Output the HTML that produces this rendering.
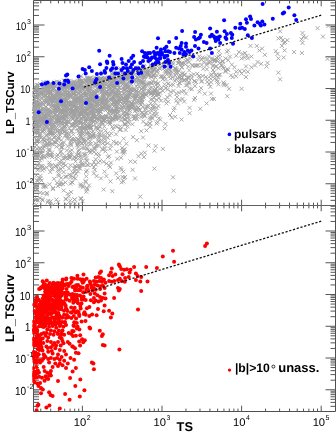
<!DOCTYPE html><html><head><meta charset="utf-8"><style>html,body{margin:0;padding:0;background:#fff;}svg{display:block;will-change:transform;}text{font-family:"Liberation Sans",sans-serif;text-rendering:geometricPrecision;}</style></head><body>
<svg width="336" height="434" viewBox="0 0 336 434">
<rect x="0" y="0" width="336" height="434" fill="#fff"/>
<g>
<path d="M33.5 200.35h5.5M335.5 200.35h-5M33.5 196.38h5.5M335.5 196.38h-5M33.5 193.31h5.5M335.5 193.31h-5M33.5 190.79h5.5M335.5 190.79h-5M33.5 188.67h5.5M335.5 188.67h-5M33.5 186.83h5.5M335.5 186.83h-5M33.5 185.20h5.5M335.5 185.20h-5M33.5 183.75h11M335.5 183.75h-10M33.5 174.19h5.5M335.5 174.19h-5M33.5 168.60h5.5M335.5 168.60h-5M33.5 164.63h5.5M335.5 164.63h-5M33.5 161.56h5.5M335.5 161.56h-5M33.5 159.04h5.5M335.5 159.04h-5M33.5 156.92h5.5M335.5 156.92h-5M33.5 155.08h5.5M335.5 155.08h-5M33.5 153.45h5.5M335.5 153.45h-5M33.5 152.00h11M335.5 152.00h-10M33.5 142.44h5.5M335.5 142.44h-5M33.5 136.85h5.5M335.5 136.85h-5M33.5 132.88h5.5M335.5 132.88h-5M33.5 129.81h5.5M335.5 129.81h-5M33.5 127.29h5.5M335.5 127.29h-5M33.5 125.17h5.5M335.5 125.17h-5M33.5 123.33h5.5M335.5 123.33h-5M33.5 121.70h5.5M335.5 121.70h-5M33.5 120.25h11M335.5 120.25h-10M33.5 110.69h5.5M335.5 110.69h-5M33.5 105.10h5.5M335.5 105.10h-5M33.5 101.13h5.5M335.5 101.13h-5M33.5 98.06h5.5M335.5 98.06h-5M33.5 95.54h5.5M335.5 95.54h-5M33.5 93.42h5.5M335.5 93.42h-5M33.5 91.58h5.5M335.5 91.58h-5M33.5 89.95h5.5M335.5 89.95h-5M33.5 88.50h11M335.5 88.50h-10M33.5 78.94h5.5M335.5 78.94h-5M33.5 73.35h5.5M335.5 73.35h-5M33.5 69.38h5.5M335.5 69.38h-5M33.5 66.31h5.5M335.5 66.31h-5M33.5 63.79h5.5M335.5 63.79h-5M33.5 61.67h5.5M335.5 61.67h-5M33.5 59.83h5.5M335.5 59.83h-5M33.5 58.20h5.5M335.5 58.20h-5M33.5 56.75h11M335.5 56.75h-10M33.5 47.19h5.5M335.5 47.19h-5M33.5 41.60h5.5M335.5 41.60h-5M33.5 37.63h5.5M335.5 37.63h-5M33.5 34.56h5.5M335.5 34.56h-5M33.5 32.04h5.5M335.5 32.04h-5M33.5 29.92h5.5M335.5 29.92h-5M33.5 28.08h5.5M335.5 28.08h-5M33.5 26.45h5.5M335.5 26.45h-5M33.5 25.00h11M335.5 25.00h-10M33.5 15.44h5.5M335.5 15.44h-5M33.5 9.85h5.5M335.5 9.85h-5M33.5 5.88h5.5M335.5 5.88h-5M33.5 2.81h5.5M335.5 2.81h-5M40.78 205.5v-2.9M40.78 0.5v2.9M50.72 205.5v-2.9M50.72 0.5v2.9M58.44 205.5v-2.9M58.44 0.5v2.9M64.74 205.5v-2.9M64.74 0.5v2.9M70.07 205.5v-2.9M70.07 0.5v2.9M74.69 205.5v-2.9M74.69 0.5v2.9M78.76 205.5v-2.9M78.76 0.5v2.9M82.40 205.5v-5.8M82.40 0.5v5.8M106.36 205.5v-2.9M106.36 0.5v2.9M120.38 205.5v-2.9M120.38 0.5v2.9M130.32 205.5v-2.9M130.32 0.5v2.9M138.04 205.5v-2.9M138.04 0.5v2.9M144.34 205.5v-2.9M144.34 0.5v2.9M149.67 205.5v-2.9M149.67 0.5v2.9M154.29 205.5v-2.9M154.29 0.5v2.9M158.36 205.5v-2.9M158.36 0.5v2.9M162.00 205.5v-5.8M162.00 0.5v5.8M185.96 205.5v-2.9M185.96 0.5v2.9M199.98 205.5v-2.9M199.98 0.5v2.9M209.92 205.5v-2.9M209.92 0.5v2.9M217.64 205.5v-2.9M217.64 0.5v2.9M223.94 205.5v-2.9M223.94 0.5v2.9M229.27 205.5v-2.9M229.27 0.5v2.9M233.89 205.5v-2.9M233.89 0.5v2.9M237.96 205.5v-2.9M237.96 0.5v2.9M241.60 205.5v-5.8M241.60 0.5v5.8M265.56 205.5v-2.9M265.56 0.5v2.9M279.58 205.5v-2.9M279.58 0.5v2.9M289.52 205.5v-2.9M289.52 0.5v2.9M297.24 205.5v-2.9M297.24 0.5v2.9M303.54 205.5v-2.9M303.54 0.5v2.9M308.87 205.5v-2.9M308.87 0.5v2.9M313.49 205.5v-2.9M313.49 0.5v2.9M317.56 205.5v-2.9M317.56 0.5v2.9M321.20 205.5v-5.8M321.20 0.5v5.8M33.5 406.35h5.5M335.5 406.35h-5M33.5 402.38h5.5M335.5 402.38h-5M33.5 399.31h5.5M335.5 399.31h-5M33.5 396.79h5.5M335.5 396.79h-5M33.5 394.67h5.5M335.5 394.67h-5M33.5 392.83h5.5M335.5 392.83h-5M33.5 391.20h5.5M335.5 391.20h-5M33.5 389.75h11M335.5 389.75h-10M33.5 380.19h5.5M335.5 380.19h-5M33.5 374.60h5.5M335.5 374.60h-5M33.5 370.63h5.5M335.5 370.63h-5M33.5 367.56h5.5M335.5 367.56h-5M33.5 365.04h5.5M335.5 365.04h-5M33.5 362.92h5.5M335.5 362.92h-5M33.5 361.08h5.5M335.5 361.08h-5M33.5 359.45h5.5M335.5 359.45h-5M33.5 358.00h11M335.5 358.00h-10M33.5 348.44h5.5M335.5 348.44h-5M33.5 342.85h5.5M335.5 342.85h-5M33.5 338.88h5.5M335.5 338.88h-5M33.5 335.81h5.5M335.5 335.81h-5M33.5 333.29h5.5M335.5 333.29h-5M33.5 331.17h5.5M335.5 331.17h-5M33.5 329.33h5.5M335.5 329.33h-5M33.5 327.70h5.5M335.5 327.70h-5M33.5 326.25h11M335.5 326.25h-10M33.5 316.69h5.5M335.5 316.69h-5M33.5 311.10h5.5M335.5 311.10h-5M33.5 307.13h5.5M335.5 307.13h-5M33.5 304.06h5.5M335.5 304.06h-5M33.5 301.54h5.5M335.5 301.54h-5M33.5 299.42h5.5M335.5 299.42h-5M33.5 297.58h5.5M335.5 297.58h-5M33.5 295.95h5.5M335.5 295.95h-5M33.5 294.50h11M335.5 294.50h-10M33.5 284.94h5.5M335.5 284.94h-5M33.5 279.35h5.5M335.5 279.35h-5M33.5 275.38h5.5M335.5 275.38h-5M33.5 272.31h5.5M335.5 272.31h-5M33.5 269.79h5.5M335.5 269.79h-5M33.5 267.67h5.5M335.5 267.67h-5M33.5 265.83h5.5M335.5 265.83h-5M33.5 264.20h5.5M335.5 264.20h-5M33.5 262.75h11M335.5 262.75h-10M33.5 253.19h5.5M335.5 253.19h-5M33.5 247.60h5.5M335.5 247.60h-5M33.5 243.63h5.5M335.5 243.63h-5M33.5 240.56h5.5M335.5 240.56h-5M33.5 238.04h5.5M335.5 238.04h-5M33.5 235.92h5.5M335.5 235.92h-5M33.5 234.08h5.5M335.5 234.08h-5M33.5 232.45h5.5M335.5 232.45h-5M33.5 231.00h11M335.5 231.00h-10M33.5 221.44h5.5M335.5 221.44h-5M33.5 215.85h5.5M335.5 215.85h-5M33.5 211.88h5.5M335.5 211.88h-5M33.5 208.81h5.5M335.5 208.81h-5M33.5 206.29h5.5M335.5 206.29h-5M40.78 411.5v-2.9M40.78 205.5v2.9M50.72 411.5v-2.9M50.72 205.5v2.9M58.44 411.5v-2.9M58.44 205.5v2.9M64.74 411.5v-2.9M64.74 205.5v2.9M70.07 411.5v-2.9M70.07 205.5v2.9M74.69 411.5v-2.9M74.69 205.5v2.9M78.76 411.5v-2.9M78.76 205.5v2.9M82.40 411.5v-5.8M82.40 205.5v5.8M106.36 411.5v-2.9M106.36 205.5v2.9M120.38 411.5v-2.9M120.38 205.5v2.9M130.32 411.5v-2.9M130.32 205.5v2.9M138.04 411.5v-2.9M138.04 205.5v2.9M144.34 411.5v-2.9M144.34 205.5v2.9M149.67 411.5v-2.9M149.67 205.5v2.9M154.29 411.5v-2.9M154.29 205.5v2.9M158.36 411.5v-2.9M158.36 205.5v2.9M162.00 411.5v-5.8M162.00 205.5v5.8M185.96 411.5v-2.9M185.96 205.5v2.9M199.98 411.5v-2.9M199.98 205.5v2.9M209.92 411.5v-2.9M209.92 205.5v2.9M217.64 411.5v-2.9M217.64 205.5v2.9M223.94 411.5v-2.9M223.94 205.5v2.9M229.27 411.5v-2.9M229.27 205.5v2.9M233.89 411.5v-2.9M233.89 205.5v2.9M237.96 411.5v-2.9M237.96 205.5v2.9M241.60 411.5v-5.8M241.60 205.5v5.8M265.56 411.5v-2.9M265.56 205.5v2.9M279.58 411.5v-2.9M279.58 205.5v2.9M289.52 411.5v-2.9M289.52 205.5v2.9M297.24 411.5v-2.9M297.24 205.5v2.9M303.54 411.5v-2.9M303.54 205.5v2.9M308.87 411.5v-2.9M308.87 205.5v2.9M313.49 411.5v-2.9M313.49 205.5v2.9M317.56 411.5v-2.9M317.56 205.5v2.9M321.20 411.5v-5.8M321.20 205.5v5.8" stroke="#555" stroke-width="1" fill="none"/>
<path d="M33.5 0.5H335.5V411.5H33.5Z" stroke="#505050" stroke-width="1" fill="none"/><path d="M33.5 205.5H335.5" stroke="#606060" stroke-width="1" fill="none"/>
<defs><clipPath id="ct"><rect x="32.3" y="0" width="304" height="205.5"/></clipPath><clipPath id="cb"><rect x="32.3" y="205.5" width="304" height="205.5"/></clipPath></defs>
<g clip-path="url(#ct)">
<path d="M226.2 48.4l4.0 4.0M226.2 52.4l4.0 -4.0M236.9 50.1l4.0 4.0M236.9 54.1l4.0 -4.0M234.2 53.7l4.0 4.0M234.2 57.7l4.0 -4.0M240.5 51.9l4.0 4.0M240.5 55.9l4.0 -4.0M243.1 51.0l4.0 4.0M243.1 55.0l4.0 -4.0M244.9 53.7l4.0 4.0M244.9 57.7l4.0 -4.0M242.2 55.5l4.0 4.0M242.2 59.5l4.0 -4.0M245.8 56.4l4.0 4.0M245.8 60.4l4.0 -4.0M239.6 56.4l4.0 4.0M239.6 60.4l4.0 -4.0M249.4 54.6l4.0 4.0M249.4 58.6l4.0 -4.0M248.5 43.9l4.0 4.0M248.5 47.9l4.0 -4.0M254.8 43.9l4.0 4.0M254.8 47.9l4.0 -4.0M257.4 48.4l4.0 4.0M257.4 52.4l4.0 -4.0M260.1 46.6l4.0 4.0M260.1 50.6l4.0 -4.0M262.8 52.8l4.0 4.0M262.8 56.8l4.0 -4.0M265.5 60.9l4.0 4.0M265.5 64.9l4.0 -4.0M264.6 64.4l4.0 4.0M264.6 68.4l4.0 -4.0M259.2 61.8l4.0 4.0M259.2 65.8l4.0 -4.0M255.6 60.0l4.0 4.0M255.6 64.0l4.0 -4.0M253.0 63.5l4.0 4.0M253.0 67.5l4.0 -4.0M249.4 65.3l4.0 4.0M249.4 69.3l4.0 -4.0M244.0 64.4l4.0 4.0M244.0 68.4l4.0 -4.0M242.2 68.9l4.0 4.0M242.2 72.9l4.0 -4.0M245.8 69.8l4.0 4.0M245.8 73.8l4.0 -4.0M239.6 71.6l4.0 4.0M239.6 75.6l4.0 -4.0M237.8 68.9l4.0 4.0M237.8 72.9l4.0 -4.0M234.2 69.8l4.0 4.0M234.2 73.8l4.0 -4.0M232.4 65.3l4.0 4.0M232.4 69.3l4.0 -4.0M229.8 62.6l4.0 4.0M229.8 66.6l4.0 -4.0M228.9 73.4l4.0 4.0M228.9 77.4l4.0 -4.0M230.6 75.1l4.0 4.0M230.6 79.1l4.0 -4.0M234.2 74.2l4.0 4.0M234.2 78.2l4.0 -4.0M244.0 75.1l4.0 4.0M244.0 79.1l4.0 -4.0M226.2 68.0l4.0 4.0M226.2 72.0l4.0 -4.0M223.5 69.8l4.0 4.0M223.5 73.8l4.0 -4.0M221.7 66.2l4.0 4.0M221.7 70.2l4.0 -4.0M219.9 63.5l4.0 4.0M219.9 67.5l4.0 -4.0M218.1 60.9l4.0 4.0M218.1 64.9l4.0 -4.0M216.4 57.3l4.0 4.0M216.4 61.3l4.0 -4.0M214.6 55.5l4.0 4.0M214.6 59.5l4.0 -4.0M212.8 59.1l4.0 4.0M212.8 63.1l4.0 -4.0M213.7 64.4l4.0 4.0M213.7 68.4l4.0 -4.0M216.4 66.2l4.0 4.0M216.4 70.2l4.0 -4.0M220.8 59.1l4.0 4.0M220.8 63.1l4.0 -4.0M223.5 56.4l4.0 4.0M223.5 60.4l4.0 -4.0M226.2 58.2l4.0 4.0M226.2 62.2l4.0 -4.0M228.0 54.6l4.0 4.0M228.0 58.6l4.0 -4.0M218.1 72.5l4.0 4.0M218.1 76.5l4.0 -4.0M216.4 75.1l4.0 4.0M216.4 79.1l4.0 -4.0M215.5 79.6l4.0 4.0M215.5 83.6l4.0 -4.0M216.4 82.3l4.0 4.0M216.4 86.3l4.0 -4.0M227.1 86.8l4.0 4.0M227.1 90.8l4.0 -4.0M239.6 86.8l4.0 4.0M239.6 90.8l4.0 -4.0M211.0 68.0l4.0 4.0M211.0 72.0l4.0 -4.0M278.1 29.3l4.0 4.0M278.1 33.3l4.0 -4.0M279.0 35.9l4.0 4.0M279.0 39.9l4.0 -4.0M280.8 38.2l4.0 4.0M280.8 42.2l4.0 -4.0M283.1 40.0l4.0 4.0M283.1 44.0l4.0 -4.0M285.3 38.2l4.0 4.0M285.3 42.2l4.0 -4.0M281.7 40.9l4.0 4.0M281.7 44.9l4.0 -4.0M300.5 31.0l4.0 4.0M300.5 35.0l4.0 -4.0M301.4 34.6l4.0 4.0M301.4 38.6l4.0 -4.0M304.0 35.5l4.0 4.0M304.0 39.5l4.0 -4.0M299.6 37.3l4.0 4.0M299.6 41.3l4.0 -4.0M300.5 40.9l4.0 4.0M300.5 44.9l4.0 -4.0M315.6 26.2l4.0 4.0M315.6 30.2l4.0 -4.0M321.0 34.6l4.0 4.0M321.0 38.6l4.0 -4.0M326.4 23.9l4.0 4.0M326.4 27.9l4.0 -4.0M276.4 36.4l4.0 4.0M276.4 40.4l4.0 -4.0M279.9 43.9l4.0 4.0M279.9 47.9l4.0 -4.0M282.6 48.4l4.0 4.0M282.6 52.4l4.0 -4.0M273.7 49.2l4.0 4.0M273.7 53.2l4.0 -4.0M275.5 51.9l4.0 4.0M275.5 55.9l4.0 -4.0M276.4 56.4l4.0 4.0M276.4 60.4l4.0 -4.0M281.7 55.5l4.0 4.0M281.7 59.5l4.0 -4.0M292.1 50.1l4.0 4.0M292.1 54.1l4.0 -4.0M299.9 51.0l4.0 4.0M299.9 55.0l4.0 -4.0M325.5 56.9l4.0 4.0M325.5 60.9l4.0 -4.0M276.4 70.7l4.0 4.0M276.4 74.7l4.0 -4.0M278.1 77.3l4.0 4.0M278.1 81.3l4.0 -4.0M211.9 96.9l4.0 4.0M211.9 100.9l4.0 -4.0M225.3 94.2l4.0 4.0M225.3 98.2l4.0 -4.0M152.8 89.8l4.0 4.0M152.8 93.8l4.0 -4.0M155.5 88.9l4.0 4.0M155.5 92.9l4.0 -4.0M158.1 90.7l4.0 4.0M158.1 94.7l4.0 -4.0M160.8 88.9l4.0 4.0M160.8 92.9l4.0 -4.0M156.4 92.5l4.0 4.0M156.4 96.5l4.0 -4.0M153.7 93.4l4.0 4.0M153.7 97.4l4.0 -4.0M151.9 96.0l4.0 4.0M151.9 100.0l4.0 -4.0M154.6 97.8l4.0 4.0M154.6 101.8l4.0 -4.0M152.8 100.5l4.0 4.0M152.8 104.5l4.0 -4.0M157.2 96.0l4.0 4.0M157.2 100.0l4.0 -4.0M159.0 98.7l4.0 4.0M159.0 102.7l4.0 -4.0M168.9 89.8l4.0 4.0M168.9 93.8l4.0 -4.0M171.5 88.9l4.0 4.0M171.5 92.9l4.0 -4.0M174.2 91.6l4.0 4.0M174.2 95.6l4.0 -4.0M176.9 90.7l4.0 4.0M176.9 94.7l4.0 -4.0M179.6 89.8l4.0 4.0M179.6 93.8l4.0 -4.0M182.2 88.9l4.0 4.0M182.2 92.9l4.0 -4.0M184.0 91.6l4.0 4.0M184.0 95.6l4.0 -4.0M168.0 93.4l4.0 4.0M168.0 97.4l4.0 -4.0M165.3 95.1l4.0 4.0M165.3 99.1l4.0 -4.0M163.5 97.8l4.0 4.0M163.5 101.8l4.0 -4.0M166.2 99.6l4.0 4.0M166.2 103.6l4.0 -4.0M164.4 101.4l4.0 4.0M164.4 105.4l4.0 -4.0M175.1 95.1l4.0 4.0M175.1 99.1l4.0 -4.0M177.8 97.8l4.0 4.0M177.8 101.8l4.0 -4.0M180.5 96.9l4.0 4.0M180.5 100.9l4.0 -4.0M182.2 99.6l4.0 4.0M182.2 103.6l4.0 -4.0M174.2 98.7l4.0 4.0M174.2 102.7l4.0 -4.0M176.0 101.4l4.0 4.0M176.0 105.4l4.0 -4.0M156.4 104.1l4.0 4.0M156.4 108.1l4.0 -4.0M154.6 105.9l4.0 4.0M154.6 109.9l4.0 -4.0M153.7 109.4l4.0 4.0M153.7 113.4l4.0 -4.0M151.9 111.2l4.0 4.0M151.9 115.2l4.0 -4.0M154.6 112.1l4.0 4.0M154.6 116.1l4.0 -4.0M152.8 113.9l4.0 4.0M152.8 117.9l4.0 -4.0M172.4 105.9l4.0 4.0M172.4 109.9l4.0 -4.0M171.5 108.5l4.0 4.0M171.5 112.5l4.0 -4.0M168.0 113.0l4.0 4.0M168.0 117.0l4.0 -4.0M169.8 115.7l4.0 4.0M169.8 119.7l4.0 -4.0M173.3 114.8l4.0 4.0M173.3 118.8l4.0 -4.0M158.1 117.5l4.0 4.0M158.1 121.5l4.0 -4.0M155.5 120.1l4.0 4.0M155.5 124.1l4.0 -4.0M154.6 121.6l4.0 4.0M154.6 125.6l4.0 -4.0M163.5 121.9l4.0 4.0M163.5 125.9l4.0 -4.0M162.6 126.4l4.0 4.0M162.6 130.4l4.0 -4.0M179.6 117.5l4.0 4.0M179.6 121.5l4.0 -4.0M187.6 105.9l4.0 4.0M187.6 109.9l4.0 -4.0M187.6 111.2l4.0 4.0M187.6 115.2l4.0 -4.0M193.0 96.0l4.0 4.0M193.0 100.0l4.0 -4.0M192.1 97.8l4.0 4.0M192.1 101.8l4.0 -4.0M197.4 89.8l4.0 4.0M197.4 93.8l4.0 -4.0M202.8 91.6l4.0 4.0M202.8 95.6l4.0 -4.0M198.3 106.8l4.0 4.0M198.3 110.8l4.0 -4.0M204.6 101.4l4.0 4.0M204.6 105.4l4.0 -4.0M209.0 91.6l4.0 4.0M209.0 95.6l4.0 -4.0M209.9 96.9l4.0 4.0M209.9 100.9l4.0 -4.0M153.7 144.1l4.0 4.0M153.7 148.1l4.0 -4.0M152.4 148.7l4.0 4.0M152.4 152.7l4.0 -4.0M160.8 146.9l4.0 4.0M160.8 150.9l4.0 -4.0M152.4 166.6l4.0 4.0M152.4 170.6l4.0 -4.0M171.0 175.3l4.0 4.0M171.0 179.3l4.0 -4.0M171.5 188.7l4.0 4.0M171.5 192.7l4.0 -4.0M91.9 159.8l4.0 4.0M91.9 163.8l4.0 -4.0M93.7 162.5l4.0 4.0M93.7 166.5l4.0 -4.0M91.9 165.1l4.0 4.0M91.9 169.1l4.0 -4.0M92.8 167.8l4.0 4.0M92.8 171.8l4.0 -4.0M96.4 160.7l4.0 4.0M96.4 164.7l4.0 -4.0M98.1 158.9l4.0 4.0M98.1 162.9l4.0 -4.0M101.7 159.8l4.0 4.0M101.7 163.8l4.0 -4.0M104.4 161.6l4.0 4.0M104.4 165.6l4.0 -4.0M107.1 163.4l4.0 4.0M107.1 167.4l4.0 -4.0M108.9 160.7l4.0 4.0M108.9 164.7l4.0 -4.0M108.0 165.1l4.0 4.0M108.0 169.1l4.0 -4.0M91.9 171.4l4.0 4.0M91.9 175.4l4.0 -4.0M94.6 174.1l4.0 4.0M94.6 178.1l4.0 -4.0M102.6 169.6l4.0 4.0M102.6 173.6l4.0 -4.0M104.4 174.1l4.0 4.0M104.4 178.1l4.0 -4.0M99.0 176.4l4.0 4.0M99.0 180.4l4.0 -4.0M108.5 179.4l4.0 4.0M108.5 183.4l4.0 -4.0M114.2 171.4l4.0 4.0M114.2 175.4l4.0 -4.0M116.0 175.9l4.0 4.0M116.0 179.9l4.0 -4.0M118.7 166.0l4.0 4.0M118.7 170.0l4.0 -4.0M119.6 167.8l4.0 4.0M119.6 171.8l4.0 -4.0M121.4 169.6l4.0 4.0M121.4 173.6l4.0 -4.0M120.5 175.0l4.0 4.0M120.5 179.0l4.0 -4.0M122.2 175.9l4.0 4.0M122.2 179.9l4.0 -4.0M123.1 175.0l4.0 4.0M123.1 179.0l4.0 -4.0M119.6 180.3l4.0 4.0M119.6 184.3l4.0 -4.0M121.4 179.4l4.0 4.0M121.4 183.4l4.0 -4.0M128.5 159.4l4.0 4.0M128.5 163.4l4.0 -4.0M133.0 159.8l4.0 4.0M133.0 163.8l4.0 -4.0M130.6 167.8l4.0 4.0M130.6 171.8l4.0 -4.0M133.0 176.4l4.0 4.0M133.0 180.4l4.0 -4.0M101.7 187.5l4.0 4.0M101.7 191.5l4.0 -4.0M110.3 189.2l4.0 4.0M110.3 193.2l4.0 -4.0M138.3 194.6l4.0 4.0M138.3 198.6l4.0 -4.0M134.8 138.2l4.0 4.0M134.8 142.2l4.0 -4.0M141.0 135.5l4.0 4.0M141.0 139.5l4.0 -4.0M139.2 129.2l4.0 4.0M139.2 133.2l4.0 -4.0M144.6 128.4l4.0 4.0M144.6 132.4l4.0 -4.0M148.1 124.8l4.0 4.0M148.1 128.8l4.0 -4.0M136.5 154.2l4.0 4.0M136.5 158.2l4.0 -4.0M139.2 151.6l4.0 4.0M139.2 155.6l4.0 -4.0M142.8 150.7l4.0 4.0M142.8 154.7l4.0 -4.0M141.9 155.1l4.0 4.0M141.9 159.1l4.0 -4.0M146.4 143.5l4.0 4.0M146.4 147.5l4.0 -4.0M216.8 49.2l4.0 4.0M216.8 53.2l4.0 -4.0M224.9 49.8l4.0 4.0M224.9 53.8l4.0 -4.0M189.3 53.9l4.0 4.0M189.3 57.9l4.0 -4.0M218.1 53.2l4.0 4.0M218.1 57.2l4.0 -4.0M182.0 54.9l4.0 4.0M182.0 58.9l4.0 -4.0M197.2 54.4l4.0 4.0M197.2 58.4l4.0 -4.0M206.9 54.4l4.0 4.0M206.9 58.4l4.0 -4.0M216.4 54.6l4.0 4.0M216.4 58.6l4.0 -4.0M200.5 55.5l4.0 4.0M200.5 59.5l4.0 -4.0M202.7 55.9l4.0 4.0M202.7 59.9l4.0 -4.0M188.2 56.5l4.0 4.0M188.2 60.5l4.0 -4.0M210.0 56.3l4.0 4.0M210.0 60.3l4.0 -4.0M185.3 57.2l4.0 4.0M185.3 61.2l4.0 -4.0M196.1 57.7l4.0 4.0M196.1 61.7l4.0 -4.0M199.3 57.7l4.0 4.0M199.3 61.7l4.0 -4.0M205.6 57.2l4.0 4.0M205.6 61.2l4.0 -4.0M212.7 57.4l4.0 4.0M212.7 61.4l4.0 -4.0M176.9 58.1l4.0 4.0M176.9 62.1l4.0 -4.0M176.9 58.8l4.0 4.0M176.9 62.8l4.0 -4.0M185.9 58.3l4.0 4.0M185.9 62.3l4.0 -4.0M210.4 58.0l4.0 4.0M210.4 62.0l4.0 -4.0M212.5 58.8l4.0 4.0M212.5 62.8l4.0 -4.0M183.6 59.0l4.0 4.0M183.6 63.0l4.0 -4.0M201.8 59.7l4.0 4.0M201.8 63.7l4.0 -4.0M208.7 59.6l4.0 4.0M208.7 63.6l4.0 -4.0M215.1 59.0l4.0 4.0M215.1 63.0l4.0 -4.0M220.7 59.7l4.0 4.0M220.7 63.7l4.0 -4.0M166.7 61.0l4.0 4.0M166.7 65.0l4.0 -4.0M170.6 60.3l4.0 4.0M170.6 64.3l4.0 -4.0M177.3 60.7l4.0 4.0M177.3 64.7l4.0 -4.0M187.0 60.3l4.0 4.0M187.0 64.3l4.0 -4.0M207.7 60.4l4.0 4.0M207.7 64.4l4.0 -4.0M207.0 60.7l4.0 4.0M207.0 64.7l4.0 -4.0M154.7 61.8l4.0 4.0M154.7 65.8l4.0 -4.0M159.5 61.6l4.0 4.0M159.5 65.6l4.0 -4.0M171.0 61.7l4.0 4.0M171.0 65.7l4.0 -4.0M175.9 61.1l4.0 4.0M175.9 65.1l4.0 -4.0M179.9 61.1l4.0 4.0M179.9 65.1l4.0 -4.0M179.6 61.4l4.0 4.0M179.6 65.4l4.0 -4.0M179.7 61.9l4.0 4.0M179.7 65.9l4.0 -4.0M181.9 61.2l4.0 4.0M181.9 65.2l4.0 -4.0M205.0 61.4l4.0 4.0M205.0 65.4l4.0 -4.0M148.7 62.6l4.0 4.0M148.7 66.6l4.0 -4.0M178.5 62.3l4.0 4.0M178.5 66.3l4.0 -4.0M183.4 62.4l4.0 4.0M183.4 66.4l4.0 -4.0M190.4 63.0l4.0 4.0M190.4 67.0l4.0 -4.0M141.8 63.9l4.0 4.0M141.8 67.9l4.0 -4.0M148.7 63.5l4.0 4.0M148.7 67.5l4.0 -4.0M166.4 63.4l4.0 4.0M166.4 67.4l4.0 -4.0M170.0 63.4l4.0 4.0M170.0 67.4l4.0 -4.0M190.9 63.8l4.0 4.0M190.9 67.8l4.0 -4.0M193.2 63.7l4.0 4.0M193.2 67.7l4.0 -4.0M194.1 63.6l4.0 4.0M194.1 67.6l4.0 -4.0M195.1 63.6l4.0 4.0M195.1 67.6l4.0 -4.0M196.3 63.2l4.0 4.0M196.3 67.2l4.0 -4.0M199.7 63.1l4.0 4.0M199.7 67.1l4.0 -4.0M204.6 63.1l4.0 4.0M204.6 67.1l4.0 -4.0M211.0 63.5l4.0 4.0M211.0 67.5l4.0 -4.0M219.2 63.2l4.0 4.0M219.2 67.2l4.0 -4.0M150.8 64.8l4.0 4.0M150.8 68.8l4.0 -4.0M151.9 64.6l4.0 4.0M151.9 68.6l4.0 -4.0M159.8 64.2l4.0 4.0M159.8 68.2l4.0 -4.0M164.0 64.7l4.0 4.0M164.0 68.7l4.0 -4.0M179.9 65.0l4.0 4.0M179.9 69.0l4.0 -4.0M186.2 64.6l4.0 4.0M186.2 68.6l4.0 -4.0M211.0 64.3l4.0 4.0M211.0 68.3l4.0 -4.0M214.2 64.4l4.0 4.0M214.2 68.4l4.0 -4.0M220.8 65.0l4.0 4.0M220.8 69.0l4.0 -4.0M122.1 65.8l4.0 4.0M122.1 69.8l4.0 -4.0M133.3 65.3l4.0 4.0M133.3 69.3l4.0 -4.0M142.4 65.0l4.0 4.0M142.4 69.0l4.0 -4.0M149.4 65.5l4.0 4.0M149.4 69.5l4.0 -4.0M153.9 65.7l4.0 4.0M153.9 69.7l4.0 -4.0M158.8 65.3l4.0 4.0M158.8 69.3l4.0 -4.0M162.2 65.8l4.0 4.0M162.2 69.8l4.0 -4.0M179.6 65.5l4.0 4.0M179.6 69.5l4.0 -4.0M118.4 66.3l4.0 4.0M118.4 70.3l4.0 -4.0M138.7 66.8l4.0 4.0M138.7 70.8l4.0 -4.0M149.2 66.1l4.0 4.0M149.2 70.1l4.0 -4.0M151.4 67.0l4.0 4.0M151.4 71.0l4.0 -4.0M157.7 66.8l4.0 4.0M157.7 70.8l4.0 -4.0M157.4 66.1l4.0 4.0M157.4 70.1l4.0 -4.0M166.1 66.7l4.0 4.0M166.1 70.7l4.0 -4.0M173.3 66.8l4.0 4.0M173.3 70.8l4.0 -4.0M173.2 66.0l4.0 4.0M173.2 70.0l4.0 -4.0M201.3 66.8l4.0 4.0M201.3 70.8l4.0 -4.0M126.7 67.2l4.0 4.0M126.7 71.2l4.0 -4.0M132.2 67.5l4.0 4.0M132.2 71.5l4.0 -4.0M138.8 67.0l4.0 4.0M138.8 71.0l4.0 -4.0M145.6 67.4l4.0 4.0M145.6 71.4l4.0 -4.0M152.1 67.8l4.0 4.0M152.1 71.8l4.0 -4.0M167.6 68.0l4.0 4.0M167.6 72.0l4.0 -4.0M173.1 67.3l4.0 4.0M173.1 71.3l4.0 -4.0M173.9 67.7l4.0 4.0M173.9 71.7l4.0 -4.0M204.9 67.3l4.0 4.0M204.9 71.3l4.0 -4.0M225.3 67.1l4.0 4.0M225.3 71.1l4.0 -4.0M113.4 68.4l4.0 4.0M113.4 72.4l4.0 -4.0M118.6 68.3l4.0 4.0M118.6 72.3l4.0 -4.0M119.1 68.5l4.0 4.0M119.1 72.5l4.0 -4.0M137.8 68.3l4.0 4.0M137.8 72.3l4.0 -4.0M139.1 68.2l4.0 4.0M139.1 72.2l4.0 -4.0M140.6 68.4l4.0 4.0M140.6 72.4l4.0 -4.0M142.6 68.9l4.0 4.0M142.6 72.9l4.0 -4.0M146.5 68.6l4.0 4.0M146.5 72.6l4.0 -4.0M150.5 68.2l4.0 4.0M150.5 72.2l4.0 -4.0M150.8 68.5l4.0 4.0M150.8 72.5l4.0 -4.0M152.5 68.2l4.0 4.0M152.5 72.2l4.0 -4.0M155.8 68.0l4.0 4.0M155.8 72.0l4.0 -4.0M162.8 68.8l4.0 4.0M162.8 72.8l4.0 -4.0M164.8 68.7l4.0 4.0M164.8 72.7l4.0 -4.0M167.6 68.7l4.0 4.0M167.6 72.7l4.0 -4.0M174.5 68.1l4.0 4.0M174.5 72.1l4.0 -4.0M177.0 68.8l4.0 4.0M177.0 72.8l4.0 -4.0M187.2 68.4l4.0 4.0M187.2 72.4l4.0 -4.0M223.5 68.5l4.0 4.0M223.5 72.5l4.0 -4.0M136.3 69.6l4.0 4.0M136.3 73.6l4.0 -4.0M143.5 69.9l4.0 4.0M143.5 73.9l4.0 -4.0M145.2 69.3l4.0 4.0M145.2 73.3l4.0 -4.0M145.8 69.4l4.0 4.0M145.8 73.4l4.0 -4.0M147.2 69.1l4.0 4.0M147.2 73.1l4.0 -4.0M150.2 69.5l4.0 4.0M150.2 73.5l4.0 -4.0M154.6 69.5l4.0 4.0M154.6 73.5l4.0 -4.0M155.4 69.3l4.0 4.0M155.4 73.3l4.0 -4.0M163.9 70.0l4.0 4.0M163.9 74.0l4.0 -4.0M165.9 69.9l4.0 4.0M165.9 73.9l4.0 -4.0M169.3 69.1l4.0 4.0M169.3 73.1l4.0 -4.0M100.4 70.6l4.0 4.0M100.4 74.6l4.0 -4.0M110.3 70.2l4.0 4.0M110.3 74.2l4.0 -4.0M122.9 70.7l4.0 4.0M122.9 74.7l4.0 -4.0M129.0 70.3l4.0 4.0M129.0 74.3l4.0 -4.0M144.1 70.4l4.0 4.0M144.1 74.4l4.0 -4.0M145.1 71.0l4.0 4.0M145.1 75.0l4.0 -4.0M145.1 70.5l4.0 4.0M145.1 74.5l4.0 -4.0M150.2 70.9l4.0 4.0M150.2 74.9l4.0 -4.0M173.6 70.3l4.0 4.0M173.6 74.3l4.0 -4.0M175.4 70.1l4.0 4.0M175.4 74.1l4.0 -4.0M181.1 70.7l4.0 4.0M181.1 74.7l4.0 -4.0M212.1 70.2l4.0 4.0M212.1 74.2l4.0 -4.0M109.6 71.8l4.0 4.0M109.6 75.8l4.0 -4.0M117.0 71.8l4.0 4.0M117.0 75.8l4.0 -4.0M120.2 71.1l4.0 4.0M120.2 75.1l4.0 -4.0M120.2 71.1l4.0 4.0M120.2 75.1l4.0 -4.0M123.9 71.9l4.0 4.0M123.9 75.9l4.0 -4.0M136.0 71.7l4.0 4.0M136.0 75.7l4.0 -4.0M138.3 71.6l4.0 4.0M138.3 75.6l4.0 -4.0M141.3 72.0l4.0 4.0M141.3 76.0l4.0 -4.0M145.9 71.0l4.0 4.0M145.9 75.0l4.0 -4.0M167.3 71.1l4.0 4.0M167.3 75.1l4.0 -4.0M169.0 71.7l4.0 4.0M169.0 75.7l4.0 -4.0M174.6 71.8l4.0 4.0M174.6 75.8l4.0 -4.0M180.4 71.9l4.0 4.0M180.4 75.9l4.0 -4.0M195.3 71.8l4.0 4.0M195.3 75.8l4.0 -4.0M110.2 72.0l4.0 4.0M110.2 76.0l4.0 -4.0M123.0 72.6l4.0 4.0M123.0 76.6l4.0 -4.0M122.4 72.9l4.0 4.0M122.4 76.9l4.0 -4.0M124.0 72.3l4.0 4.0M124.0 76.3l4.0 -4.0M124.6 72.6l4.0 4.0M124.6 76.6l4.0 -4.0M124.2 72.9l4.0 4.0M124.2 76.9l4.0 -4.0M124.1 72.7l4.0 4.0M124.1 76.7l4.0 -4.0M125.8 72.2l4.0 4.0M125.8 76.2l4.0 -4.0M126.8 73.0l4.0 4.0M126.8 77.0l4.0 -4.0M126.8 72.9l4.0 4.0M126.8 76.9l4.0 -4.0M132.8 72.3l4.0 4.0M132.8 76.3l4.0 -4.0M145.5 72.4l4.0 4.0M145.5 76.4l4.0 -4.0M146.5 72.4l4.0 4.0M146.5 76.4l4.0 -4.0M151.9 72.8l4.0 4.0M151.9 76.8l4.0 -4.0M164.8 72.5l4.0 4.0M164.8 76.5l4.0 -4.0M177.9 73.0l4.0 4.0M177.9 77.0l4.0 -4.0M182.3 72.8l4.0 4.0M182.3 76.8l4.0 -4.0M191.9 72.3l4.0 4.0M191.9 76.3l4.0 -4.0M209.5 72.3l4.0 4.0M209.5 76.3l4.0 -4.0M217.1 72.9l4.0 4.0M217.1 76.9l4.0 -4.0M123.4 73.1l4.0 4.0M123.4 77.1l4.0 -4.0M123.8 73.5l4.0 4.0M123.8 77.5l4.0 -4.0M129.6 73.7l4.0 4.0M129.6 77.7l4.0 -4.0M139.6 73.3l4.0 4.0M139.6 77.3l4.0 -4.0M140.0 73.6l4.0 4.0M140.0 77.6l4.0 -4.0M141.7 73.9l4.0 4.0M141.7 77.9l4.0 -4.0M143.0 73.8l4.0 4.0M143.0 77.8l4.0 -4.0M146.5 73.8l4.0 4.0M146.5 77.8l4.0 -4.0M146.7 73.8l4.0 4.0M146.7 77.8l4.0 -4.0M151.2 73.5l4.0 4.0M151.2 77.5l4.0 -4.0M154.5 73.1l4.0 4.0M154.5 77.1l4.0 -4.0M168.4 73.8l4.0 4.0M168.4 77.8l4.0 -4.0M173.2 73.3l4.0 4.0M173.2 77.3l4.0 -4.0M182.5 73.1l4.0 4.0M182.5 77.1l4.0 -4.0M189.2 73.3l4.0 4.0M189.2 77.3l4.0 -4.0M197.1 73.9l4.0 4.0M197.1 77.9l4.0 -4.0M200.7 74.0l4.0 4.0M200.7 78.0l4.0 -4.0M208.9 73.6l4.0 4.0M208.9 77.6l4.0 -4.0M213.7 73.0l4.0 4.0M213.7 77.0l4.0 -4.0M213.9 73.6l4.0 4.0M213.9 77.6l4.0 -4.0M79.2 74.0l4.0 4.0M79.2 78.0l4.0 -4.0M112.7 74.0l4.0 4.0M112.7 78.0l4.0 -4.0M115.7 74.7l4.0 4.0M115.7 78.7l4.0 -4.0M117.1 74.2l4.0 4.0M117.1 78.2l4.0 -4.0M121.7 75.0l4.0 4.0M121.7 79.0l4.0 -4.0M127.1 74.1l4.0 4.0M127.1 78.1l4.0 -4.0M129.9 74.3l4.0 4.0M129.9 78.3l4.0 -4.0M137.9 74.7l4.0 4.0M137.9 78.7l4.0 -4.0M138.8 74.4l4.0 4.0M138.8 78.4l4.0 -4.0M141.7 74.8l4.0 4.0M141.7 78.8l4.0 -4.0M149.0 74.4l4.0 4.0M149.0 78.4l4.0 -4.0M149.6 74.4l4.0 4.0M149.6 78.4l4.0 -4.0M151.5 74.2l4.0 4.0M151.5 78.2l4.0 -4.0M158.7 74.5l4.0 4.0M158.7 78.5l4.0 -4.0M159.6 74.9l4.0 4.0M159.6 78.9l4.0 -4.0M160.5 74.2l4.0 4.0M160.5 78.2l4.0 -4.0M162.4 74.4l4.0 4.0M162.4 78.4l4.0 -4.0M179.6 74.5l4.0 4.0M179.6 78.5l4.0 -4.0M186.1 74.6l4.0 4.0M186.1 78.6l4.0 -4.0M203.9 74.9l4.0 4.0M203.9 78.9l4.0 -4.0M84.9 75.6l4.0 4.0M84.9 79.6l4.0 -4.0M92.7 75.2l4.0 4.0M92.7 79.2l4.0 -4.0M96.6 75.4l4.0 4.0M96.6 79.4l4.0 -4.0M102.8 75.7l4.0 4.0M102.8 79.7l4.0 -4.0M106.8 75.7l4.0 4.0M106.8 79.7l4.0 -4.0M107.8 75.3l4.0 4.0M107.8 79.3l4.0 -4.0M109.0 75.6l4.0 4.0M109.0 79.6l4.0 -4.0M110.8 75.9l4.0 4.0M110.8 79.9l4.0 -4.0M112.4 75.4l4.0 4.0M112.4 79.4l4.0 -4.0M117.0 75.9l4.0 4.0M117.0 79.9l4.0 -4.0M118.5 75.9l4.0 4.0M118.5 79.9l4.0 -4.0M119.4 75.8l4.0 4.0M119.4 79.8l4.0 -4.0M124.6 75.3l4.0 4.0M124.6 79.3l4.0 -4.0M124.1 75.9l4.0 4.0M124.1 79.9l4.0 -4.0M126.0 75.0l4.0 4.0M126.0 79.0l4.0 -4.0M126.3 75.2l4.0 4.0M126.3 79.2l4.0 -4.0M129.2 75.4l4.0 4.0M129.2 79.4l4.0 -4.0M134.6 75.5l4.0 4.0M134.6 79.5l4.0 -4.0M135.6 75.9l4.0 4.0M135.6 79.9l4.0 -4.0M141.8 76.0l4.0 4.0M141.8 80.0l4.0 -4.0M143.2 75.0l4.0 4.0M143.2 79.0l4.0 -4.0M149.4 75.1l4.0 4.0M149.4 79.1l4.0 -4.0M153.5 75.6l4.0 4.0M153.5 79.6l4.0 -4.0M170.8 75.4l4.0 4.0M170.8 79.4l4.0 -4.0M177.4 75.4l4.0 4.0M177.4 79.4l4.0 -4.0M197.5 75.7l4.0 4.0M197.5 79.7l4.0 -4.0M78.3 76.4l4.0 4.0M78.3 80.4l4.0 -4.0M85.2 77.0l4.0 4.0M85.2 81.0l4.0 -4.0M86.3 76.0l4.0 4.0M86.3 80.0l4.0 -4.0M87.9 76.6l4.0 4.0M87.9 80.6l4.0 -4.0M88.0 76.2l4.0 4.0M88.0 80.2l4.0 -4.0M87.3 76.4l4.0 4.0M87.3 80.4l4.0 -4.0M87.2 76.2l4.0 4.0M87.2 80.2l4.0 -4.0M88.5 76.4l4.0 4.0M88.5 80.4l4.0 -4.0M98.6 76.1l4.0 4.0M98.6 80.1l4.0 -4.0M98.1 76.9l4.0 4.0M98.1 80.9l4.0 -4.0M99.4 76.5l4.0 4.0M99.4 80.5l4.0 -4.0M99.3 76.7l4.0 4.0M99.3 80.7l4.0 -4.0M100.6 76.7l4.0 4.0M100.6 80.7l4.0 -4.0M102.6 76.0l4.0 4.0M102.6 80.0l4.0 -4.0M104.2 76.8l4.0 4.0M104.2 80.8l4.0 -4.0M107.9 76.3l4.0 4.0M107.9 80.3l4.0 -4.0M110.3 76.4l4.0 4.0M110.3 80.4l4.0 -4.0M111.2 76.1l4.0 4.0M111.2 80.1l4.0 -4.0M112.0 76.2l4.0 4.0M112.0 80.2l4.0 -4.0M123.3 76.6l4.0 4.0M123.3 80.6l4.0 -4.0M125.2 76.7l4.0 4.0M125.2 80.7l4.0 -4.0M126.2 76.7l4.0 4.0M126.2 80.7l4.0 -4.0M126.1 76.9l4.0 4.0M126.1 80.9l4.0 -4.0M136.6 76.2l4.0 4.0M136.6 80.2l4.0 -4.0M161.1 77.0l4.0 4.0M161.1 81.0l4.0 -4.0M168.6 76.5l4.0 4.0M168.6 80.5l4.0 -4.0M175.5 76.3l4.0 4.0M175.5 80.3l4.0 -4.0M179.3 76.5l4.0 4.0M179.3 80.5l4.0 -4.0M185.9 76.1l4.0 4.0M185.9 80.1l4.0 -4.0M186.6 76.1l4.0 4.0M186.6 80.1l4.0 -4.0M189.8 76.3l4.0 4.0M189.8 80.3l4.0 -4.0M205.2 76.5l4.0 4.0M205.2 80.5l4.0 -4.0M208.8 76.8l4.0 4.0M208.8 80.8l4.0 -4.0M212.5 76.7l4.0 4.0M212.5 80.7l4.0 -4.0M83.7 77.8l4.0 4.0M83.7 81.8l4.0 -4.0M86.1 77.9l4.0 4.0M86.1 81.9l4.0 -4.0M87.5 77.6l4.0 4.0M87.5 81.6l4.0 -4.0M88.0 77.2l4.0 4.0M88.0 81.2l4.0 -4.0M89.3 77.4l4.0 4.0M89.3 81.4l4.0 -4.0M90.7 77.1l4.0 4.0M90.7 81.1l4.0 -4.0M96.5 77.6l4.0 4.0M96.5 81.6l4.0 -4.0M102.4 77.2l4.0 4.0M102.4 81.2l4.0 -4.0M105.7 77.2l4.0 4.0M105.7 81.2l4.0 -4.0M106.9 77.6l4.0 4.0M106.9 81.6l4.0 -4.0M106.5 77.9l4.0 4.0M106.5 81.9l4.0 -4.0M111.4 77.9l4.0 4.0M111.4 81.9l4.0 -4.0M114.4 77.2l4.0 4.0M114.4 81.2l4.0 -4.0M123.9 77.1l4.0 4.0M123.9 81.1l4.0 -4.0M129.6 77.6l4.0 4.0M129.6 81.6l4.0 -4.0M133.6 77.9l4.0 4.0M133.6 81.9l4.0 -4.0M141.0 77.3l4.0 4.0M141.0 81.3l4.0 -4.0M160.7 77.3l4.0 4.0M160.7 81.3l4.0 -4.0M163.9 77.4l4.0 4.0M163.9 81.4l4.0 -4.0M174.1 77.4l4.0 4.0M174.1 81.4l4.0 -4.0M179.0 77.6l4.0 4.0M179.0 81.6l4.0 -4.0M182.3 77.9l4.0 4.0M182.3 81.9l4.0 -4.0M62.0 78.5l4.0 4.0M62.0 82.5l4.0 -4.0M67.5 78.9l4.0 4.0M67.5 82.9l4.0 -4.0M77.6 78.6l4.0 4.0M77.6 82.6l4.0 -4.0M78.9 78.6l4.0 4.0M78.9 82.6l4.0 -4.0M79.6 78.9l4.0 4.0M79.6 82.9l4.0 -4.0M79.5 78.8l4.0 4.0M79.5 82.8l4.0 -4.0M83.9 78.9l4.0 4.0M83.9 82.9l4.0 -4.0M86.0 78.2l4.0 4.0M86.0 82.2l4.0 -4.0M89.9 78.6l4.0 4.0M89.9 82.6l4.0 -4.0M93.1 78.9l4.0 4.0M93.1 82.9l4.0 -4.0M94.8 78.6l4.0 4.0M94.8 82.6l4.0 -4.0M95.7 78.4l4.0 4.0M95.7 82.4l4.0 -4.0M96.0 78.5l4.0 4.0M96.0 82.5l4.0 -4.0M96.6 78.8l4.0 4.0M96.6 82.8l4.0 -4.0M96.7 78.0l4.0 4.0M96.7 82.0l4.0 -4.0M98.1 78.4l4.0 4.0M98.1 82.4l4.0 -4.0M100.2 78.3l4.0 4.0M100.2 82.3l4.0 -4.0M101.4 78.7l4.0 4.0M101.4 82.7l4.0 -4.0M105.4 78.4l4.0 4.0M105.4 82.4l4.0 -4.0M112.2 78.2l4.0 4.0M112.2 82.2l4.0 -4.0M113.7 78.4l4.0 4.0M113.7 82.4l4.0 -4.0M121.3 78.2l4.0 4.0M121.3 82.2l4.0 -4.0M121.2 78.2l4.0 4.0M121.2 82.2l4.0 -4.0M129.8 78.5l4.0 4.0M129.8 82.5l4.0 -4.0M131.9 78.5l4.0 4.0M131.9 82.5l4.0 -4.0M131.8 78.1l4.0 4.0M131.8 82.1l4.0 -4.0M136.3 78.4l4.0 4.0M136.3 82.4l4.0 -4.0M137.5 78.5l4.0 4.0M137.5 82.5l4.0 -4.0M138.0 78.4l4.0 4.0M138.0 82.4l4.0 -4.0M172.8 78.9l4.0 4.0M172.8 82.9l4.0 -4.0M182.1 78.5l4.0 4.0M182.1 82.5l4.0 -4.0M182.3 78.3l4.0 4.0M182.3 82.3l4.0 -4.0M184.9 78.2l4.0 4.0M184.9 82.2l4.0 -4.0M214.7 78.0l4.0 4.0M214.7 82.0l4.0 -4.0M55.0 79.7l4.0 4.0M55.0 83.7l4.0 -4.0M62.5 79.4l4.0 4.0M62.5 83.4l4.0 -4.0M64.1 79.7l4.0 4.0M64.1 83.7l4.0 -4.0M72.1 79.4l4.0 4.0M72.1 83.4l4.0 -4.0M74.9 79.8l4.0 4.0M74.9 83.8l4.0 -4.0M76.8 79.5l4.0 4.0M76.8 83.5l4.0 -4.0M77.1 79.3l4.0 4.0M77.1 83.3l4.0 -4.0M78.7 80.0l4.0 4.0M78.7 84.0l4.0 -4.0M79.6 79.4l4.0 4.0M79.6 83.4l4.0 -4.0M81.3 79.3l4.0 4.0M81.3 83.3l4.0 -4.0M84.3 79.4l4.0 4.0M84.3 83.4l4.0 -4.0M85.2 79.9l4.0 4.0M85.2 83.9l4.0 -4.0M87.9 79.5l4.0 4.0M87.9 83.5l4.0 -4.0M88.3 79.3l4.0 4.0M88.3 83.3l4.0 -4.0M89.7 79.9l4.0 4.0M89.7 83.9l4.0 -4.0M91.0 80.0l4.0 4.0M91.0 84.0l4.0 -4.0M94.9 79.6l4.0 4.0M94.9 83.6l4.0 -4.0M95.4 79.7l4.0 4.0M95.4 83.7l4.0 -4.0M98.5 79.8l4.0 4.0M98.5 83.8l4.0 -4.0M101.5 79.1l4.0 4.0M101.5 83.1l4.0 -4.0M107.4 79.2l4.0 4.0M107.4 83.2l4.0 -4.0M107.6 79.7l4.0 4.0M107.6 83.7l4.0 -4.0M110.3 79.8l4.0 4.0M110.3 83.8l4.0 -4.0M112.0 79.5l4.0 4.0M112.0 83.5l4.0 -4.0M115.3 79.9l4.0 4.0M115.3 83.9l4.0 -4.0M117.4 79.3l4.0 4.0M117.4 83.3l4.0 -4.0M119.9 79.4l4.0 4.0M119.9 83.4l4.0 -4.0M119.5 79.1l4.0 4.0M119.5 83.1l4.0 -4.0M127.3 79.7l4.0 4.0M127.3 83.7l4.0 -4.0M134.4 79.6l4.0 4.0M134.4 83.6l4.0 -4.0M140.0 79.6l4.0 4.0M140.0 83.6l4.0 -4.0M150.6 79.2l4.0 4.0M150.6 83.2l4.0 -4.0M192.4 79.3l4.0 4.0M192.4 83.3l4.0 -4.0M192.3 79.2l4.0 4.0M192.3 83.2l4.0 -4.0M199.2 79.5l4.0 4.0M199.2 83.5l4.0 -4.0M200.0 79.2l4.0 4.0M200.0 83.2l4.0 -4.0M205.4 79.9l4.0 4.0M205.4 83.9l4.0 -4.0M41.5 80.1l4.0 4.0M41.5 84.1l4.0 -4.0M45.2 80.7l4.0 4.0M45.2 84.7l4.0 -4.0M52.5 80.5l4.0 4.0M52.5 84.5l4.0 -4.0M56.9 80.0l4.0 4.0M56.9 84.0l4.0 -4.0M67.1 80.5l4.0 4.0M67.1 84.5l4.0 -4.0M71.7 80.5l4.0 4.0M71.7 84.5l4.0 -4.0M72.4 80.3l4.0 4.0M72.4 84.3l4.0 -4.0M74.8 80.5l4.0 4.0M74.8 84.5l4.0 -4.0M80.2 80.3l4.0 4.0M80.2 84.3l4.0 -4.0M81.1 80.5l4.0 4.0M81.1 84.5l4.0 -4.0M87.9 80.7l4.0 4.0M87.9 84.7l4.0 -4.0M92.3 80.8l4.0 4.0M92.3 84.8l4.0 -4.0M101.0 80.8l4.0 4.0M101.0 84.8l4.0 -4.0M109.0 80.5l4.0 4.0M109.0 84.5l4.0 -4.0M115.7 80.2l4.0 4.0M115.7 84.2l4.0 -4.0M117.7 80.4l4.0 4.0M117.7 84.4l4.0 -4.0M119.6 80.5l4.0 4.0M119.6 84.5l4.0 -4.0M120.9 80.2l4.0 4.0M120.9 84.2l4.0 -4.0M125.3 80.6l4.0 4.0M125.3 84.6l4.0 -4.0M127.8 80.7l4.0 4.0M127.8 84.7l4.0 -4.0M131.6 80.3l4.0 4.0M131.6 84.3l4.0 -4.0M139.2 80.1l4.0 4.0M139.2 84.1l4.0 -4.0M140.8 80.2l4.0 4.0M140.8 84.2l4.0 -4.0M141.9 80.2l4.0 4.0M141.9 84.2l4.0 -4.0M147.4 80.6l4.0 4.0M147.4 84.6l4.0 -4.0M149.8 80.9l4.0 4.0M149.8 84.9l4.0 -4.0M153.6 80.1l4.0 4.0M153.6 84.1l4.0 -4.0M153.5 80.7l4.0 4.0M153.5 84.7l4.0 -4.0M177.4 80.6l4.0 4.0M177.4 84.6l4.0 -4.0M186.8 80.1l4.0 4.0M186.8 84.1l4.0 -4.0M194.1 80.1l4.0 4.0M194.1 84.1l4.0 -4.0M209.1 80.3l4.0 4.0M209.1 84.3l4.0 -4.0M221.6 80.5l4.0 4.0M221.6 84.5l4.0 -4.0M48.8 81.7l4.0 4.0M48.8 85.7l4.0 -4.0M58.6 81.9l4.0 4.0M58.6 85.9l4.0 -4.0M60.5 81.6l4.0 4.0M60.5 85.6l4.0 -4.0M68.3 81.2l4.0 4.0M68.3 85.2l4.0 -4.0M69.6 81.3l4.0 4.0M69.6 85.3l4.0 -4.0M71.2 81.0l4.0 4.0M71.2 85.0l4.0 -4.0M78.7 81.4l4.0 4.0M78.7 85.4l4.0 -4.0M79.5 81.1l4.0 4.0M79.5 85.1l4.0 -4.0M85.8 81.5l4.0 4.0M85.8 85.5l4.0 -4.0M85.1 81.4l4.0 4.0M85.1 85.4l4.0 -4.0M89.1 81.6l4.0 4.0M89.1 85.6l4.0 -4.0M93.3 81.6l4.0 4.0M93.3 85.6l4.0 -4.0M94.6 81.4l4.0 4.0M94.6 85.4l4.0 -4.0M96.7 81.7l4.0 4.0M96.7 85.7l4.0 -4.0M100.1 81.1l4.0 4.0M100.1 85.1l4.0 -4.0M100.5 81.9l4.0 4.0M100.5 85.9l4.0 -4.0M102.4 81.5l4.0 4.0M102.4 85.5l4.0 -4.0M103.9 81.5l4.0 4.0M103.9 85.5l4.0 -4.0M105.4 81.6l4.0 4.0M105.4 85.6l4.0 -4.0M111.9 81.7l4.0 4.0M111.9 85.7l4.0 -4.0M113.2 81.0l4.0 4.0M113.2 85.0l4.0 -4.0M121.6 81.3l4.0 4.0M121.6 85.3l4.0 -4.0M124.0 81.7l4.0 4.0M124.0 85.7l4.0 -4.0M138.0 81.6l4.0 4.0M138.0 85.6l4.0 -4.0M140.2 81.2l4.0 4.0M140.2 85.2l4.0 -4.0M141.9 81.8l4.0 4.0M141.9 85.8l4.0 -4.0M146.1 81.3l4.0 4.0M146.1 85.3l4.0 -4.0M149.3 81.4l4.0 4.0M149.3 85.4l4.0 -4.0M156.1 81.2l4.0 4.0M156.1 85.2l4.0 -4.0M166.3 81.5l4.0 4.0M166.3 85.5l4.0 -4.0M166.2 82.0l4.0 4.0M166.2 86.0l4.0 -4.0M177.8 81.2l4.0 4.0M177.8 85.2l4.0 -4.0M187.0 81.5l4.0 4.0M187.0 85.5l4.0 -4.0M206.9 81.9l4.0 4.0M206.9 85.9l4.0 -4.0M222.0 81.7l4.0 4.0M222.0 85.7l4.0 -4.0M34.6 82.9l4.0 4.0M34.6 86.9l4.0 -4.0M38.0 82.1l4.0 4.0M38.0 86.1l4.0 -4.0M41.0 82.2l4.0 4.0M41.0 86.2l4.0 -4.0M46.1 82.6l4.0 4.0M46.1 86.6l4.0 -4.0M47.2 82.4l4.0 4.0M47.2 86.4l4.0 -4.0M53.6 83.0l4.0 4.0M53.6 87.0l4.0 -4.0M61.7 82.6l4.0 4.0M61.7 86.6l4.0 -4.0M67.5 83.0l4.0 4.0M67.5 87.0l4.0 -4.0M73.9 82.4l4.0 4.0M73.9 86.4l4.0 -4.0M73.2 82.1l4.0 4.0M73.2 86.1l4.0 -4.0M76.3 82.9l4.0 4.0M76.3 86.9l4.0 -4.0M78.0 82.3l4.0 4.0M78.0 86.3l4.0 -4.0M78.7 82.2l4.0 4.0M78.7 86.2l4.0 -4.0M79.6 82.1l4.0 4.0M79.6 86.1l4.0 -4.0M90.4 83.0l4.0 4.0M90.4 87.0l4.0 -4.0M93.4 82.1l4.0 4.0M93.4 86.1l4.0 -4.0M94.1 82.9l4.0 4.0M94.1 86.9l4.0 -4.0M96.4 82.5l4.0 4.0M96.4 86.5l4.0 -4.0M98.4 82.1l4.0 4.0M98.4 86.1l4.0 -4.0M99.8 82.3l4.0 4.0M99.8 86.3l4.0 -4.0M103.8 82.8l4.0 4.0M103.8 86.8l4.0 -4.0M108.3 82.0l4.0 4.0M108.3 86.0l4.0 -4.0M110.4 82.3l4.0 4.0M110.4 86.3l4.0 -4.0M116.4 82.9l4.0 4.0M116.4 86.9l4.0 -4.0M120.5 82.4l4.0 4.0M120.5 86.4l4.0 -4.0M125.0 82.4l4.0 4.0M125.0 86.4l4.0 -4.0M129.0 82.3l4.0 4.0M129.0 86.3l4.0 -4.0M135.7 82.2l4.0 4.0M135.7 86.2l4.0 -4.0M144.1 82.5l4.0 4.0M144.1 86.5l4.0 -4.0M146.2 82.7l4.0 4.0M146.2 86.7l4.0 -4.0M154.1 82.9l4.0 4.0M154.1 86.9l4.0 -4.0M155.5 82.0l4.0 4.0M155.5 86.0l4.0 -4.0M162.5 82.3l4.0 4.0M162.5 86.3l4.0 -4.0M171.2 82.8l4.0 4.0M171.2 86.8l4.0 -4.0M185.3 82.9l4.0 4.0M185.3 86.9l4.0 -4.0M35.9 83.2l4.0 4.0M35.9 87.2l4.0 -4.0M36.0 83.3l4.0 4.0M36.0 87.3l4.0 -4.0M43.2 83.6l4.0 4.0M43.2 87.6l4.0 -4.0M45.2 83.1l4.0 4.0M45.2 87.1l4.0 -4.0M46.4 83.8l4.0 4.0M46.4 87.8l4.0 -4.0M49.8 84.0l4.0 4.0M49.8 88.0l4.0 -4.0M50.2 83.1l4.0 4.0M50.2 87.1l4.0 -4.0M50.2 83.3l4.0 4.0M50.2 87.3l4.0 -4.0M51.7 83.2l4.0 4.0M51.7 87.2l4.0 -4.0M54.8 83.1l4.0 4.0M54.8 87.1l4.0 -4.0M58.0 83.7l4.0 4.0M58.0 87.7l4.0 -4.0M58.2 83.4l4.0 4.0M58.2 87.4l4.0 -4.0M59.4 83.8l4.0 4.0M59.4 87.8l4.0 -4.0M59.5 83.9l4.0 4.0M59.5 87.9l4.0 -4.0M60.0 83.8l4.0 4.0M60.0 87.8l4.0 -4.0M60.4 83.1l4.0 4.0M60.4 87.1l4.0 -4.0M61.9 83.4l4.0 4.0M61.9 87.4l4.0 -4.0M64.1 83.8l4.0 4.0M64.1 87.8l4.0 -4.0M64.8 83.7l4.0 4.0M64.8 87.7l4.0 -4.0M65.6 83.8l4.0 4.0M65.6 87.8l4.0 -4.0M67.9 83.1l4.0 4.0M67.9 87.1l4.0 -4.0M69.4 83.0l4.0 4.0M69.4 87.0l4.0 -4.0M69.4 83.6l4.0 4.0M69.4 87.6l4.0 -4.0M71.0 83.3l4.0 4.0M71.0 87.3l4.0 -4.0M72.2 83.2l4.0 4.0M72.2 87.2l4.0 -4.0M75.9 83.2l4.0 4.0M75.9 87.2l4.0 -4.0M76.9 83.4l4.0 4.0M76.9 87.4l4.0 -4.0M78.3 83.7l4.0 4.0M78.3 87.7l4.0 -4.0M79.6 83.3l4.0 4.0M79.6 87.3l4.0 -4.0M85.0 83.7l4.0 4.0M85.0 87.7l4.0 -4.0M98.0 83.5l4.0 4.0M98.0 87.5l4.0 -4.0M100.2 83.2l4.0 4.0M100.2 87.2l4.0 -4.0M107.8 83.3l4.0 4.0M107.8 87.3l4.0 -4.0M108.4 83.6l4.0 4.0M108.4 87.6l4.0 -4.0M109.1 83.2l4.0 4.0M109.1 87.2l4.0 -4.0M110.3 83.7l4.0 4.0M110.3 87.7l4.0 -4.0M113.6 83.1l4.0 4.0M113.6 87.1l4.0 -4.0M116.6 83.2l4.0 4.0M116.6 87.2l4.0 -4.0M123.8 83.9l4.0 4.0M123.8 87.9l4.0 -4.0M125.8 83.4l4.0 4.0M125.8 87.4l4.0 -4.0M142.2 83.9l4.0 4.0M142.2 87.9l4.0 -4.0M168.6 83.4l4.0 4.0M168.6 87.4l4.0 -4.0M176.6 84.0l4.0 4.0M176.6 88.0l4.0 -4.0M184.0 83.4l4.0 4.0M184.0 87.4l4.0 -4.0M192.9 84.0l4.0 4.0M192.9 88.0l4.0 -4.0M222.1 83.2l4.0 4.0M222.1 87.2l4.0 -4.0M224.6 83.1l4.0 4.0M224.6 87.1l4.0 -4.0M33.8 84.2l4.0 4.0M33.8 88.2l4.0 -4.0M41.8 84.5l4.0 4.0M41.8 88.5l4.0 -4.0M44.4 84.4l4.0 4.0M44.4 88.4l4.0 -4.0M44.2 84.9l4.0 4.0M44.2 88.9l4.0 -4.0M45.7 84.8l4.0 4.0M45.7 88.8l4.0 -4.0M47.2 84.0l4.0 4.0M47.2 88.0l4.0 -4.0M49.6 84.5l4.0 4.0M49.6 88.5l4.0 -4.0M53.0 84.3l4.0 4.0M53.0 88.3l4.0 -4.0M60.6 84.7l4.0 4.0M60.6 88.7l4.0 -4.0M62.4 84.6l4.0 4.0M62.4 88.6l4.0 -4.0M64.7 84.6l4.0 4.0M64.7 88.6l4.0 -4.0M65.9 84.4l4.0 4.0M65.9 88.4l4.0 -4.0M71.4 84.9l4.0 4.0M71.4 88.9l4.0 -4.0M74.9 85.0l4.0 4.0M74.9 89.0l4.0 -4.0M75.0 84.9l4.0 4.0M75.0 88.9l4.0 -4.0M76.1 84.5l4.0 4.0M76.1 88.5l4.0 -4.0M76.6 84.8l4.0 4.0M76.6 88.8l4.0 -4.0M79.5 84.6l4.0 4.0M79.5 88.6l4.0 -4.0M81.0 85.0l4.0 4.0M81.0 89.0l4.0 -4.0M81.6 84.5l4.0 4.0M81.6 88.5l4.0 -4.0M84.8 84.0l4.0 4.0M84.8 88.0l4.0 -4.0M87.3 84.3l4.0 4.0M87.3 88.3l4.0 -4.0M88.6 84.3l4.0 4.0M88.6 88.3l4.0 -4.0M94.0 84.4l4.0 4.0M94.0 88.4l4.0 -4.0M96.9 84.9l4.0 4.0M96.9 88.9l4.0 -4.0M96.7 84.5l4.0 4.0M96.7 88.5l4.0 -4.0M102.5 84.5l4.0 4.0M102.5 88.5l4.0 -4.0M105.6 84.7l4.0 4.0M105.6 88.7l4.0 -4.0M106.8 84.7l4.0 4.0M106.8 88.7l4.0 -4.0M107.4 84.6l4.0 4.0M107.4 88.6l4.0 -4.0M109.8 84.5l4.0 4.0M109.8 88.5l4.0 -4.0M111.3 84.6l4.0 4.0M111.3 88.6l4.0 -4.0M112.5 84.1l4.0 4.0M112.5 88.1l4.0 -4.0M122.0 84.4l4.0 4.0M122.0 88.4l4.0 -4.0M123.8 84.3l4.0 4.0M123.8 88.3l4.0 -4.0M125.7 84.9l4.0 4.0M125.7 88.9l4.0 -4.0M134.2 84.2l4.0 4.0M134.2 88.2l4.0 -4.0M137.2 85.0l4.0 4.0M137.2 89.0l4.0 -4.0M143.0 84.3l4.0 4.0M143.0 88.3l4.0 -4.0M208.4 84.8l4.0 4.0M208.4 88.8l4.0 -4.0M36.1 85.8l4.0 4.0M36.1 89.8l4.0 -4.0M44.0 85.9l4.0 4.0M44.0 89.9l4.0 -4.0M45.3 85.2l4.0 4.0M45.3 89.2l4.0 -4.0M46.4 85.2l4.0 4.0M46.4 89.2l4.0 -4.0M48.9 85.5l4.0 4.0M48.9 89.5l4.0 -4.0M50.3 85.0l4.0 4.0M50.3 89.0l4.0 -4.0M60.0 85.7l4.0 4.0M60.0 89.7l4.0 -4.0M62.5 85.7l4.0 4.0M62.5 89.7l4.0 -4.0M64.3 85.6l4.0 4.0M64.3 89.6l4.0 -4.0M68.9 85.9l4.0 4.0M68.9 89.9l4.0 -4.0M68.7 85.6l4.0 4.0M68.7 89.6l4.0 -4.0M71.8 85.3l4.0 4.0M71.8 89.3l4.0 -4.0M72.6 85.1l4.0 4.0M72.6 89.1l4.0 -4.0M75.8 85.6l4.0 4.0M75.8 89.6l4.0 -4.0M77.4 85.1l4.0 4.0M77.4 89.1l4.0 -4.0M79.9 85.8l4.0 4.0M79.9 89.8l4.0 -4.0M84.7 85.8l4.0 4.0M84.7 89.8l4.0 -4.0M90.9 85.6l4.0 4.0M90.9 89.6l4.0 -4.0M96.9 85.0l4.0 4.0M96.9 89.0l4.0 -4.0M97.6 85.6l4.0 4.0M97.6 89.6l4.0 -4.0M99.8 85.1l4.0 4.0M99.8 89.1l4.0 -4.0M108.1 85.9l4.0 4.0M108.1 89.9l4.0 -4.0M112.8 85.6l4.0 4.0M112.8 89.6l4.0 -4.0M112.5 85.6l4.0 4.0M112.5 89.6l4.0 -4.0M112.4 85.0l4.0 4.0M112.4 89.0l4.0 -4.0M116.6 85.8l4.0 4.0M116.6 89.8l4.0 -4.0M117.6 85.7l4.0 4.0M117.6 89.7l4.0 -4.0M121.2 85.8l4.0 4.0M121.2 89.8l4.0 -4.0M124.9 85.8l4.0 4.0M124.9 89.8l4.0 -4.0M125.7 85.8l4.0 4.0M125.7 89.8l4.0 -4.0M126.3 85.6l4.0 4.0M126.3 89.6l4.0 -4.0M129.2 85.4l4.0 4.0M129.2 89.4l4.0 -4.0M140.9 85.9l4.0 4.0M140.9 89.9l4.0 -4.0M149.8 85.6l4.0 4.0M149.8 89.6l4.0 -4.0M155.6 85.3l4.0 4.0M155.6 89.3l4.0 -4.0M159.8 85.9l4.0 4.0M159.8 89.9l4.0 -4.0M164.2 86.0l4.0 4.0M164.2 90.0l4.0 -4.0M34.9 86.1l4.0 4.0M34.9 90.1l4.0 -4.0M34.3 86.2l4.0 4.0M34.3 90.2l4.0 -4.0M34.1 86.6l4.0 4.0M34.1 90.6l4.0 -4.0M34.4 86.3l4.0 4.0M34.4 90.3l4.0 -4.0M40.8 86.4l4.0 4.0M40.8 90.4l4.0 -4.0M42.0 86.3l4.0 4.0M42.0 90.3l4.0 -4.0M48.0 86.0l4.0 4.0M48.0 90.0l4.0 -4.0M50.9 86.9l4.0 4.0M50.9 90.9l4.0 -4.0M52.4 86.5l4.0 4.0M52.4 90.5l4.0 -4.0M56.3 86.9l4.0 4.0M56.3 90.9l4.0 -4.0M66.0 86.3l4.0 4.0M66.0 90.3l4.0 -4.0M70.4 86.9l4.0 4.0M70.4 90.9l4.0 -4.0M72.0 86.2l4.0 4.0M72.0 90.2l4.0 -4.0M73.0 86.5l4.0 4.0M73.0 90.5l4.0 -4.0M75.6 86.7l4.0 4.0M75.6 90.7l4.0 -4.0M80.9 86.8l4.0 4.0M80.9 90.8l4.0 -4.0M81.3 86.6l4.0 4.0M81.3 90.6l4.0 -4.0M87.0 86.8l4.0 4.0M87.0 90.8l4.0 -4.0M88.1 86.8l4.0 4.0M88.1 90.8l4.0 -4.0M94.6 86.2l4.0 4.0M94.6 90.2l4.0 -4.0M96.3 86.5l4.0 4.0M96.3 90.5l4.0 -4.0M101.3 86.6l4.0 4.0M101.3 90.6l4.0 -4.0M101.4 86.0l4.0 4.0M101.4 90.0l4.0 -4.0M102.4 87.0l4.0 4.0M102.4 91.0l4.0 -4.0M107.3 86.8l4.0 4.0M107.3 90.8l4.0 -4.0M109.3 86.3l4.0 4.0M109.3 90.3l4.0 -4.0M112.4 86.8l4.0 4.0M112.4 90.8l4.0 -4.0M128.9 86.9l4.0 4.0M128.9 90.9l4.0 -4.0M132.7 86.9l4.0 4.0M132.7 90.9l4.0 -4.0M139.4 86.7l4.0 4.0M139.4 90.7l4.0 -4.0M139.7 86.7l4.0 4.0M139.7 90.7l4.0 -4.0M142.2 86.0l4.0 4.0M142.2 90.0l4.0 -4.0M147.7 86.3l4.0 4.0M147.7 90.3l4.0 -4.0M153.7 86.5l4.0 4.0M153.7 90.5l4.0 -4.0M153.6 86.6l4.0 4.0M153.6 90.6l4.0 -4.0M158.3 86.7l4.0 4.0M158.3 90.7l4.0 -4.0M163.6 86.1l4.0 4.0M163.6 90.1l4.0 -4.0M187.9 86.6l4.0 4.0M187.9 90.6l4.0 -4.0M199.1 86.1l4.0 4.0M199.1 90.1l4.0 -4.0M34.3 87.8l4.0 4.0M34.3 91.8l4.0 -4.0M34.6 87.7l4.0 4.0M34.6 91.7l4.0 -4.0M47.1 87.7l4.0 4.0M47.1 91.7l4.0 -4.0M52.0 87.4l4.0 4.0M52.0 91.4l4.0 -4.0M58.9 87.4l4.0 4.0M58.9 91.4l4.0 -4.0M61.4 87.4l4.0 4.0M61.4 91.4l4.0 -4.0M63.7 87.4l4.0 4.0M63.7 91.4l4.0 -4.0M67.6 87.7l4.0 4.0M67.6 91.7l4.0 -4.0M78.2 87.6l4.0 4.0M78.2 91.6l4.0 -4.0M80.8 87.7l4.0 4.0M80.8 91.7l4.0 -4.0M84.3 87.6l4.0 4.0M84.3 91.6l4.0 -4.0M84.9 87.7l4.0 4.0M84.9 91.7l4.0 -4.0M85.5 87.8l4.0 4.0M85.5 91.8l4.0 -4.0M98.0 87.9l4.0 4.0M98.0 91.9l4.0 -4.0M98.5 87.3l4.0 4.0M98.5 91.3l4.0 -4.0M100.2 87.7l4.0 4.0M100.2 91.7l4.0 -4.0M106.2 87.9l4.0 4.0M106.2 91.9l4.0 -4.0M106.3 87.5l4.0 4.0M106.3 91.5l4.0 -4.0M122.0 87.3l4.0 4.0M122.0 91.3l4.0 -4.0M121.6 87.9l4.0 4.0M121.6 91.9l4.0 -4.0M122.8 87.9l4.0 4.0M122.8 91.9l4.0 -4.0M129.1 87.9l4.0 4.0M129.1 91.9l4.0 -4.0M130.5 88.0l4.0 4.0M130.5 92.0l4.0 -4.0M142.2 87.7l4.0 4.0M142.2 91.7l4.0 -4.0M153.1 87.8l4.0 4.0M153.1 91.8l4.0 -4.0M165.6 87.7l4.0 4.0M165.6 91.7l4.0 -4.0M189.8 87.2l4.0 4.0M189.8 91.2l4.0 -4.0M31.9 88.1l4.0 4.0M31.9 92.1l4.0 -4.0M32.6 88.8l4.0 4.0M32.6 92.8l4.0 -4.0M34.9 88.2l4.0 4.0M34.9 92.2l4.0 -4.0M35.4 88.8l4.0 4.0M35.4 92.8l4.0 -4.0M37.2 88.6l4.0 4.0M37.2 92.6l4.0 -4.0M42.7 88.9l4.0 4.0M42.7 92.9l4.0 -4.0M43.4 88.9l4.0 4.0M43.4 92.9l4.0 -4.0M50.3 88.4l4.0 4.0M50.3 92.4l4.0 -4.0M52.4 88.9l4.0 4.0M52.4 92.9l4.0 -4.0M54.7 89.0l4.0 4.0M54.7 93.0l4.0 -4.0M60.6 88.2l4.0 4.0M60.6 92.2l4.0 -4.0M61.9 88.8l4.0 4.0M61.9 92.8l4.0 -4.0M73.2 88.7l4.0 4.0M73.2 92.7l4.0 -4.0M73.5 88.1l4.0 4.0M73.5 92.1l4.0 -4.0M86.3 88.9l4.0 4.0M86.3 92.9l4.0 -4.0M87.2 88.2l4.0 4.0M87.2 92.2l4.0 -4.0M87.2 88.5l4.0 4.0M87.2 92.5l4.0 -4.0M99.1 88.2l4.0 4.0M99.1 92.2l4.0 -4.0M100.2 88.8l4.0 4.0M100.2 92.8l4.0 -4.0M101.7 88.5l4.0 4.0M101.7 92.5l4.0 -4.0M115.7 88.0l4.0 4.0M115.7 92.0l4.0 -4.0M116.1 88.4l4.0 4.0M116.1 92.4l4.0 -4.0M117.3 88.5l4.0 4.0M117.3 92.5l4.0 -4.0M121.0 88.6l4.0 4.0M121.0 92.6l4.0 -4.0M129.7 88.1l4.0 4.0M129.7 92.1l4.0 -4.0M132.8 88.0l4.0 4.0M132.8 92.0l4.0 -4.0M134.4 88.8l4.0 4.0M134.4 92.8l4.0 -4.0M134.9 88.7l4.0 4.0M134.9 92.7l4.0 -4.0M147.4 88.7l4.0 4.0M147.4 92.7l4.0 -4.0M152.7 89.0l4.0 4.0M152.7 93.0l4.0 -4.0M153.2 88.9l4.0 4.0M153.2 92.9l4.0 -4.0M38.9 89.1l4.0 4.0M38.9 93.1l4.0 -4.0M40.3 89.3l4.0 4.0M40.3 93.3l4.0 -4.0M41.4 89.8l4.0 4.0M41.4 93.8l4.0 -4.0M42.1 89.6l4.0 4.0M42.1 93.6l4.0 -4.0M44.5 89.4l4.0 4.0M44.5 93.4l4.0 -4.0M45.9 89.8l4.0 4.0M45.9 93.8l4.0 -4.0M46.2 89.3l4.0 4.0M46.2 93.3l4.0 -4.0M47.5 89.1l4.0 4.0M47.5 93.1l4.0 -4.0M48.4 89.4l4.0 4.0M48.4 93.4l4.0 -4.0M48.7 90.0l4.0 4.0M48.7 94.0l4.0 -4.0M61.8 89.9l4.0 4.0M61.8 93.9l4.0 -4.0M65.1 89.1l4.0 4.0M65.1 93.1l4.0 -4.0M70.6 89.6l4.0 4.0M70.6 93.6l4.0 -4.0M74.0 89.5l4.0 4.0M74.0 93.5l4.0 -4.0M77.4 89.3l4.0 4.0M77.4 93.3l4.0 -4.0M78.1 89.3l4.0 4.0M78.1 93.3l4.0 -4.0M87.3 90.0l4.0 4.0M87.3 94.0l4.0 -4.0M90.9 89.0l4.0 4.0M90.9 93.0l4.0 -4.0M92.3 89.4l4.0 4.0M92.3 93.4l4.0 -4.0M92.7 89.6l4.0 4.0M92.7 93.6l4.0 -4.0M94.6 89.3l4.0 4.0M94.6 93.3l4.0 -4.0M95.5 89.3l4.0 4.0M95.5 93.3l4.0 -4.0M99.8 89.1l4.0 4.0M99.8 93.1l4.0 -4.0M100.1 89.7l4.0 4.0M100.1 93.7l4.0 -4.0M100.9 89.5l4.0 4.0M100.9 93.5l4.0 -4.0M105.0 89.4l4.0 4.0M105.0 93.4l4.0 -4.0M105.2 89.8l4.0 4.0M105.2 93.8l4.0 -4.0M105.1 89.9l4.0 4.0M105.1 93.9l4.0 -4.0M109.6 89.4l4.0 4.0M109.6 93.4l4.0 -4.0M110.5 89.3l4.0 4.0M110.5 93.3l4.0 -4.0M110.3 89.4l4.0 4.0M110.3 93.4l4.0 -4.0M111.3 89.6l4.0 4.0M111.3 93.6l4.0 -4.0M114.4 89.9l4.0 4.0M114.4 93.9l4.0 -4.0M124.9 89.0l4.0 4.0M124.9 93.0l4.0 -4.0M126.7 89.5l4.0 4.0M126.7 93.5l4.0 -4.0M126.5 89.1l4.0 4.0M126.5 93.1l4.0 -4.0M133.4 89.7l4.0 4.0M133.4 93.7l4.0 -4.0M134.4 89.1l4.0 4.0M134.4 93.1l4.0 -4.0M137.2 90.0l4.0 4.0M137.2 94.0l4.0 -4.0M139.6 90.0l4.0 4.0M139.6 94.0l4.0 -4.0M141.9 89.8l4.0 4.0M141.9 93.8l4.0 -4.0M146.3 89.1l4.0 4.0M146.3 93.1l4.0 -4.0M150.3 89.1l4.0 4.0M150.3 93.1l4.0 -4.0M40.4 91.0l4.0 4.0M40.4 95.0l4.0 -4.0M47.0 90.7l4.0 4.0M47.0 94.7l4.0 -4.0M47.3 90.7l4.0 4.0M47.3 94.7l4.0 -4.0M47.6 90.2l4.0 4.0M47.6 94.2l4.0 -4.0M47.2 90.9l4.0 4.0M47.2 94.9l4.0 -4.0M48.1 90.6l4.0 4.0M48.1 94.6l4.0 -4.0M48.4 90.3l4.0 4.0M48.4 94.3l4.0 -4.0M49.1 90.7l4.0 4.0M49.1 94.7l4.0 -4.0M54.8 90.9l4.0 4.0M54.8 94.9l4.0 -4.0M54.9 90.1l4.0 4.0M54.9 94.1l4.0 -4.0M55.3 90.2l4.0 4.0M55.3 94.2l4.0 -4.0M56.1 90.4l4.0 4.0M56.1 94.4l4.0 -4.0M57.6 90.8l4.0 4.0M57.6 94.8l4.0 -4.0M58.7 90.0l4.0 4.0M58.7 94.0l4.0 -4.0M64.2 90.2l4.0 4.0M64.2 94.2l4.0 -4.0M66.2 90.7l4.0 4.0M66.2 94.7l4.0 -4.0M66.8 90.3l4.0 4.0M66.8 94.3l4.0 -4.0M67.6 90.5l4.0 4.0M67.6 94.5l4.0 -4.0M71.6 90.7l4.0 4.0M71.6 94.7l4.0 -4.0M71.8 90.9l4.0 4.0M71.8 94.9l4.0 -4.0M74.3 90.2l4.0 4.0M74.3 94.2l4.0 -4.0M79.1 90.3l4.0 4.0M79.1 94.3l4.0 -4.0M82.9 90.1l4.0 4.0M82.9 94.1l4.0 -4.0M87.5 90.2l4.0 4.0M87.5 94.2l4.0 -4.0M89.3 90.7l4.0 4.0M89.3 94.7l4.0 -4.0M91.5 90.4l4.0 4.0M91.5 94.4l4.0 -4.0M92.3 90.9l4.0 4.0M92.3 94.9l4.0 -4.0M102.0 90.7l4.0 4.0M102.0 94.7l4.0 -4.0M104.4 90.9l4.0 4.0M104.4 94.9l4.0 -4.0M112.2 90.5l4.0 4.0M112.2 94.5l4.0 -4.0M112.6 90.7l4.0 4.0M112.6 94.7l4.0 -4.0M114.3 90.8l4.0 4.0M114.3 94.8l4.0 -4.0M128.7 90.7l4.0 4.0M128.7 94.7l4.0 -4.0M129.6 90.2l4.0 4.0M129.6 94.2l4.0 -4.0M149.1 90.9l4.0 4.0M149.1 94.9l4.0 -4.0M151.0 90.7l4.0 4.0M151.0 94.7l4.0 -4.0M153.1 90.4l4.0 4.0M153.1 94.4l4.0 -4.0M35.2 91.5l4.0 4.0M35.2 95.5l4.0 -4.0M38.4 91.3l4.0 4.0M38.4 95.3l4.0 -4.0M39.1 91.7l4.0 4.0M39.1 95.7l4.0 -4.0M39.6 91.6l4.0 4.0M39.6 95.6l4.0 -4.0M46.6 91.5l4.0 4.0M46.6 95.5l4.0 -4.0M55.7 91.0l4.0 4.0M55.7 95.0l4.0 -4.0M56.8 91.2l4.0 4.0M56.8 95.2l4.0 -4.0M57.8 91.2l4.0 4.0M57.8 95.2l4.0 -4.0M60.1 91.8l4.0 4.0M60.1 95.8l4.0 -4.0M65.6 91.4l4.0 4.0M65.6 95.4l4.0 -4.0M65.5 91.5l4.0 4.0M65.5 95.5l4.0 -4.0M68.5 91.3l4.0 4.0M68.5 95.3l4.0 -4.0M70.7 91.5l4.0 4.0M70.7 95.5l4.0 -4.0M71.1 91.5l4.0 4.0M71.1 95.5l4.0 -4.0M71.3 92.0l4.0 4.0M71.3 96.0l4.0 -4.0M71.9 91.5l4.0 4.0M71.9 95.5l4.0 -4.0M72.8 91.4l4.0 4.0M72.8 95.4l4.0 -4.0M72.6 91.8l4.0 4.0M72.6 95.8l4.0 -4.0M76.7 91.3l4.0 4.0M76.7 95.3l4.0 -4.0M82.8 91.6l4.0 4.0M82.8 95.6l4.0 -4.0M82.2 91.1l4.0 4.0M82.2 95.1l4.0 -4.0M84.0 91.6l4.0 4.0M84.0 95.6l4.0 -4.0M90.2 91.4l4.0 4.0M90.2 95.4l4.0 -4.0M91.1 91.3l4.0 4.0M91.1 95.3l4.0 -4.0M93.3 91.1l4.0 4.0M93.3 95.1l4.0 -4.0M93.4 91.4l4.0 4.0M93.4 95.4l4.0 -4.0M94.2 91.4l4.0 4.0M94.2 95.4l4.0 -4.0M100.8 91.4l4.0 4.0M100.8 95.4l4.0 -4.0M104.3 91.2l4.0 4.0M104.3 95.2l4.0 -4.0M106.9 91.9l4.0 4.0M106.9 95.9l4.0 -4.0M106.7 91.1l4.0 4.0M106.7 95.1l4.0 -4.0M108.2 91.7l4.0 4.0M108.2 95.7l4.0 -4.0M109.5 91.4l4.0 4.0M109.5 95.4l4.0 -4.0M111.3 91.1l4.0 4.0M111.3 95.1l4.0 -4.0M116.0 91.4l4.0 4.0M116.0 95.4l4.0 -4.0M116.4 91.4l4.0 4.0M116.4 95.4l4.0 -4.0M118.0 91.2l4.0 4.0M118.0 95.2l4.0 -4.0M121.7 91.4l4.0 4.0M121.7 95.4l4.0 -4.0M122.6 91.5l4.0 4.0M122.6 95.5l4.0 -4.0M128.1 91.3l4.0 4.0M128.1 95.3l4.0 -4.0M135.5 91.1l4.0 4.0M135.5 95.1l4.0 -4.0M146.9 91.1l4.0 4.0M146.9 95.1l4.0 -4.0M149.2 91.6l4.0 4.0M149.2 95.6l4.0 -4.0M152.7 91.8l4.0 4.0M152.7 95.8l4.0 -4.0M156.7 91.6l4.0 4.0M156.7 95.6l4.0 -4.0M31.8 92.6l4.0 4.0M31.8 96.6l4.0 -4.0M35.6 92.5l4.0 4.0M35.6 96.5l4.0 -4.0M38.1 92.4l4.0 4.0M38.1 96.4l4.0 -4.0M41.3 92.3l4.0 4.0M41.3 96.3l4.0 -4.0M43.5 92.9l4.0 4.0M43.5 96.9l4.0 -4.0M50.5 92.4l4.0 4.0M50.5 96.4l4.0 -4.0M54.1 92.2l4.0 4.0M54.1 96.2l4.0 -4.0M56.8 92.9l4.0 4.0M56.8 96.9l4.0 -4.0M58.6 92.8l4.0 4.0M58.6 96.8l4.0 -4.0M61.4 92.4l4.0 4.0M61.4 96.4l4.0 -4.0M64.4 92.8l4.0 4.0M64.4 96.8l4.0 -4.0M65.8 92.3l4.0 4.0M65.8 96.3l4.0 -4.0M67.6 92.8l4.0 4.0M67.6 96.8l4.0 -4.0M69.0 92.4l4.0 4.0M69.0 96.4l4.0 -4.0M73.8 93.0l4.0 4.0M73.8 97.0l4.0 -4.0M78.8 92.6l4.0 4.0M78.8 96.6l4.0 -4.0M81.8 92.4l4.0 4.0M81.8 96.4l4.0 -4.0M84.4 92.9l4.0 4.0M84.4 96.9l4.0 -4.0M85.7 92.5l4.0 4.0M85.7 96.5l4.0 -4.0M87.0 92.4l4.0 4.0M87.0 96.4l4.0 -4.0M89.2 92.8l4.0 4.0M89.2 96.8l4.0 -4.0M90.6 92.1l4.0 4.0M90.6 96.1l4.0 -4.0M101.9 92.8l4.0 4.0M101.9 96.8l4.0 -4.0M101.2 92.6l4.0 4.0M101.2 96.6l4.0 -4.0M104.1 92.3l4.0 4.0M104.1 96.3l4.0 -4.0M112.6 92.4l4.0 4.0M112.6 96.4l4.0 -4.0M113.8 92.3l4.0 4.0M113.8 96.3l4.0 -4.0M115.6 92.9l4.0 4.0M115.6 96.9l4.0 -4.0M125.6 92.8l4.0 4.0M125.6 96.8l4.0 -4.0M125.7 92.4l4.0 4.0M125.7 96.4l4.0 -4.0M127.2 92.3l4.0 4.0M127.2 96.3l4.0 -4.0M132.1 92.9l4.0 4.0M132.1 96.9l4.0 -4.0M140.9 92.9l4.0 4.0M140.9 96.9l4.0 -4.0M142.3 92.1l4.0 4.0M142.3 96.1l4.0 -4.0M143.5 92.1l4.0 4.0M143.5 96.1l4.0 -4.0M144.1 92.8l4.0 4.0M144.1 96.8l4.0 -4.0M149.3 92.1l4.0 4.0M149.3 96.1l4.0 -4.0M155.0 92.1l4.0 4.0M155.0 96.1l4.0 -4.0M156.3 92.4l4.0 4.0M156.3 96.4l4.0 -4.0M31.8 93.3l4.0 4.0M31.8 97.3l4.0 -4.0M35.5 93.5l4.0 4.0M35.5 97.5l4.0 -4.0M43.5 93.5l4.0 4.0M43.5 97.5l4.0 -4.0M44.3 93.7l4.0 4.0M44.3 97.7l4.0 -4.0M46.8 93.5l4.0 4.0M46.8 97.5l4.0 -4.0M46.7 93.3l4.0 4.0M46.7 97.3l4.0 -4.0M50.0 93.3l4.0 4.0M50.0 97.3l4.0 -4.0M52.0 93.7l4.0 4.0M52.0 97.7l4.0 -4.0M51.2 93.8l4.0 4.0M51.2 97.8l4.0 -4.0M55.4 93.6l4.0 4.0M55.4 97.6l4.0 -4.0M56.7 93.4l4.0 4.0M56.7 97.4l4.0 -4.0M60.9 93.4l4.0 4.0M60.9 97.4l4.0 -4.0M62.9 93.0l4.0 4.0M62.9 97.0l4.0 -4.0M66.6 93.6l4.0 4.0M66.6 97.6l4.0 -4.0M69.6 93.1l4.0 4.0M69.6 97.1l4.0 -4.0M72.7 93.9l4.0 4.0M72.7 97.9l4.0 -4.0M75.7 93.8l4.0 4.0M75.7 97.8l4.0 -4.0M79.6 93.4l4.0 4.0M79.6 97.4l4.0 -4.0M79.1 93.2l4.0 4.0M79.1 97.2l4.0 -4.0M82.7 93.1l4.0 4.0M82.7 97.1l4.0 -4.0M83.2 93.2l4.0 4.0M83.2 97.2l4.0 -4.0M83.4 93.4l4.0 4.0M83.4 97.4l4.0 -4.0M83.8 93.7l4.0 4.0M83.8 97.7l4.0 -4.0M89.4 93.9l4.0 4.0M89.4 97.9l4.0 -4.0M90.4 93.6l4.0 4.0M90.4 97.6l4.0 -4.0M91.8 93.8l4.0 4.0M91.8 97.8l4.0 -4.0M94.6 93.6l4.0 4.0M94.6 97.6l4.0 -4.0M96.2 93.5l4.0 4.0M96.2 97.5l4.0 -4.0M100.7 93.2l4.0 4.0M100.7 97.2l4.0 -4.0M107.1 93.1l4.0 4.0M107.1 97.1l4.0 -4.0M116.7 93.7l4.0 4.0M116.7 97.7l4.0 -4.0M119.0 93.2l4.0 4.0M119.0 97.2l4.0 -4.0M124.8 93.7l4.0 4.0M124.8 97.7l4.0 -4.0M124.3 93.3l4.0 4.0M124.3 97.3l4.0 -4.0M125.5 94.0l4.0 4.0M125.5 98.0l4.0 -4.0M127.9 93.1l4.0 4.0M127.9 97.1l4.0 -4.0M133.8 93.1l4.0 4.0M133.8 97.1l4.0 -4.0M135.9 93.2l4.0 4.0M135.9 97.2l4.0 -4.0M140.1 93.9l4.0 4.0M140.1 97.9l4.0 -4.0M141.1 94.0l4.0 4.0M141.1 98.0l4.0 -4.0M141.9 93.8l4.0 4.0M141.9 97.8l4.0 -4.0M143.8 93.0l4.0 4.0M143.8 97.0l4.0 -4.0M150.9 93.1l4.0 4.0M150.9 97.1l4.0 -4.0M35.0 94.8l4.0 4.0M35.0 98.8l4.0 -4.0M37.6 94.0l4.0 4.0M37.6 98.0l4.0 -4.0M41.7 94.7l4.0 4.0M41.7 98.7l4.0 -4.0M47.1 94.2l4.0 4.0M47.1 98.2l4.0 -4.0M50.7 94.7l4.0 4.0M50.7 98.7l4.0 -4.0M51.1 94.2l4.0 4.0M51.1 98.2l4.0 -4.0M52.8 94.6l4.0 4.0M52.8 98.6l4.0 -4.0M58.6 94.1l4.0 4.0M58.6 98.1l4.0 -4.0M58.5 94.9l4.0 4.0M58.5 98.9l4.0 -4.0M65.5 94.2l4.0 4.0M65.5 98.2l4.0 -4.0M66.7 94.2l4.0 4.0M66.7 98.2l4.0 -4.0M68.2 94.0l4.0 4.0M68.2 98.0l4.0 -4.0M68.4 94.9l4.0 4.0M68.4 98.9l4.0 -4.0M69.0 94.2l4.0 4.0M69.0 98.2l4.0 -4.0M78.7 94.3l4.0 4.0M78.7 98.3l4.0 -4.0M78.8 94.6l4.0 4.0M78.8 98.6l4.0 -4.0M88.6 94.8l4.0 4.0M88.6 98.8l4.0 -4.0M93.0 94.4l4.0 4.0M93.0 98.4l4.0 -4.0M101.8 94.3l4.0 4.0M101.8 98.3l4.0 -4.0M101.1 94.9l4.0 4.0M101.1 98.9l4.0 -4.0M105.9 94.6l4.0 4.0M105.9 98.6l4.0 -4.0M110.9 94.5l4.0 4.0M110.9 98.5l4.0 -4.0M113.3 94.0l4.0 4.0M113.3 98.0l4.0 -4.0M115.7 94.0l4.0 4.0M115.7 98.0l4.0 -4.0M119.7 94.9l4.0 4.0M119.7 98.9l4.0 -4.0M123.5 94.3l4.0 4.0M123.5 98.3l4.0 -4.0M127.0 94.9l4.0 4.0M127.0 98.9l4.0 -4.0M129.3 94.5l4.0 4.0M129.3 98.5l4.0 -4.0M133.9 94.0l4.0 4.0M133.9 98.0l4.0 -4.0M135.4 94.2l4.0 4.0M135.4 98.2l4.0 -4.0M138.1 94.4l4.0 4.0M138.1 98.4l4.0 -4.0M32.7 95.3l4.0 4.0M32.7 99.3l4.0 -4.0M34.3 96.0l4.0 4.0M34.3 100.0l4.0 -4.0M39.6 95.6l4.0 4.0M39.6 99.6l4.0 -4.0M40.0 95.9l4.0 4.0M40.0 99.9l4.0 -4.0M45.6 95.1l4.0 4.0M45.6 99.1l4.0 -4.0M48.2 95.8l4.0 4.0M48.2 99.8l4.0 -4.0M51.8 95.2l4.0 4.0M51.8 99.2l4.0 -4.0M53.0 95.0l4.0 4.0M53.0 99.0l4.0 -4.0M53.5 95.8l4.0 4.0M53.5 99.8l4.0 -4.0M55.5 95.0l4.0 4.0M55.5 99.0l4.0 -4.0M63.1 95.9l4.0 4.0M63.1 99.9l4.0 -4.0M64.1 95.5l4.0 4.0M64.1 99.5l4.0 -4.0M66.3 95.0l4.0 4.0M66.3 99.0l4.0 -4.0M70.9 95.3l4.0 4.0M70.9 99.3l4.0 -4.0M72.7 95.7l4.0 4.0M72.7 99.7l4.0 -4.0M79.3 96.0l4.0 4.0M79.3 100.0l4.0 -4.0M89.0 95.3l4.0 4.0M89.0 99.3l4.0 -4.0M100.6 95.7l4.0 4.0M100.6 99.7l4.0 -4.0M101.3 95.9l4.0 4.0M101.3 99.9l4.0 -4.0M106.1 95.5l4.0 4.0M106.1 99.5l4.0 -4.0M110.9 95.4l4.0 4.0M110.9 99.4l4.0 -4.0M111.7 95.3l4.0 4.0M111.7 99.3l4.0 -4.0M116.0 95.4l4.0 4.0M116.0 99.4l4.0 -4.0M120.9 95.7l4.0 4.0M120.9 99.7l4.0 -4.0M124.5 95.6l4.0 4.0M124.5 99.6l4.0 -4.0M125.3 95.3l4.0 4.0M125.3 99.3l4.0 -4.0M130.8 95.3l4.0 4.0M130.8 99.3l4.0 -4.0M132.7 95.9l4.0 4.0M132.7 99.9l4.0 -4.0M133.7 95.8l4.0 4.0M133.7 99.8l4.0 -4.0M141.6 95.6l4.0 4.0M141.6 99.6l4.0 -4.0M44.0 96.5l4.0 4.0M44.0 100.5l4.0 -4.0M46.7 96.5l4.0 4.0M46.7 100.5l4.0 -4.0M48.6 96.3l4.0 4.0M48.6 100.3l4.0 -4.0M52.8 96.3l4.0 4.0M52.8 100.3l4.0 -4.0M52.3 97.0l4.0 4.0M52.3 101.0l4.0 -4.0M52.4 96.3l4.0 4.0M52.4 100.3l4.0 -4.0M53.2 96.1l4.0 4.0M53.2 100.1l4.0 -4.0M56.9 96.6l4.0 4.0M56.9 100.6l4.0 -4.0M57.6 96.3l4.0 4.0M57.6 100.3l4.0 -4.0M57.1 96.4l4.0 4.0M57.1 100.4l4.0 -4.0M73.7 97.0l4.0 4.0M73.7 101.0l4.0 -4.0M76.2 96.3l4.0 4.0M76.2 100.3l4.0 -4.0M78.0 96.3l4.0 4.0M78.0 100.3l4.0 -4.0M79.8 96.3l4.0 4.0M79.8 100.3l4.0 -4.0M84.3 96.6l4.0 4.0M84.3 100.6l4.0 -4.0M85.9 96.5l4.0 4.0M85.9 100.5l4.0 -4.0M87.0 96.0l4.0 4.0M87.0 100.0l4.0 -4.0M90.2 96.9l4.0 4.0M90.2 100.9l4.0 -4.0M91.7 97.0l4.0 4.0M91.7 101.0l4.0 -4.0M93.1 96.3l4.0 4.0M93.1 100.3l4.0 -4.0M94.6 96.7l4.0 4.0M94.6 100.7l4.0 -4.0M99.3 96.1l4.0 4.0M99.3 100.1l4.0 -4.0M104.9 96.6l4.0 4.0M104.9 100.6l4.0 -4.0M108.8 96.2l4.0 4.0M108.8 100.2l4.0 -4.0M111.4 97.0l4.0 4.0M111.4 101.0l4.0 -4.0M111.9 96.7l4.0 4.0M111.9 100.7l4.0 -4.0M116.7 96.4l4.0 4.0M116.7 100.4l4.0 -4.0M118.1 96.1l4.0 4.0M118.1 100.1l4.0 -4.0M121.1 96.8l4.0 4.0M121.1 100.8l4.0 -4.0M121.6 96.7l4.0 4.0M121.6 100.7l4.0 -4.0M123.2 97.0l4.0 4.0M123.2 101.0l4.0 -4.0M124.0 96.0l4.0 4.0M124.0 100.0l4.0 -4.0M137.6 96.4l4.0 4.0M137.6 100.4l4.0 -4.0M137.1 96.3l4.0 4.0M137.1 100.3l4.0 -4.0M139.9 97.0l4.0 4.0M139.9 101.0l4.0 -4.0M140.1 96.5l4.0 4.0M140.1 100.5l4.0 -4.0M36.4 97.1l4.0 4.0M36.4 101.1l4.0 -4.0M45.7 97.4l4.0 4.0M45.7 101.4l4.0 -4.0M48.8 97.5l4.0 4.0M48.8 101.5l4.0 -4.0M48.3 97.7l4.0 4.0M48.3 101.7l4.0 -4.0M59.1 97.1l4.0 4.0M59.1 101.1l4.0 -4.0M60.6 97.8l4.0 4.0M60.6 101.8l4.0 -4.0M60.6 98.0l4.0 4.0M60.6 102.0l4.0 -4.0M60.5 97.6l4.0 4.0M60.5 101.6l4.0 -4.0M62.1 97.3l4.0 4.0M62.1 101.3l4.0 -4.0M63.3 97.3l4.0 4.0M63.3 101.3l4.0 -4.0M73.2 97.9l4.0 4.0M73.2 101.9l4.0 -4.0M73.4 97.7l4.0 4.0M73.4 101.7l4.0 -4.0M73.7 97.5l4.0 4.0M73.7 101.5l4.0 -4.0M74.9 97.2l4.0 4.0M74.9 101.2l4.0 -4.0M76.6 97.5l4.0 4.0M76.6 101.5l4.0 -4.0M76.4 97.4l4.0 4.0M76.4 101.4l4.0 -4.0M83.3 97.7l4.0 4.0M83.3 101.7l4.0 -4.0M84.9 97.7l4.0 4.0M84.9 101.7l4.0 -4.0M85.6 98.0l4.0 4.0M85.6 102.0l4.0 -4.0M87.7 97.6l4.0 4.0M87.7 101.6l4.0 -4.0M90.7 97.5l4.0 4.0M90.7 101.5l4.0 -4.0M90.9 97.8l4.0 4.0M90.9 101.8l4.0 -4.0M90.2 97.8l4.0 4.0M90.2 101.8l4.0 -4.0M92.2 98.0l4.0 4.0M92.2 102.0l4.0 -4.0M96.1 97.1l4.0 4.0M96.1 101.1l4.0 -4.0M97.6 97.6l4.0 4.0M97.6 101.6l4.0 -4.0M98.6 97.4l4.0 4.0M98.6 101.4l4.0 -4.0M100.0 97.4l4.0 4.0M100.0 101.4l4.0 -4.0M101.1 97.5l4.0 4.0M101.1 101.5l4.0 -4.0M104.7 97.3l4.0 4.0M104.7 101.3l4.0 -4.0M108.9 98.0l4.0 4.0M108.9 102.0l4.0 -4.0M111.6 97.8l4.0 4.0M111.6 101.8l4.0 -4.0M113.6 97.8l4.0 4.0M113.6 101.8l4.0 -4.0M118.4 97.2l4.0 4.0M118.4 101.2l4.0 -4.0M123.9 97.7l4.0 4.0M123.9 101.7l4.0 -4.0M125.9 97.2l4.0 4.0M125.9 101.2l4.0 -4.0M132.7 97.3l4.0 4.0M132.7 101.3l4.0 -4.0M132.6 97.4l4.0 4.0M132.6 101.4l4.0 -4.0M140.1 98.0l4.0 4.0M140.1 102.0l4.0 -4.0M148.9 97.5l4.0 4.0M148.9 101.5l4.0 -4.0M150.2 97.4l4.0 4.0M150.2 101.4l4.0 -4.0M38.4 98.3l4.0 4.0M38.4 102.3l4.0 -4.0M41.8 98.6l4.0 4.0M41.8 102.6l4.0 -4.0M43.8 98.1l4.0 4.0M43.8 102.1l4.0 -4.0M47.8 98.2l4.0 4.0M47.8 102.2l4.0 -4.0M49.1 98.3l4.0 4.0M49.1 102.3l4.0 -4.0M50.6 98.4l4.0 4.0M50.6 102.4l4.0 -4.0M51.1 98.8l4.0 4.0M51.1 102.8l4.0 -4.0M52.5 98.9l4.0 4.0M52.5 102.9l4.0 -4.0M52.3 98.5l4.0 4.0M52.3 102.5l4.0 -4.0M56.9 98.0l4.0 4.0M56.9 102.0l4.0 -4.0M57.0 98.5l4.0 4.0M57.0 102.5l4.0 -4.0M57.4 98.1l4.0 4.0M57.4 102.1l4.0 -4.0M58.5 98.3l4.0 4.0M58.5 102.3l4.0 -4.0M60.2 98.3l4.0 4.0M60.2 102.3l4.0 -4.0M61.6 98.9l4.0 4.0M61.6 102.9l4.0 -4.0M62.0 98.2l4.0 4.0M62.0 102.2l4.0 -4.0M62.7 98.6l4.0 4.0M62.7 102.6l4.0 -4.0M65.0 98.1l4.0 4.0M65.0 102.1l4.0 -4.0M64.6 98.7l4.0 4.0M64.6 102.7l4.0 -4.0M65.0 98.4l4.0 4.0M65.0 102.4l4.0 -4.0M65.2 98.6l4.0 4.0M65.2 102.6l4.0 -4.0M65.6 98.6l4.0 4.0M65.6 102.6l4.0 -4.0M71.7 98.3l4.0 4.0M71.7 102.3l4.0 -4.0M71.9 98.1l4.0 4.0M71.9 102.1l4.0 -4.0M73.4 98.9l4.0 4.0M73.4 102.9l4.0 -4.0M75.1 98.5l4.0 4.0M75.1 102.5l4.0 -4.0M77.9 98.9l4.0 4.0M77.9 102.9l4.0 -4.0M77.4 98.6l4.0 4.0M77.4 102.6l4.0 -4.0M79.8 98.7l4.0 4.0M79.8 102.7l4.0 -4.0M82.7 98.3l4.0 4.0M82.7 102.3l4.0 -4.0M84.6 98.7l4.0 4.0M84.6 102.7l4.0 -4.0M84.4 98.6l4.0 4.0M84.4 102.6l4.0 -4.0M87.1 98.0l4.0 4.0M87.1 102.0l4.0 -4.0M87.8 98.9l4.0 4.0M87.8 102.9l4.0 -4.0M93.1 98.0l4.0 4.0M93.1 102.0l4.0 -4.0M94.8 98.1l4.0 4.0M94.8 102.1l4.0 -4.0M100.9 98.6l4.0 4.0M100.9 102.6l4.0 -4.0M102.4 98.1l4.0 4.0M102.4 102.1l4.0 -4.0M103.6 98.0l4.0 4.0M103.6 102.0l4.0 -4.0M106.2 98.3l4.0 4.0M106.2 102.3l4.0 -4.0M109.3 98.1l4.0 4.0M109.3 102.1l4.0 -4.0M116.4 98.4l4.0 4.0M116.4 102.4l4.0 -4.0M117.7 98.7l4.0 4.0M117.7 102.7l4.0 -4.0M120.9 98.9l4.0 4.0M120.9 102.9l4.0 -4.0M124.8 98.7l4.0 4.0M124.8 102.7l4.0 -4.0M125.1 98.0l4.0 4.0M125.1 102.0l4.0 -4.0M136.0 98.7l4.0 4.0M136.0 102.7l4.0 -4.0M31.6 99.3l4.0 4.0M31.6 103.3l4.0 -4.0M34.1 99.1l4.0 4.0M34.1 103.1l4.0 -4.0M44.8 99.4l4.0 4.0M44.8 103.4l4.0 -4.0M50.5 99.3l4.0 4.0M50.5 103.3l4.0 -4.0M51.9 99.4l4.0 4.0M51.9 103.4l4.0 -4.0M55.0 99.2l4.0 4.0M55.0 103.2l4.0 -4.0M59.7 99.5l4.0 4.0M59.7 103.5l4.0 -4.0M60.0 99.4l4.0 4.0M60.0 103.4l4.0 -4.0M60.6 99.6l4.0 4.0M60.6 103.6l4.0 -4.0M64.3 99.3l4.0 4.0M64.3 103.3l4.0 -4.0M64.1 99.1l4.0 4.0M64.1 103.1l4.0 -4.0M69.1 99.4l4.0 4.0M69.1 103.4l4.0 -4.0M73.0 99.7l4.0 4.0M73.0 103.7l4.0 -4.0M74.5 99.6l4.0 4.0M74.5 103.6l4.0 -4.0M77.6 99.1l4.0 4.0M77.6 103.1l4.0 -4.0M78.9 99.1l4.0 4.0M78.9 103.1l4.0 -4.0M79.7 99.5l4.0 4.0M79.7 103.5l4.0 -4.0M80.1 100.0l4.0 4.0M80.1 104.0l4.0 -4.0M85.5 99.5l4.0 4.0M85.5 103.5l4.0 -4.0M88.4 99.3l4.0 4.0M88.4 103.3l4.0 -4.0M90.8 99.1l4.0 4.0M90.8 103.1l4.0 -4.0M91.3 99.1l4.0 4.0M91.3 103.1l4.0 -4.0M95.7 99.4l4.0 4.0M95.7 103.4l4.0 -4.0M99.3 99.2l4.0 4.0M99.3 103.2l4.0 -4.0M103.4 99.8l4.0 4.0M103.4 103.8l4.0 -4.0M105.6 99.7l4.0 4.0M105.6 103.7l4.0 -4.0M112.0 99.6l4.0 4.0M112.0 103.6l4.0 -4.0M114.0 99.7l4.0 4.0M114.0 103.7l4.0 -4.0M114.3 99.6l4.0 4.0M114.3 103.6l4.0 -4.0M114.7 99.5l4.0 4.0M114.7 103.5l4.0 -4.0M118.0 99.5l4.0 4.0M118.0 103.5l4.0 -4.0M117.9 99.3l4.0 4.0M117.9 103.3l4.0 -4.0M118.2 99.5l4.0 4.0M118.2 103.5l4.0 -4.0M127.6 99.9l4.0 4.0M127.6 103.9l4.0 -4.0M131.3 99.6l4.0 4.0M131.3 103.6l4.0 -4.0M137.5 99.2l4.0 4.0M137.5 103.2l4.0 -4.0M33.4 100.4l4.0 4.0M33.4 104.4l4.0 -4.0M37.5 100.9l4.0 4.0M37.5 104.9l4.0 -4.0M40.5 100.7l4.0 4.0M40.5 104.7l4.0 -4.0M42.5 100.6l4.0 4.0M42.5 104.6l4.0 -4.0M44.6 100.0l4.0 4.0M44.6 104.0l4.0 -4.0M46.9 100.7l4.0 4.0M46.9 104.7l4.0 -4.0M48.8 100.0l4.0 4.0M48.8 104.0l4.0 -4.0M54.3 100.1l4.0 4.0M54.3 104.1l4.0 -4.0M56.0 100.7l4.0 4.0M56.0 104.7l4.0 -4.0M58.9 100.6l4.0 4.0M58.9 104.6l4.0 -4.0M63.2 100.9l4.0 4.0M63.2 104.9l4.0 -4.0M66.7 101.0l4.0 4.0M66.7 105.0l4.0 -4.0M69.8 101.0l4.0 4.0M69.8 105.0l4.0 -4.0M69.1 100.2l4.0 4.0M69.1 104.2l4.0 -4.0M73.8 100.7l4.0 4.0M73.8 104.7l4.0 -4.0M79.7 100.4l4.0 4.0M79.7 104.4l4.0 -4.0M79.6 100.2l4.0 4.0M79.6 104.2l4.0 -4.0M86.0 100.8l4.0 4.0M86.0 104.8l4.0 -4.0M85.5 100.8l4.0 4.0M85.5 104.8l4.0 -4.0M85.3 100.9l4.0 4.0M85.3 104.9l4.0 -4.0M86.3 100.8l4.0 4.0M86.3 104.8l4.0 -4.0M92.6 100.7l4.0 4.0M92.6 104.7l4.0 -4.0M97.3 100.2l4.0 4.0M97.3 104.2l4.0 -4.0M99.9 100.0l4.0 4.0M99.9 104.0l4.0 -4.0M99.7 100.6l4.0 4.0M99.7 104.6l4.0 -4.0M100.6 100.5l4.0 4.0M100.6 104.5l4.0 -4.0M100.7 100.4l4.0 4.0M100.7 104.4l4.0 -4.0M102.4 100.3l4.0 4.0M102.4 104.3l4.0 -4.0M105.1 100.5l4.0 4.0M105.1 104.5l4.0 -4.0M111.9 100.8l4.0 4.0M111.9 104.8l4.0 -4.0M111.2 100.1l4.0 4.0M111.2 104.1l4.0 -4.0M113.0 100.6l4.0 4.0M113.0 104.6l4.0 -4.0M114.6 100.1l4.0 4.0M114.6 104.1l4.0 -4.0M115.8 100.4l4.0 4.0M115.8 104.4l4.0 -4.0M123.4 100.6l4.0 4.0M123.4 104.6l4.0 -4.0M123.6 100.3l4.0 4.0M123.6 104.3l4.0 -4.0M129.5 100.7l4.0 4.0M129.5 104.7l4.0 -4.0M134.9 100.8l4.0 4.0M134.9 104.8l4.0 -4.0M139.6 100.9l4.0 4.0M139.6 104.9l4.0 -4.0M140.0 100.1l4.0 4.0M140.0 104.1l4.0 -4.0M38.6 101.9l4.0 4.0M38.6 105.9l4.0 -4.0M40.7 102.0l4.0 4.0M40.7 106.0l4.0 -4.0M46.9 101.9l4.0 4.0M46.9 105.9l4.0 -4.0M57.9 101.5l4.0 4.0M57.9 105.5l4.0 -4.0M57.6 101.2l4.0 4.0M57.6 105.2l4.0 -4.0M60.2 102.0l4.0 4.0M60.2 106.0l4.0 -4.0M62.9 101.0l4.0 4.0M62.9 105.0l4.0 -4.0M62.9 101.8l4.0 4.0M62.9 105.8l4.0 -4.0M63.6 101.1l4.0 4.0M63.6 105.1l4.0 -4.0M63.3 101.4l4.0 4.0M63.3 105.4l4.0 -4.0M65.9 101.1l4.0 4.0M65.9 105.1l4.0 -4.0M66.0 101.3l4.0 4.0M66.0 105.3l4.0 -4.0M70.0 101.5l4.0 4.0M70.0 105.5l4.0 -4.0M73.3 101.1l4.0 4.0M73.3 105.1l4.0 -4.0M81.8 101.2l4.0 4.0M81.8 105.2l4.0 -4.0M83.7 101.7l4.0 4.0M83.7 105.7l4.0 -4.0M84.1 101.4l4.0 4.0M84.1 105.4l4.0 -4.0M86.6 101.1l4.0 4.0M86.6 105.1l4.0 -4.0M88.5 101.5l4.0 4.0M88.5 105.5l4.0 -4.0M89.8 101.8l4.0 4.0M89.8 105.8l4.0 -4.0M90.5 101.5l4.0 4.0M90.5 105.5l4.0 -4.0M94.9 102.0l4.0 4.0M94.9 106.0l4.0 -4.0M94.8 101.7l4.0 4.0M94.8 105.7l4.0 -4.0M94.4 101.4l4.0 4.0M94.4 105.4l4.0 -4.0M101.9 101.2l4.0 4.0M101.9 105.2l4.0 -4.0M104.1 101.8l4.0 4.0M104.1 105.8l4.0 -4.0M111.5 101.1l4.0 4.0M111.5 105.1l4.0 -4.0M113.3 101.9l4.0 4.0M113.3 105.9l4.0 -4.0M114.3 101.1l4.0 4.0M114.3 105.1l4.0 -4.0M119.7 101.5l4.0 4.0M119.7 105.5l4.0 -4.0M122.3 101.0l4.0 4.0M122.3 105.0l4.0 -4.0M124.1 101.7l4.0 4.0M124.1 105.7l4.0 -4.0M124.6 101.4l4.0 4.0M124.6 105.4l4.0 -4.0M128.3 101.5l4.0 4.0M128.3 105.5l4.0 -4.0M129.6 101.7l4.0 4.0M129.6 105.7l4.0 -4.0M131.0 101.9l4.0 4.0M131.0 105.9l4.0 -4.0M132.9 101.4l4.0 4.0M132.9 105.4l4.0 -4.0M137.3 101.3l4.0 4.0M137.3 105.3l4.0 -4.0M148.7 101.3l4.0 4.0M148.7 105.3l4.0 -4.0M31.3 102.5l4.0 4.0M31.3 106.5l4.0 -4.0M33.0 102.3l4.0 4.0M33.0 106.3l4.0 -4.0M34.5 102.3l4.0 4.0M34.5 106.3l4.0 -4.0M35.9 103.0l4.0 4.0M35.9 107.0l4.0 -4.0M35.2 102.7l4.0 4.0M35.2 106.7l4.0 -4.0M36.2 102.1l4.0 4.0M36.2 106.1l4.0 -4.0M38.0 102.6l4.0 4.0M38.0 106.6l4.0 -4.0M37.9 102.3l4.0 4.0M37.9 106.3l4.0 -4.0M42.1 102.6l4.0 4.0M42.1 106.6l4.0 -4.0M46.1 102.7l4.0 4.0M46.1 106.7l4.0 -4.0M46.4 102.5l4.0 4.0M46.4 106.5l4.0 -4.0M49.8 102.3l4.0 4.0M49.8 106.3l4.0 -4.0M53.5 102.8l4.0 4.0M53.5 106.8l4.0 -4.0M55.3 102.5l4.0 4.0M55.3 106.5l4.0 -4.0M57.5 102.8l4.0 4.0M57.5 106.8l4.0 -4.0M60.8 102.1l4.0 4.0M60.8 106.1l4.0 -4.0M61.4 102.2l4.0 4.0M61.4 106.2l4.0 -4.0M61.3 103.0l4.0 4.0M61.3 107.0l4.0 -4.0M66.5 102.0l4.0 4.0M66.5 106.0l4.0 -4.0M67.2 102.2l4.0 4.0M67.2 106.2l4.0 -4.0M68.1 102.5l4.0 4.0M68.1 106.5l4.0 -4.0M68.6 102.5l4.0 4.0M68.6 106.5l4.0 -4.0M69.9 102.6l4.0 4.0M69.9 106.6l4.0 -4.0M72.5 102.3l4.0 4.0M72.5 106.3l4.0 -4.0M76.4 102.1l4.0 4.0M76.4 106.1l4.0 -4.0M78.9 102.7l4.0 4.0M78.9 106.7l4.0 -4.0M84.6 102.7l4.0 4.0M84.6 106.7l4.0 -4.0M87.8 102.1l4.0 4.0M87.8 106.1l4.0 -4.0M95.1 102.9l4.0 4.0M95.1 106.9l4.0 -4.0M95.7 102.1l4.0 4.0M95.7 106.1l4.0 -4.0M97.2 102.7l4.0 4.0M97.2 106.7l4.0 -4.0M97.6 102.4l4.0 4.0M97.6 106.4l4.0 -4.0M100.3 102.1l4.0 4.0M100.3 106.1l4.0 -4.0M103.6 102.2l4.0 4.0M103.6 106.2l4.0 -4.0M103.8 102.8l4.0 4.0M103.8 106.8l4.0 -4.0M103.2 102.0l4.0 4.0M103.2 106.0l4.0 -4.0M110.0 102.1l4.0 4.0M110.0 106.1l4.0 -4.0M110.0 102.5l4.0 4.0M110.0 106.5l4.0 -4.0M114.0 102.8l4.0 4.0M114.0 106.8l4.0 -4.0M116.8 102.1l4.0 4.0M116.8 106.1l4.0 -4.0M120.6 102.3l4.0 4.0M120.6 106.3l4.0 -4.0M128.0 102.6l4.0 4.0M128.0 106.6l4.0 -4.0M127.1 102.8l4.0 4.0M127.1 106.8l4.0 -4.0M130.3 102.9l4.0 4.0M130.3 106.9l4.0 -4.0M139.1 102.7l4.0 4.0M139.1 106.7l4.0 -4.0M32.5 103.9l4.0 4.0M32.5 107.9l4.0 -4.0M35.4 103.4l4.0 4.0M35.4 107.4l4.0 -4.0M50.6 103.9l4.0 4.0M50.6 107.9l4.0 -4.0M51.1 103.0l4.0 4.0M51.1 107.0l4.0 -4.0M54.1 103.3l4.0 4.0M54.1 107.3l4.0 -4.0M62.8 103.5l4.0 4.0M62.8 107.5l4.0 -4.0M63.7 103.4l4.0 4.0M63.7 107.4l4.0 -4.0M72.0 103.8l4.0 4.0M72.0 107.8l4.0 -4.0M74.1 103.6l4.0 4.0M74.1 107.6l4.0 -4.0M78.4 103.4l4.0 4.0M78.4 107.4l4.0 -4.0M80.4 103.7l4.0 4.0M80.4 107.7l4.0 -4.0M81.3 103.5l4.0 4.0M81.3 107.5l4.0 -4.0M85.4 103.6l4.0 4.0M85.4 107.6l4.0 -4.0M89.2 103.0l4.0 4.0M89.2 107.0l4.0 -4.0M89.9 103.6l4.0 4.0M89.9 107.6l4.0 -4.0M91.5 103.0l4.0 4.0M91.5 107.0l4.0 -4.0M93.4 103.9l4.0 4.0M93.4 107.9l4.0 -4.0M97.7 103.0l4.0 4.0M97.7 107.0l4.0 -4.0M102.2 103.3l4.0 4.0M102.2 107.3l4.0 -4.0M105.9 103.9l4.0 4.0M105.9 107.9l4.0 -4.0M107.1 103.4l4.0 4.0M107.1 107.4l4.0 -4.0M112.9 103.4l4.0 4.0M112.9 107.4l4.0 -4.0M122.3 104.0l4.0 4.0M122.3 108.0l4.0 -4.0M130.6 103.8l4.0 4.0M130.6 107.8l4.0 -4.0M146.4 103.5l4.0 4.0M146.4 107.5l4.0 -4.0M151.6 103.9l4.0 4.0M151.6 107.9l4.0 -4.0M32.6 104.5l4.0 4.0M32.6 108.5l4.0 -4.0M33.2 104.3l4.0 4.0M33.2 108.3l4.0 -4.0M35.4 104.4l4.0 4.0M35.4 108.4l4.0 -4.0M38.4 104.5l4.0 4.0M38.4 108.5l4.0 -4.0M43.9 105.0l4.0 4.0M43.9 109.0l4.0 -4.0M49.7 104.2l4.0 4.0M49.7 108.2l4.0 -4.0M50.1 104.5l4.0 4.0M50.1 108.5l4.0 -4.0M53.3 104.3l4.0 4.0M53.3 108.3l4.0 -4.0M55.0 104.7l4.0 4.0M55.0 108.7l4.0 -4.0M54.3 105.0l4.0 4.0M54.3 109.0l4.0 -4.0M54.5 104.1l4.0 4.0M54.5 108.1l4.0 -4.0M56.5 104.8l4.0 4.0M56.5 108.8l4.0 -4.0M61.0 104.1l4.0 4.0M61.0 108.1l4.0 -4.0M67.6 104.3l4.0 4.0M67.6 108.3l4.0 -4.0M71.3 104.6l4.0 4.0M71.3 108.6l4.0 -4.0M72.4 104.8l4.0 4.0M72.4 108.8l4.0 -4.0M79.2 105.0l4.0 4.0M79.2 109.0l4.0 -4.0M88.9 104.9l4.0 4.0M88.9 108.9l4.0 -4.0M89.1 104.4l4.0 4.0M89.1 108.4l4.0 -4.0M93.2 104.3l4.0 4.0M93.2 108.3l4.0 -4.0M95.1 104.7l4.0 4.0M95.1 108.7l4.0 -4.0M100.5 104.3l4.0 4.0M100.5 108.3l4.0 -4.0M100.2 104.7l4.0 4.0M100.2 108.7l4.0 -4.0M103.9 104.4l4.0 4.0M103.9 108.4l4.0 -4.0M107.4 104.6l4.0 4.0M107.4 108.6l4.0 -4.0M111.6 104.4l4.0 4.0M111.6 108.4l4.0 -4.0M114.6 104.3l4.0 4.0M114.6 108.3l4.0 -4.0M125.6 104.1l4.0 4.0M125.6 108.1l4.0 -4.0M132.8 104.9l4.0 4.0M132.8 108.9l4.0 -4.0M140.8 104.8l4.0 4.0M140.8 108.8l4.0 -4.0M144.2 104.5l4.0 4.0M144.2 108.5l4.0 -4.0M145.7 104.7l4.0 4.0M145.7 108.7l4.0 -4.0M150.5 104.4l4.0 4.0M150.5 108.4l4.0 -4.0M53.7 105.8l4.0 4.0M53.7 109.8l4.0 -4.0M55.9 105.4l4.0 4.0M55.9 109.4l4.0 -4.0M56.5 105.6l4.0 4.0M56.5 109.6l4.0 -4.0M56.3 105.8l4.0 4.0M56.3 109.8l4.0 -4.0M63.2 105.2l4.0 4.0M63.2 109.2l4.0 -4.0M65.0 105.2l4.0 4.0M65.0 109.2l4.0 -4.0M66.2 105.4l4.0 4.0M66.2 109.4l4.0 -4.0M68.6 105.2l4.0 4.0M68.6 109.2l4.0 -4.0M69.0 105.5l4.0 4.0M69.0 109.5l4.0 -4.0M74.2 105.3l4.0 4.0M74.2 109.3l4.0 -4.0M75.3 105.9l4.0 4.0M75.3 109.9l4.0 -4.0M76.7 105.5l4.0 4.0M76.7 109.5l4.0 -4.0M76.7 105.5l4.0 4.0M76.7 109.5l4.0 -4.0M76.4 105.7l4.0 4.0M76.4 109.7l4.0 -4.0M86.1 105.4l4.0 4.0M86.1 109.4l4.0 -4.0M88.8 105.9l4.0 4.0M88.8 109.9l4.0 -4.0M92.3 105.6l4.0 4.0M92.3 109.6l4.0 -4.0M97.3 105.8l4.0 4.0M97.3 109.8l4.0 -4.0M100.3 105.1l4.0 4.0M100.3 109.1l4.0 -4.0M101.5 105.2l4.0 4.0M101.5 109.2l4.0 -4.0M108.2 105.5l4.0 4.0M108.2 109.5l4.0 -4.0M114.7 105.4l4.0 4.0M114.7 109.4l4.0 -4.0M117.8 105.6l4.0 4.0M117.8 109.6l4.0 -4.0M119.7 105.4l4.0 4.0M119.7 109.4l4.0 -4.0M120.8 105.5l4.0 4.0M120.8 109.5l4.0 -4.0M122.5 105.7l4.0 4.0M122.5 109.7l4.0 -4.0M125.8 105.4l4.0 4.0M125.8 109.4l4.0 -4.0M125.7 105.5l4.0 4.0M125.7 109.5l4.0 -4.0M127.1 105.1l4.0 4.0M127.1 109.1l4.0 -4.0M128.6 105.7l4.0 4.0M128.6 109.7l4.0 -4.0M129.9 105.8l4.0 4.0M129.9 109.8l4.0 -4.0M130.5 105.5l4.0 4.0M130.5 109.5l4.0 -4.0M136.3 105.3l4.0 4.0M136.3 109.3l4.0 -4.0M152.0 105.7l4.0 4.0M152.0 109.7l4.0 -4.0M32.0 106.6l4.0 4.0M32.0 110.6l4.0 -4.0M34.5 107.0l4.0 4.0M34.5 111.0l4.0 -4.0M35.0 106.7l4.0 4.0M35.0 110.7l4.0 -4.0M37.4 106.2l4.0 4.0M37.4 110.2l4.0 -4.0M40.6 106.5l4.0 4.0M40.6 110.5l4.0 -4.0M40.7 106.6l4.0 4.0M40.7 110.6l4.0 -4.0M53.7 106.5l4.0 4.0M53.7 110.5l4.0 -4.0M53.9 106.1l4.0 4.0M53.9 110.1l4.0 -4.0M54.9 106.1l4.0 4.0M54.9 110.1l4.0 -4.0M55.8 106.1l4.0 4.0M55.8 110.1l4.0 -4.0M58.4 106.9l4.0 4.0M58.4 110.9l4.0 -4.0M58.6 106.6l4.0 4.0M58.6 110.6l4.0 -4.0M60.9 106.7l4.0 4.0M60.9 110.7l4.0 -4.0M61.0 106.6l4.0 4.0M61.0 110.6l4.0 -4.0M61.8 106.6l4.0 4.0M61.8 110.6l4.0 -4.0M63.9 106.3l4.0 4.0M63.9 110.3l4.0 -4.0M69.3 106.3l4.0 4.0M69.3 110.3l4.0 -4.0M69.9 106.6l4.0 4.0M69.9 110.6l4.0 -4.0M74.6 106.5l4.0 4.0M74.6 110.5l4.0 -4.0M80.2 106.6l4.0 4.0M80.2 110.6l4.0 -4.0M81.6 106.7l4.0 4.0M81.6 110.7l4.0 -4.0M81.6 106.3l4.0 4.0M81.6 110.3l4.0 -4.0M84.6 106.4l4.0 4.0M84.6 110.4l4.0 -4.0M85.7 107.0l4.0 4.0M85.7 111.0l4.0 -4.0M86.9 106.5l4.0 4.0M86.9 110.5l4.0 -4.0M91.7 106.5l4.0 4.0M91.7 110.5l4.0 -4.0M92.8 106.9l4.0 4.0M92.8 110.9l4.0 -4.0M97.8 106.0l4.0 4.0M97.8 110.0l4.0 -4.0M101.7 106.7l4.0 4.0M101.7 110.7l4.0 -4.0M104.3 106.0l4.0 4.0M104.3 110.0l4.0 -4.0M104.7 106.7l4.0 4.0M104.7 110.7l4.0 -4.0M106.0 106.3l4.0 4.0M106.0 110.3l4.0 -4.0M114.0 106.8l4.0 4.0M114.0 110.8l4.0 -4.0M135.9 106.2l4.0 4.0M135.9 110.2l4.0 -4.0M136.1 106.0l4.0 4.0M136.1 110.0l4.0 -4.0M144.0 106.4l4.0 4.0M144.0 110.4l4.0 -4.0M31.2 107.9l4.0 4.0M31.2 111.9l4.0 -4.0M32.0 107.2l4.0 4.0M32.0 111.2l4.0 -4.0M33.6 107.5l4.0 4.0M33.6 111.5l4.0 -4.0M34.2 107.6l4.0 4.0M34.2 111.6l4.0 -4.0M38.3 107.5l4.0 4.0M38.3 111.5l4.0 -4.0M38.6 107.5l4.0 4.0M38.6 111.5l4.0 -4.0M41.4 107.1l4.0 4.0M41.4 111.1l4.0 -4.0M43.3 107.3l4.0 4.0M43.3 111.3l4.0 -4.0M44.9 107.9l4.0 4.0M44.9 111.9l4.0 -4.0M46.8 107.1l4.0 4.0M46.8 111.1l4.0 -4.0M46.1 107.7l4.0 4.0M46.1 111.7l4.0 -4.0M48.4 107.9l4.0 4.0M48.4 111.9l4.0 -4.0M51.1 107.6l4.0 4.0M51.1 111.6l4.0 -4.0M53.7 108.0l4.0 4.0M53.7 112.0l4.0 -4.0M53.3 107.4l4.0 4.0M53.3 111.4l4.0 -4.0M54.9 107.8l4.0 4.0M54.9 111.8l4.0 -4.0M57.4 107.1l4.0 4.0M57.4 111.1l4.0 -4.0M63.2 107.7l4.0 4.0M63.2 111.7l4.0 -4.0M67.2 107.2l4.0 4.0M67.2 111.2l4.0 -4.0M68.3 107.1l4.0 4.0M68.3 111.1l4.0 -4.0M73.0 107.1l4.0 4.0M73.0 111.1l4.0 -4.0M75.1 107.4l4.0 4.0M75.1 111.4l4.0 -4.0M77.4 107.7l4.0 4.0M77.4 111.7l4.0 -4.0M80.4 107.7l4.0 4.0M80.4 111.7l4.0 -4.0M80.9 107.6l4.0 4.0M80.9 111.6l4.0 -4.0M84.5 107.5l4.0 4.0M84.5 111.5l4.0 -4.0M86.4 107.1l4.0 4.0M86.4 111.1l4.0 -4.0M89.8 107.4l4.0 4.0M89.8 111.4l4.0 -4.0M89.9 107.4l4.0 4.0M89.9 111.4l4.0 -4.0M95.9 107.3l4.0 4.0M95.9 111.3l4.0 -4.0M99.7 107.2l4.0 4.0M99.7 111.2l4.0 -4.0M100.5 107.9l4.0 4.0M100.5 111.9l4.0 -4.0M104.7 107.3l4.0 4.0M104.7 111.3l4.0 -4.0M105.3 107.2l4.0 4.0M105.3 111.2l4.0 -4.0M108.8 107.8l4.0 4.0M108.8 111.8l4.0 -4.0M112.0 107.7l4.0 4.0M112.0 111.7l4.0 -4.0M114.8 107.9l4.0 4.0M114.8 111.9l4.0 -4.0M115.8 107.5l4.0 4.0M115.8 111.5l4.0 -4.0M115.2 107.1l4.0 4.0M115.2 111.1l4.0 -4.0M118.7 107.4l4.0 4.0M118.7 111.4l4.0 -4.0M126.7 107.9l4.0 4.0M126.7 111.9l4.0 -4.0M128.0 107.0l4.0 4.0M128.0 111.0l4.0 -4.0M133.2 107.3l4.0 4.0M133.2 111.3l4.0 -4.0M134.2 107.9l4.0 4.0M134.2 111.9l4.0 -4.0M137.6 107.8l4.0 4.0M137.6 111.8l4.0 -4.0M148.6 107.5l4.0 4.0M148.6 111.5l4.0 -4.0M150.5 107.2l4.0 4.0M150.5 111.2l4.0 -4.0M32.2 109.0l4.0 4.0M32.2 113.0l4.0 -4.0M32.9 108.1l4.0 4.0M32.9 112.1l4.0 -4.0M37.7 108.6l4.0 4.0M37.7 112.6l4.0 -4.0M38.8 108.5l4.0 4.0M38.8 112.5l4.0 -4.0M51.9 108.8l4.0 4.0M51.9 112.8l4.0 -4.0M52.8 108.2l4.0 4.0M52.8 112.2l4.0 -4.0M54.6 108.4l4.0 4.0M54.6 112.4l4.0 -4.0M59.5 108.0l4.0 4.0M59.5 112.0l4.0 -4.0M61.6 108.9l4.0 4.0M61.6 112.9l4.0 -4.0M62.8 108.7l4.0 4.0M62.8 112.7l4.0 -4.0M63.0 108.3l4.0 4.0M63.0 112.3l4.0 -4.0M62.3 108.0l4.0 4.0M62.3 112.0l4.0 -4.0M63.2 108.1l4.0 4.0M63.2 112.1l4.0 -4.0M63.6 108.8l4.0 4.0M63.6 112.8l4.0 -4.0M66.1 108.2l4.0 4.0M66.1 112.2l4.0 -4.0M70.2 108.6l4.0 4.0M70.2 112.6l4.0 -4.0M71.0 109.0l4.0 4.0M71.0 113.0l4.0 -4.0M71.1 108.5l4.0 4.0M71.1 112.5l4.0 -4.0M72.4 108.5l4.0 4.0M72.4 112.5l4.0 -4.0M90.7 108.3l4.0 4.0M90.7 112.3l4.0 -4.0M94.9 109.0l4.0 4.0M94.9 113.0l4.0 -4.0M95.7 108.8l4.0 4.0M95.7 112.8l4.0 -4.0M96.4 108.4l4.0 4.0M96.4 112.4l4.0 -4.0M98.0 108.6l4.0 4.0M98.0 112.6l4.0 -4.0M97.4 108.6l4.0 4.0M97.4 112.6l4.0 -4.0M107.9 108.5l4.0 4.0M107.9 112.5l4.0 -4.0M107.8 108.2l4.0 4.0M107.8 112.2l4.0 -4.0M111.5 109.0l4.0 4.0M111.5 113.0l4.0 -4.0M111.6 108.8l4.0 4.0M111.6 112.8l4.0 -4.0M112.7 108.8l4.0 4.0M112.7 112.8l4.0 -4.0M114.1 108.9l4.0 4.0M114.1 112.9l4.0 -4.0M119.5 108.8l4.0 4.0M119.5 112.8l4.0 -4.0M124.5 108.1l4.0 4.0M124.5 112.1l4.0 -4.0M127.4 108.7l4.0 4.0M127.4 112.7l4.0 -4.0M133.2 109.0l4.0 4.0M133.2 113.0l4.0 -4.0M135.1 108.0l4.0 4.0M135.1 112.0l4.0 -4.0M137.8 108.4l4.0 4.0M137.8 112.4l4.0 -4.0M143.4 108.3l4.0 4.0M143.4 112.3l4.0 -4.0M31.6 109.4l4.0 4.0M31.6 113.4l4.0 -4.0M32.0 109.2l4.0 4.0M32.0 113.2l4.0 -4.0M34.3 109.4l4.0 4.0M34.3 113.4l4.0 -4.0M38.6 109.1l4.0 4.0M38.6 113.1l4.0 -4.0M38.5 109.8l4.0 4.0M38.5 113.8l4.0 -4.0M39.2 109.3l4.0 4.0M39.2 113.3l4.0 -4.0M42.0 109.2l4.0 4.0M42.0 113.2l4.0 -4.0M44.1 109.2l4.0 4.0M44.1 113.2l4.0 -4.0M47.0 109.2l4.0 4.0M47.0 113.2l4.0 -4.0M48.4 109.6l4.0 4.0M48.4 113.6l4.0 -4.0M53.5 109.0l4.0 4.0M53.5 113.0l4.0 -4.0M54.7 109.7l4.0 4.0M54.7 113.7l4.0 -4.0M58.9 110.0l4.0 4.0M58.9 114.0l4.0 -4.0M59.2 109.3l4.0 4.0M59.2 113.3l4.0 -4.0M60.9 109.1l4.0 4.0M60.9 113.1l4.0 -4.0M61.5 109.7l4.0 4.0M61.5 113.7l4.0 -4.0M65.2 109.2l4.0 4.0M65.2 113.2l4.0 -4.0M68.9 109.1l4.0 4.0M68.9 113.1l4.0 -4.0M73.7 109.1l4.0 4.0M73.7 113.1l4.0 -4.0M75.3 109.4l4.0 4.0M75.3 113.4l4.0 -4.0M75.5 109.2l4.0 4.0M75.5 113.2l4.0 -4.0M78.5 109.8l4.0 4.0M78.5 113.8l4.0 -4.0M79.1 109.0l4.0 4.0M79.1 113.0l4.0 -4.0M81.0 109.3l4.0 4.0M81.0 113.3l4.0 -4.0M81.4 110.0l4.0 4.0M81.4 114.0l4.0 -4.0M82.2 109.1l4.0 4.0M82.2 113.1l4.0 -4.0M84.9 109.6l4.0 4.0M84.9 113.6l4.0 -4.0M89.3 109.0l4.0 4.0M89.3 113.0l4.0 -4.0M89.8 110.0l4.0 4.0M89.8 114.0l4.0 -4.0M91.2 109.6l4.0 4.0M91.2 113.6l4.0 -4.0M92.7 109.2l4.0 4.0M92.7 113.2l4.0 -4.0M95.5 109.4l4.0 4.0M95.5 113.4l4.0 -4.0M97.3 109.3l4.0 4.0M97.3 113.3l4.0 -4.0M98.5 109.7l4.0 4.0M98.5 113.7l4.0 -4.0M98.5 109.4l4.0 4.0M98.5 113.4l4.0 -4.0M109.1 109.5l4.0 4.0M109.1 113.5l4.0 -4.0M111.7 109.0l4.0 4.0M111.7 113.0l4.0 -4.0M113.0 109.2l4.0 4.0M113.0 113.2l4.0 -4.0M116.3 109.6l4.0 4.0M116.3 113.6l4.0 -4.0M122.7 109.9l4.0 4.0M122.7 113.9l4.0 -4.0M32.4 110.3l4.0 4.0M32.4 114.3l4.0 -4.0M33.8 110.7l4.0 4.0M33.8 114.7l4.0 -4.0M34.4 110.0l4.0 4.0M34.4 114.0l4.0 -4.0M39.0 110.2l4.0 4.0M39.0 114.2l4.0 -4.0M38.1 110.1l4.0 4.0M38.1 114.1l4.0 -4.0M46.3 110.2l4.0 4.0M46.3 114.2l4.0 -4.0M50.6 110.1l4.0 4.0M50.6 114.1l4.0 -4.0M50.8 110.5l4.0 4.0M50.8 114.5l4.0 -4.0M57.4 111.0l4.0 4.0M57.4 115.0l4.0 -4.0M58.8 110.3l4.0 4.0M58.8 114.3l4.0 -4.0M58.1 110.2l4.0 4.0M58.1 114.2l4.0 -4.0M59.3 110.4l4.0 4.0M59.3 114.4l4.0 -4.0M61.1 110.8l4.0 4.0M61.1 114.8l4.0 -4.0M63.3 110.9l4.0 4.0M63.3 114.9l4.0 -4.0M65.3 111.0l4.0 4.0M65.3 115.0l4.0 -4.0M68.8 110.6l4.0 4.0M68.8 114.6l4.0 -4.0M70.2 110.8l4.0 4.0M70.2 114.8l4.0 -4.0M71.6 110.1l4.0 4.0M71.6 114.1l4.0 -4.0M74.0 110.3l4.0 4.0M74.0 114.3l4.0 -4.0M77.9 110.4l4.0 4.0M77.9 114.4l4.0 -4.0M77.8 110.9l4.0 4.0M77.8 114.9l4.0 -4.0M78.2 111.0l4.0 4.0M78.2 115.0l4.0 -4.0M82.8 110.1l4.0 4.0M82.8 114.1l4.0 -4.0M88.1 110.5l4.0 4.0M88.1 114.5l4.0 -4.0M105.9 110.9l4.0 4.0M105.9 114.9l4.0 -4.0M108.7 110.2l4.0 4.0M108.7 114.2l4.0 -4.0M115.1 110.3l4.0 4.0M115.1 114.3l4.0 -4.0M122.5 110.1l4.0 4.0M122.5 114.1l4.0 -4.0M139.7 110.8l4.0 4.0M139.7 114.8l4.0 -4.0M140.2 110.5l4.0 4.0M140.2 114.5l4.0 -4.0M144.2 110.8l4.0 4.0M144.2 114.8l4.0 -4.0M148.0 110.7l4.0 4.0M148.0 114.7l4.0 -4.0M35.0 111.2l4.0 4.0M35.0 115.2l4.0 -4.0M35.2 111.9l4.0 4.0M35.2 115.9l4.0 -4.0M40.6 111.3l4.0 4.0M40.6 115.3l4.0 -4.0M43.8 111.8l4.0 4.0M43.8 115.8l4.0 -4.0M48.5 111.2l4.0 4.0M48.5 115.2l4.0 -4.0M53.7 111.5l4.0 4.0M53.7 115.5l4.0 -4.0M56.8 111.7l4.0 4.0M56.8 115.7l4.0 -4.0M60.3 111.7l4.0 4.0M60.3 115.7l4.0 -4.0M69.0 111.0l4.0 4.0M69.0 115.0l4.0 -4.0M69.4 111.8l4.0 4.0M69.4 115.8l4.0 -4.0M72.7 111.2l4.0 4.0M72.7 115.2l4.0 -4.0M73.5 111.1l4.0 4.0M73.5 115.1l4.0 -4.0M77.8 112.0l4.0 4.0M77.8 116.0l4.0 -4.0M77.9 111.2l4.0 4.0M77.9 115.2l4.0 -4.0M78.1 111.2l4.0 4.0M78.1 115.2l4.0 -4.0M78.2 111.7l4.0 4.0M78.2 115.7l4.0 -4.0M79.7 111.2l4.0 4.0M79.7 115.2l4.0 -4.0M80.2 111.9l4.0 4.0M80.2 115.9l4.0 -4.0M82.6 111.7l4.0 4.0M82.6 115.7l4.0 -4.0M85.1 111.4l4.0 4.0M85.1 115.4l4.0 -4.0M85.9 111.0l4.0 4.0M85.9 115.0l4.0 -4.0M86.2 111.6l4.0 4.0M86.2 115.6l4.0 -4.0M89.1 111.6l4.0 4.0M89.1 115.6l4.0 -4.0M90.1 111.1l4.0 4.0M90.1 115.1l4.0 -4.0M91.7 111.3l4.0 4.0M91.7 115.3l4.0 -4.0M92.1 112.0l4.0 4.0M92.1 116.0l4.0 -4.0M97.6 111.6l4.0 4.0M97.6 115.6l4.0 -4.0M115.8 111.0l4.0 4.0M115.8 115.0l4.0 -4.0M121.8 111.4l4.0 4.0M121.8 115.4l4.0 -4.0M125.1 111.1l4.0 4.0M125.1 115.1l4.0 -4.0M141.9 111.8l4.0 4.0M141.9 115.8l4.0 -4.0M32.4 112.5l4.0 4.0M32.4 116.5l4.0 -4.0M35.3 112.3l4.0 4.0M35.3 116.3l4.0 -4.0M42.2 112.5l4.0 4.0M42.2 116.5l4.0 -4.0M43.2 112.8l4.0 4.0M43.2 116.8l4.0 -4.0M45.1 112.4l4.0 4.0M45.1 116.4l4.0 -4.0M46.4 112.1l4.0 4.0M46.4 116.1l4.0 -4.0M52.9 112.6l4.0 4.0M52.9 116.6l4.0 -4.0M53.2 112.1l4.0 4.0M53.2 116.1l4.0 -4.0M62.8 112.8l4.0 4.0M62.8 116.8l4.0 -4.0M66.1 112.1l4.0 4.0M66.1 116.1l4.0 -4.0M72.6 112.7l4.0 4.0M72.6 116.7l4.0 -4.0M72.9 112.1l4.0 4.0M72.9 116.1l4.0 -4.0M77.0 112.1l4.0 4.0M77.0 116.1l4.0 -4.0M80.0 112.1l4.0 4.0M80.0 116.1l4.0 -4.0M79.2 112.3l4.0 4.0M79.2 116.3l4.0 -4.0M96.7 112.2l4.0 4.0M96.7 116.2l4.0 -4.0M96.2 112.3l4.0 4.0M96.2 116.3l4.0 -4.0M109.7 112.2l4.0 4.0M109.7 116.2l4.0 -4.0M113.5 112.4l4.0 4.0M113.5 116.4l4.0 -4.0M125.4 112.5l4.0 4.0M125.4 116.5l4.0 -4.0M127.6 112.2l4.0 4.0M127.6 116.2l4.0 -4.0M135.4 112.3l4.0 4.0M135.4 116.3l4.0 -4.0M32.3 113.3l4.0 4.0M32.3 117.3l4.0 -4.0M34.7 113.7l4.0 4.0M34.7 117.7l4.0 -4.0M36.5 113.3l4.0 4.0M36.5 117.3l4.0 -4.0M36.9 113.8l4.0 4.0M36.9 117.8l4.0 -4.0M37.1 113.6l4.0 4.0M37.1 117.6l4.0 -4.0M38.3 113.7l4.0 4.0M38.3 117.7l4.0 -4.0M42.5 113.9l4.0 4.0M42.5 117.9l4.0 -4.0M47.4 113.1l4.0 4.0M47.4 117.1l4.0 -4.0M47.2 113.1l4.0 4.0M47.2 117.1l4.0 -4.0M51.7 113.9l4.0 4.0M51.7 117.9l4.0 -4.0M60.7 113.8l4.0 4.0M60.7 117.8l4.0 -4.0M60.9 113.9l4.0 4.0M60.9 117.9l4.0 -4.0M62.6 113.5l4.0 4.0M62.6 117.5l4.0 -4.0M65.5 113.6l4.0 4.0M65.5 117.6l4.0 -4.0M70.4 113.1l4.0 4.0M70.4 117.1l4.0 -4.0M73.2 113.4l4.0 4.0M73.2 117.4l4.0 -4.0M81.5 113.6l4.0 4.0M81.5 117.6l4.0 -4.0M84.5 113.5l4.0 4.0M84.5 117.5l4.0 -4.0M85.3 113.1l4.0 4.0M85.3 117.1l4.0 -4.0M85.4 113.0l4.0 4.0M85.4 117.0l4.0 -4.0M90.8 113.4l4.0 4.0M90.8 117.4l4.0 -4.0M94.1 113.7l4.0 4.0M94.1 117.7l4.0 -4.0M97.8 113.3l4.0 4.0M97.8 117.3l4.0 -4.0M108.7 113.7l4.0 4.0M108.7 117.7l4.0 -4.0M108.2 113.3l4.0 4.0M108.2 117.3l4.0 -4.0M113.0 113.3l4.0 4.0M113.0 117.3l4.0 -4.0M113.2 113.2l4.0 4.0M113.2 117.2l4.0 -4.0M113.9 113.5l4.0 4.0M113.9 117.5l4.0 -4.0M118.0 113.6l4.0 4.0M118.0 117.6l4.0 -4.0M121.8 113.5l4.0 4.0M121.8 117.5l4.0 -4.0M122.6 113.9l4.0 4.0M122.6 117.9l4.0 -4.0M140.1 113.6l4.0 4.0M140.1 117.6l4.0 -4.0M142.7 113.7l4.0 4.0M142.7 117.7l4.0 -4.0M33.9 114.7l4.0 4.0M33.9 118.7l4.0 -4.0M33.4 114.4l4.0 4.0M33.4 118.4l4.0 -4.0M40.2 114.8l4.0 4.0M40.2 118.8l4.0 -4.0M41.3 114.7l4.0 4.0M41.3 118.7l4.0 -4.0M42.2 114.2l4.0 4.0M42.2 118.2l4.0 -4.0M43.3 114.2l4.0 4.0M43.3 118.2l4.0 -4.0M47.8 114.8l4.0 4.0M47.8 118.8l4.0 -4.0M49.8 114.6l4.0 4.0M49.8 118.6l4.0 -4.0M54.3 114.4l4.0 4.0M54.3 118.4l4.0 -4.0M54.8 114.4l4.0 4.0M54.8 118.4l4.0 -4.0M57.5 114.9l4.0 4.0M57.5 118.9l4.0 -4.0M57.2 114.4l4.0 4.0M57.2 118.4l4.0 -4.0M63.4 114.6l4.0 4.0M63.4 118.6l4.0 -4.0M63.7 114.2l4.0 4.0M63.7 118.2l4.0 -4.0M70.1 114.7l4.0 4.0M70.1 118.7l4.0 -4.0M70.4 114.8l4.0 4.0M70.4 118.8l4.0 -4.0M73.2 114.1l4.0 4.0M73.2 118.1l4.0 -4.0M77.9 114.0l4.0 4.0M77.9 118.0l4.0 -4.0M77.3 114.5l4.0 4.0M77.3 118.5l4.0 -4.0M81.1 114.9l4.0 4.0M81.1 118.9l4.0 -4.0M85.8 114.5l4.0 4.0M85.8 118.5l4.0 -4.0M91.1 114.4l4.0 4.0M91.1 118.4l4.0 -4.0M91.8 114.1l4.0 4.0M91.8 118.1l4.0 -4.0M93.9 114.6l4.0 4.0M93.9 118.6l4.0 -4.0M96.9 114.9l4.0 4.0M96.9 118.9l4.0 -4.0M100.5 114.5l4.0 4.0M100.5 118.5l4.0 -4.0M103.3 114.8l4.0 4.0M103.3 118.8l4.0 -4.0M104.3 114.1l4.0 4.0M104.3 118.1l4.0 -4.0M104.4 115.0l4.0 4.0M104.4 119.0l4.0 -4.0M104.4 114.4l4.0 4.0M104.4 118.4l4.0 -4.0M117.7 115.0l4.0 4.0M117.7 119.0l4.0 -4.0M117.5 114.9l4.0 4.0M117.5 118.9l4.0 -4.0M122.6 114.3l4.0 4.0M122.6 118.3l4.0 -4.0M126.0 114.2l4.0 4.0M126.0 118.2l4.0 -4.0M131.4 114.4l4.0 4.0M131.4 118.4l4.0 -4.0M132.3 114.1l4.0 4.0M132.3 118.1l4.0 -4.0M135.1 114.4l4.0 4.0M135.1 118.4l4.0 -4.0M142.7 114.3l4.0 4.0M142.7 118.3l4.0 -4.0M149.8 114.7l4.0 4.0M149.8 118.7l4.0 -4.0M31.2 115.3l4.0 4.0M31.2 119.3l4.0 -4.0M33.1 115.8l4.0 4.0M33.1 119.8l4.0 -4.0M39.1 115.9l4.0 4.0M39.1 119.9l4.0 -4.0M41.9 115.3l4.0 4.0M41.9 119.3l4.0 -4.0M42.7 115.4l4.0 4.0M42.7 119.4l4.0 -4.0M43.1 115.3l4.0 4.0M43.1 119.3l4.0 -4.0M50.9 115.4l4.0 4.0M50.9 119.4l4.0 -4.0M55.4 115.7l4.0 4.0M55.4 119.7l4.0 -4.0M56.8 115.9l4.0 4.0M56.8 119.9l4.0 -4.0M59.6 115.5l4.0 4.0M59.6 119.5l4.0 -4.0M60.9 115.9l4.0 4.0M60.9 119.9l4.0 -4.0M61.5 115.2l4.0 4.0M61.5 119.2l4.0 -4.0M64.8 115.1l4.0 4.0M64.8 119.1l4.0 -4.0M69.4 115.3l4.0 4.0M69.4 119.3l4.0 -4.0M75.8 115.5l4.0 4.0M75.8 119.5l4.0 -4.0M76.1 115.9l4.0 4.0M76.1 119.9l4.0 -4.0M82.1 115.2l4.0 4.0M82.1 119.2l4.0 -4.0M88.5 115.9l4.0 4.0M88.5 119.9l4.0 -4.0M89.8 115.5l4.0 4.0M89.8 119.5l4.0 -4.0M90.6 115.0l4.0 4.0M90.6 119.0l4.0 -4.0M91.6 115.7l4.0 4.0M91.6 119.7l4.0 -4.0M92.1 115.4l4.0 4.0M92.1 119.4l4.0 -4.0M95.2 115.9l4.0 4.0M95.2 119.9l4.0 -4.0M98.5 115.0l4.0 4.0M98.5 119.0l4.0 -4.0M99.5 115.5l4.0 4.0M99.5 119.5l4.0 -4.0M100.8 115.3l4.0 4.0M100.8 119.3l4.0 -4.0M101.1 115.2l4.0 4.0M101.1 119.2l4.0 -4.0M114.0 115.4l4.0 4.0M114.0 119.4l4.0 -4.0M113.4 115.0l4.0 4.0M113.4 119.0l4.0 -4.0M133.9 115.3l4.0 4.0M133.9 119.3l4.0 -4.0M139.4 115.1l4.0 4.0M139.4 119.1l4.0 -4.0M147.9 115.6l4.0 4.0M147.9 119.6l4.0 -4.0M31.5 116.5l4.0 4.0M31.5 120.5l4.0 -4.0M33.5 116.4l4.0 4.0M33.5 120.4l4.0 -4.0M34.3 116.1l4.0 4.0M34.3 120.1l4.0 -4.0M37.2 116.1l4.0 4.0M37.2 120.1l4.0 -4.0M38.5 116.2l4.0 4.0M38.5 120.2l4.0 -4.0M38.7 116.6l4.0 4.0M38.7 120.6l4.0 -4.0M41.8 116.7l4.0 4.0M41.8 120.7l4.0 -4.0M43.0 116.3l4.0 4.0M43.0 120.3l4.0 -4.0M42.7 116.3l4.0 4.0M42.7 120.3l4.0 -4.0M44.9 116.2l4.0 4.0M44.9 120.2l4.0 -4.0M44.4 117.0l4.0 4.0M44.4 121.0l4.0 -4.0M52.3 116.2l4.0 4.0M52.3 120.2l4.0 -4.0M54.5 116.3l4.0 4.0M54.5 120.3l4.0 -4.0M58.8 116.2l4.0 4.0M58.8 120.2l4.0 -4.0M61.6 116.6l4.0 4.0M61.6 120.6l4.0 -4.0M66.2 116.2l4.0 4.0M66.2 120.2l4.0 -4.0M70.8 116.9l4.0 4.0M70.8 120.9l4.0 -4.0M70.1 116.5l4.0 4.0M70.1 120.5l4.0 -4.0M71.2 116.9l4.0 4.0M71.2 120.9l4.0 -4.0M74.4 116.1l4.0 4.0M74.4 120.1l4.0 -4.0M79.1 116.2l4.0 4.0M79.1 120.2l4.0 -4.0M82.2 116.0l4.0 4.0M82.2 120.0l4.0 -4.0M83.9 116.6l4.0 4.0M83.9 120.6l4.0 -4.0M83.9 116.8l4.0 4.0M83.9 120.8l4.0 -4.0M94.6 116.5l4.0 4.0M94.6 120.5l4.0 -4.0M96.9 116.6l4.0 4.0M96.9 120.6l4.0 -4.0M100.2 116.3l4.0 4.0M100.2 120.3l4.0 -4.0M107.8 116.6l4.0 4.0M107.8 120.6l4.0 -4.0M107.1 116.2l4.0 4.0M107.1 120.2l4.0 -4.0M109.4 116.9l4.0 4.0M109.4 120.9l4.0 -4.0M110.7 116.6l4.0 4.0M110.7 120.6l4.0 -4.0M113.9 116.1l4.0 4.0M113.9 120.1l4.0 -4.0M116.5 116.9l4.0 4.0M116.5 120.9l4.0 -4.0M125.8 116.4l4.0 4.0M125.8 120.4l4.0 -4.0M131.8 116.7l4.0 4.0M131.8 120.7l4.0 -4.0M132.4 116.8l4.0 4.0M132.4 120.8l4.0 -4.0M134.8 117.0l4.0 4.0M134.8 121.0l4.0 -4.0M150.2 116.4l4.0 4.0M150.2 120.4l4.0 -4.0M156.8 116.3l4.0 4.0M156.8 120.3l4.0 -4.0M32.6 117.1l4.0 4.0M32.6 121.1l4.0 -4.0M32.4 118.0l4.0 4.0M32.4 122.0l4.0 -4.0M35.7 117.8l4.0 4.0M35.7 121.8l4.0 -4.0M36.8 117.0l4.0 4.0M36.8 121.0l4.0 -4.0M39.9 117.3l4.0 4.0M39.9 121.3l4.0 -4.0M43.1 117.5l4.0 4.0M43.1 121.5l4.0 -4.0M47.3 117.5l4.0 4.0M47.3 121.5l4.0 -4.0M48.8 117.3l4.0 4.0M48.8 121.3l4.0 -4.0M49.0 117.8l4.0 4.0M49.0 121.8l4.0 -4.0M50.8 117.9l4.0 4.0M50.8 121.9l4.0 -4.0M54.3 117.6l4.0 4.0M54.3 121.6l4.0 -4.0M56.0 117.6l4.0 4.0M56.0 121.6l4.0 -4.0M57.0 117.5l4.0 4.0M57.0 121.5l4.0 -4.0M61.6 117.2l4.0 4.0M61.6 121.2l4.0 -4.0M63.2 117.2l4.0 4.0M63.2 121.2l4.0 -4.0M74.3 117.5l4.0 4.0M74.3 121.5l4.0 -4.0M79.2 117.0l4.0 4.0M79.2 121.0l4.0 -4.0M85.0 117.4l4.0 4.0M85.0 121.4l4.0 -4.0M85.7 117.1l4.0 4.0M85.7 121.1l4.0 -4.0M88.2 117.5l4.0 4.0M88.2 121.5l4.0 -4.0M89.7 117.2l4.0 4.0M89.7 121.2l4.0 -4.0M90.2 117.1l4.0 4.0M90.2 121.1l4.0 -4.0M97.0 117.5l4.0 4.0M97.0 121.5l4.0 -4.0M100.8 117.0l4.0 4.0M100.8 121.0l4.0 -4.0M103.2 117.2l4.0 4.0M103.2 121.2l4.0 -4.0M103.4 117.8l4.0 4.0M103.4 121.8l4.0 -4.0M109.0 117.5l4.0 4.0M109.0 121.5l4.0 -4.0M111.6 117.0l4.0 4.0M111.6 121.0l4.0 -4.0M111.4 117.7l4.0 4.0M111.4 121.7l4.0 -4.0M114.1 117.3l4.0 4.0M114.1 121.3l4.0 -4.0M121.9 117.3l4.0 4.0M121.9 121.3l4.0 -4.0M122.7 117.6l4.0 4.0M122.7 121.6l4.0 -4.0M123.6 117.6l4.0 4.0M123.6 121.6l4.0 -4.0M127.2 117.4l4.0 4.0M127.2 121.4l4.0 -4.0M148.0 117.6l4.0 4.0M148.0 121.6l4.0 -4.0M36.5 118.4l4.0 4.0M36.5 122.4l4.0 -4.0M39.3 118.9l4.0 4.0M39.3 122.9l4.0 -4.0M40.4 118.2l4.0 4.0M40.4 122.2l4.0 -4.0M45.0 118.6l4.0 4.0M45.0 122.6l4.0 -4.0M46.8 118.8l4.0 4.0M46.8 122.8l4.0 -4.0M56.0 118.4l4.0 4.0M56.0 122.4l4.0 -4.0M56.5 118.3l4.0 4.0M56.5 122.3l4.0 -4.0M57.6 118.5l4.0 4.0M57.6 122.5l4.0 -4.0M58.3 118.4l4.0 4.0M58.3 122.4l4.0 -4.0M66.4 118.6l4.0 4.0M66.4 122.6l4.0 -4.0M72.9 119.0l4.0 4.0M72.9 123.0l4.0 -4.0M78.4 118.1l4.0 4.0M78.4 122.1l4.0 -4.0M83.8 118.6l4.0 4.0M83.8 122.6l4.0 -4.0M88.6 118.4l4.0 4.0M88.6 122.4l4.0 -4.0M89.5 119.0l4.0 4.0M89.5 123.0l4.0 -4.0M95.5 118.4l4.0 4.0M95.5 122.4l4.0 -4.0M101.9 118.2l4.0 4.0M101.9 122.2l4.0 -4.0M101.4 118.3l4.0 4.0M101.4 122.3l4.0 -4.0M102.1 118.4l4.0 4.0M102.1 122.4l4.0 -4.0M110.0 118.6l4.0 4.0M110.0 122.6l4.0 -4.0M119.1 118.4l4.0 4.0M119.1 122.4l4.0 -4.0M35.7 120.0l4.0 4.0M35.7 124.0l4.0 -4.0M37.8 119.2l4.0 4.0M37.8 123.2l4.0 -4.0M41.8 119.5l4.0 4.0M41.8 123.5l4.0 -4.0M47.7 119.2l4.0 4.0M47.7 123.2l4.0 -4.0M54.6 119.5l4.0 4.0M54.6 123.5l4.0 -4.0M55.6 119.4l4.0 4.0M55.6 123.4l4.0 -4.0M56.3 119.5l4.0 4.0M56.3 123.5l4.0 -4.0M63.8 119.9l4.0 4.0M63.8 123.9l4.0 -4.0M65.4 119.8l4.0 4.0M65.4 123.8l4.0 -4.0M66.2 119.7l4.0 4.0M66.2 123.7l4.0 -4.0M72.7 119.2l4.0 4.0M72.7 123.2l4.0 -4.0M73.3 119.6l4.0 4.0M73.3 123.6l4.0 -4.0M76.5 119.7l4.0 4.0M76.5 123.7l4.0 -4.0M77.0 119.1l4.0 4.0M77.0 123.1l4.0 -4.0M77.9 119.7l4.0 4.0M77.9 123.7l4.0 -4.0M83.9 119.9l4.0 4.0M83.9 123.9l4.0 -4.0M83.5 119.4l4.0 4.0M83.5 123.4l4.0 -4.0M93.0 119.1l4.0 4.0M93.0 123.1l4.0 -4.0M99.3 119.8l4.0 4.0M99.3 123.8l4.0 -4.0M103.5 119.8l4.0 4.0M103.5 123.8l4.0 -4.0M106.7 120.0l4.0 4.0M106.7 124.0l4.0 -4.0M125.9 119.9l4.0 4.0M125.9 123.9l4.0 -4.0M141.2 119.5l4.0 4.0M141.2 123.5l4.0 -4.0M35.7 120.3l4.0 4.0M35.7 124.3l4.0 -4.0M36.6 120.5l4.0 4.0M36.6 124.5l4.0 -4.0M36.7 120.4l4.0 4.0M36.7 124.4l4.0 -4.0M37.4 120.3l4.0 4.0M37.4 124.3l4.0 -4.0M39.1 120.4l4.0 4.0M39.1 124.4l4.0 -4.0M41.1 120.1l4.0 4.0M41.1 124.1l4.0 -4.0M43.2 120.8l4.0 4.0M43.2 124.8l4.0 -4.0M44.3 121.0l4.0 4.0M44.3 125.0l4.0 -4.0M47.0 120.9l4.0 4.0M47.0 124.9l4.0 -4.0M47.9 120.9l4.0 4.0M47.9 124.9l4.0 -4.0M52.4 120.6l4.0 4.0M52.4 124.6l4.0 -4.0M59.6 121.0l4.0 4.0M59.6 125.0l4.0 -4.0M59.4 120.0l4.0 4.0M59.4 124.0l4.0 -4.0M59.3 120.4l4.0 4.0M59.3 124.4l4.0 -4.0M61.9 120.9l4.0 4.0M61.9 124.9l4.0 -4.0M63.0 120.9l4.0 4.0M63.0 124.9l4.0 -4.0M67.1 120.6l4.0 4.0M67.1 124.6l4.0 -4.0M75.0 120.1l4.0 4.0M75.0 124.1l4.0 -4.0M75.7 120.3l4.0 4.0M75.7 124.3l4.0 -4.0M79.1 120.3l4.0 4.0M79.1 124.3l4.0 -4.0M88.6 120.2l4.0 4.0M88.6 124.2l4.0 -4.0M91.6 120.2l4.0 4.0M91.6 124.2l4.0 -4.0M91.3 120.1l4.0 4.0M91.3 124.1l4.0 -4.0M91.4 120.2l4.0 4.0M91.4 124.2l4.0 -4.0M95.5 120.8l4.0 4.0M95.5 124.8l4.0 -4.0M100.0 120.9l4.0 4.0M100.0 124.9l4.0 -4.0M99.5 120.1l4.0 4.0M99.5 124.1l4.0 -4.0M100.2 120.2l4.0 4.0M100.2 124.2l4.0 -4.0M107.2 120.2l4.0 4.0M107.2 124.2l4.0 -4.0M107.6 120.0l4.0 4.0M107.6 124.0l4.0 -4.0M108.4 120.3l4.0 4.0M108.4 124.3l4.0 -4.0M126.7 120.8l4.0 4.0M126.7 124.8l4.0 -4.0M35.8 121.8l4.0 4.0M35.8 125.8l4.0 -4.0M41.9 121.6l4.0 4.0M41.9 125.6l4.0 -4.0M50.0 121.3l4.0 4.0M50.0 125.3l4.0 -4.0M52.2 122.0l4.0 4.0M52.2 126.0l4.0 -4.0M55.2 121.7l4.0 4.0M55.2 125.7l4.0 -4.0M57.3 121.6l4.0 4.0M57.3 125.6l4.0 -4.0M71.6 121.8l4.0 4.0M71.6 125.8l4.0 -4.0M78.5 121.3l4.0 4.0M78.5 125.3l4.0 -4.0M78.7 121.1l4.0 4.0M78.7 125.1l4.0 -4.0M81.0 121.1l4.0 4.0M81.0 125.1l4.0 -4.0M87.9 121.6l4.0 4.0M87.9 125.6l4.0 -4.0M101.0 121.7l4.0 4.0M101.0 125.7l4.0 -4.0M122.7 121.6l4.0 4.0M122.7 125.6l4.0 -4.0M148.0 121.6l4.0 4.0M148.0 125.6l4.0 -4.0M147.7 121.3l4.0 4.0M147.7 125.3l4.0 -4.0M31.5 122.7l4.0 4.0M31.5 126.7l4.0 -4.0M35.6 122.1l4.0 4.0M35.6 126.1l4.0 -4.0M35.7 122.4l4.0 4.0M35.7 126.4l4.0 -4.0M42.6 122.8l4.0 4.0M42.6 126.8l4.0 -4.0M44.4 122.1l4.0 4.0M44.4 126.1l4.0 -4.0M47.8 122.7l4.0 4.0M47.8 126.7l4.0 -4.0M48.5 122.1l4.0 4.0M48.5 126.1l4.0 -4.0M51.8 122.7l4.0 4.0M51.8 126.7l4.0 -4.0M56.4 122.9l4.0 4.0M56.4 126.9l4.0 -4.0M59.9 122.5l4.0 4.0M59.9 126.5l4.0 -4.0M64.4 122.1l4.0 4.0M64.4 126.1l4.0 -4.0M65.1 122.6l4.0 4.0M65.1 126.6l4.0 -4.0M69.6 122.9l4.0 4.0M69.6 126.9l4.0 -4.0M70.9 122.9l4.0 4.0M70.9 126.9l4.0 -4.0M73.4 122.3l4.0 4.0M73.4 126.3l4.0 -4.0M75.3 122.9l4.0 4.0M75.3 126.9l4.0 -4.0M84.4 122.5l4.0 4.0M84.4 126.5l4.0 -4.0M108.0 122.1l4.0 4.0M108.0 126.1l4.0 -4.0M122.6 122.5l4.0 4.0M122.6 126.5l4.0 -4.0M123.7 122.4l4.0 4.0M123.7 126.4l4.0 -4.0M130.4 122.2l4.0 4.0M130.4 126.2l4.0 -4.0M144.0 122.4l4.0 4.0M144.0 126.4l4.0 -4.0M144.6 122.2l4.0 4.0M144.6 126.2l4.0 -4.0M31.6 123.7l4.0 4.0M31.6 127.7l4.0 -4.0M38.0 123.8l4.0 4.0M38.0 127.8l4.0 -4.0M39.4 123.3l4.0 4.0M39.4 127.3l4.0 -4.0M42.7 123.2l4.0 4.0M42.7 127.2l4.0 -4.0M43.1 123.3l4.0 4.0M43.1 127.3l4.0 -4.0M50.8 123.4l4.0 4.0M50.8 127.4l4.0 -4.0M62.2 123.6l4.0 4.0M62.2 127.6l4.0 -4.0M69.6 123.5l4.0 4.0M69.6 127.5l4.0 -4.0M71.2 123.5l4.0 4.0M71.2 127.5l4.0 -4.0M71.6 123.1l4.0 4.0M71.6 127.1l4.0 -4.0M75.0 123.7l4.0 4.0M75.0 127.7l4.0 -4.0M79.9 123.3l4.0 4.0M79.9 127.3l4.0 -4.0M81.6 123.6l4.0 4.0M81.6 127.6l4.0 -4.0M84.8 123.6l4.0 4.0M84.8 127.6l4.0 -4.0M85.7 123.9l4.0 4.0M85.7 127.9l4.0 -4.0M88.0 123.2l4.0 4.0M88.0 127.2l4.0 -4.0M87.9 123.6l4.0 4.0M87.9 127.6l4.0 -4.0M91.4 123.7l4.0 4.0M91.4 127.7l4.0 -4.0M113.5 123.9l4.0 4.0M113.5 127.9l4.0 -4.0M35.3 124.3l4.0 4.0M35.3 128.3l4.0 -4.0M36.7 124.2l4.0 4.0M36.7 128.2l4.0 -4.0M37.3 124.7l4.0 4.0M37.3 128.7l4.0 -4.0M43.9 124.2l4.0 4.0M43.9 128.2l4.0 -4.0M44.7 124.0l4.0 4.0M44.7 128.0l4.0 -4.0M49.0 124.5l4.0 4.0M49.0 128.5l4.0 -4.0M51.3 124.9l4.0 4.0M51.3 128.9l4.0 -4.0M63.0 124.7l4.0 4.0M63.0 128.7l4.0 -4.0M63.2 124.1l4.0 4.0M63.2 128.1l4.0 -4.0M82.8 124.8l4.0 4.0M82.8 128.8l4.0 -4.0M85.8 124.8l4.0 4.0M85.8 128.8l4.0 -4.0M85.6 124.3l4.0 4.0M85.6 128.3l4.0 -4.0M89.0 125.0l4.0 4.0M89.0 129.0l4.0 -4.0M97.7 124.2l4.0 4.0M97.7 128.2l4.0 -4.0M102.3 124.5l4.0 4.0M102.3 128.5l4.0 -4.0M110.2 124.7l4.0 4.0M110.2 128.7l4.0 -4.0M114.9 124.8l4.0 4.0M114.9 128.8l4.0 -4.0M118.3 124.4l4.0 4.0M118.3 128.4l4.0 -4.0M125.6 124.4l4.0 4.0M125.6 128.4l4.0 -4.0M34.0 125.8l4.0 4.0M34.0 129.8l4.0 -4.0M36.0 125.9l4.0 4.0M36.0 129.9l4.0 -4.0M38.3 125.2l4.0 4.0M38.3 129.2l4.0 -4.0M42.1 125.7l4.0 4.0M42.1 129.7l4.0 -4.0M45.3 125.8l4.0 4.0M45.3 129.8l4.0 -4.0M49.6 125.7l4.0 4.0M49.6 129.7l4.0 -4.0M54.2 125.8l4.0 4.0M54.2 129.8l4.0 -4.0M60.1 125.7l4.0 4.0M60.1 129.7l4.0 -4.0M62.4 125.8l4.0 4.0M62.4 129.8l4.0 -4.0M71.6 125.9l4.0 4.0M71.6 129.9l4.0 -4.0M77.3 125.9l4.0 4.0M77.3 129.9l4.0 -4.0M78.9 125.5l4.0 4.0M78.9 129.5l4.0 -4.0M80.7 126.0l4.0 4.0M80.7 130.0l4.0 -4.0M81.7 125.9l4.0 4.0M81.7 129.9l4.0 -4.0M85.1 125.6l4.0 4.0M85.1 129.6l4.0 -4.0M86.8 125.9l4.0 4.0M86.8 129.9l4.0 -4.0M87.3 125.7l4.0 4.0M87.3 129.7l4.0 -4.0M88.0 125.5l4.0 4.0M88.0 129.5l4.0 -4.0M88.4 125.5l4.0 4.0M88.4 129.5l4.0 -4.0M94.8 125.0l4.0 4.0M94.8 129.0l4.0 -4.0M94.2 125.3l4.0 4.0M94.2 129.3l4.0 -4.0M98.0 125.2l4.0 4.0M98.0 129.2l4.0 -4.0M46.8 126.7l4.0 4.0M46.8 130.7l4.0 -4.0M50.5 126.1l4.0 4.0M50.5 130.1l4.0 -4.0M53.4 126.5l4.0 4.0M53.4 130.5l4.0 -4.0M55.6 126.5l4.0 4.0M55.6 130.5l4.0 -4.0M59.0 126.5l4.0 4.0M59.0 130.5l4.0 -4.0M67.3 126.2l4.0 4.0M67.3 130.2l4.0 -4.0M78.9 126.2l4.0 4.0M78.9 130.2l4.0 -4.0M82.1 126.8l4.0 4.0M82.1 130.8l4.0 -4.0M88.6 126.2l4.0 4.0M88.6 130.2l4.0 -4.0M94.9 126.7l4.0 4.0M94.9 130.7l4.0 -4.0M96.0 127.0l4.0 4.0M96.0 131.0l4.0 -4.0M110.9 126.9l4.0 4.0M110.9 130.9l4.0 -4.0M31.5 127.7l4.0 4.0M31.5 131.7l4.0 -4.0M42.0 127.3l4.0 4.0M42.0 131.3l4.0 -4.0M47.2 127.8l4.0 4.0M47.2 131.8l4.0 -4.0M51.0 127.1l4.0 4.0M51.0 131.1l4.0 -4.0M62.1 127.7l4.0 4.0M62.1 131.7l4.0 -4.0M75.4 127.1l4.0 4.0M75.4 131.1l4.0 -4.0M84.1 127.1l4.0 4.0M84.1 131.1l4.0 -4.0M117.8 127.9l4.0 4.0M117.8 131.9l4.0 -4.0M118.5 127.6l4.0 4.0M118.5 131.6l4.0 -4.0M118.5 127.1l4.0 4.0M118.5 131.1l4.0 -4.0M31.7 128.3l4.0 4.0M31.7 132.3l4.0 -4.0M34.3 128.7l4.0 4.0M34.3 132.7l4.0 -4.0M35.6 128.9l4.0 4.0M35.6 132.9l4.0 -4.0M40.9 128.9l4.0 4.0M40.9 132.9l4.0 -4.0M40.2 128.9l4.0 4.0M40.2 132.9l4.0 -4.0M42.4 128.4l4.0 4.0M42.4 132.4l4.0 -4.0M48.7 128.1l4.0 4.0M48.7 132.1l4.0 -4.0M57.8 128.3l4.0 4.0M57.8 132.3l4.0 -4.0M69.0 129.0l4.0 4.0M69.0 133.0l4.0 -4.0M70.2 129.0l4.0 4.0M70.2 133.0l4.0 -4.0M79.2 128.7l4.0 4.0M79.2 132.7l4.0 -4.0M103.6 128.6l4.0 4.0M103.6 132.6l4.0 -4.0M123.7 128.0l4.0 4.0M123.7 132.0l4.0 -4.0M35.5 129.2l4.0 4.0M35.5 133.2l4.0 -4.0M39.8 129.6l4.0 4.0M39.8 133.6l4.0 -4.0M47.4 129.5l4.0 4.0M47.4 133.5l4.0 -4.0M55.1 129.3l4.0 4.0M55.1 133.3l4.0 -4.0M55.3 129.4l4.0 4.0M55.3 133.4l4.0 -4.0M58.5 129.4l4.0 4.0M58.5 133.4l4.0 -4.0M58.3 129.4l4.0 4.0M58.3 133.4l4.0 -4.0M62.0 129.9l4.0 4.0M62.0 133.9l4.0 -4.0M62.4 129.7l4.0 4.0M62.4 133.7l4.0 -4.0M62.2 129.8l4.0 4.0M62.2 133.8l4.0 -4.0M64.6 129.2l4.0 4.0M64.6 133.2l4.0 -4.0M76.2 129.3l4.0 4.0M76.2 133.3l4.0 -4.0M79.6 129.1l4.0 4.0M79.6 133.1l4.0 -4.0M91.0 129.1l4.0 4.0M91.0 133.1l4.0 -4.0M99.6 129.2l4.0 4.0M99.6 133.2l4.0 -4.0M34.7 130.3l4.0 4.0M34.7 134.3l4.0 -4.0M35.3 130.6l4.0 4.0M35.3 134.6l4.0 -4.0M36.4 130.0l4.0 4.0M36.4 134.0l4.0 -4.0M48.7 130.3l4.0 4.0M48.7 134.3l4.0 -4.0M48.2 130.4l4.0 4.0M48.2 134.4l4.0 -4.0M48.7 130.3l4.0 4.0M48.7 134.3l4.0 -4.0M49.6 130.9l4.0 4.0M49.6 134.9l4.0 -4.0M50.5 130.9l4.0 4.0M50.5 134.9l4.0 -4.0M58.0 130.8l4.0 4.0M58.0 134.8l4.0 -4.0M65.2 130.9l4.0 4.0M65.2 134.9l4.0 -4.0M77.2 130.8l4.0 4.0M77.2 134.8l4.0 -4.0M81.6 130.0l4.0 4.0M81.6 134.0l4.0 -4.0M86.0 130.3l4.0 4.0M86.0 134.3l4.0 -4.0M85.0 130.9l4.0 4.0M85.0 134.9l4.0 -4.0M87.3 130.7l4.0 4.0M87.3 134.7l4.0 -4.0M96.7 130.6l4.0 4.0M96.7 134.6l4.0 -4.0M35.9 131.2l4.0 4.0M35.9 135.2l4.0 -4.0M47.8 131.2l4.0 4.0M47.8 135.2l4.0 -4.0M48.3 131.4l4.0 4.0M48.3 135.4l4.0 -4.0M50.5 131.2l4.0 4.0M50.5 135.2l4.0 -4.0M51.3 131.6l4.0 4.0M51.3 135.6l4.0 -4.0M53.4 131.1l4.0 4.0M53.4 135.1l4.0 -4.0M79.0 131.2l4.0 4.0M79.0 135.2l4.0 -4.0M80.5 131.7l4.0 4.0M80.5 135.7l4.0 -4.0M91.8 131.6l4.0 4.0M91.8 135.6l4.0 -4.0M105.4 131.5l4.0 4.0M105.4 135.5l4.0 -4.0M109.3 131.4l4.0 4.0M109.3 135.4l4.0 -4.0M37.8 132.4l4.0 4.0M37.8 136.4l4.0 -4.0M44.5 132.9l4.0 4.0M44.5 136.9l4.0 -4.0M46.0 132.3l4.0 4.0M46.0 136.3l4.0 -4.0M48.5 132.2l4.0 4.0M48.5 136.2l4.0 -4.0M66.2 132.4l4.0 4.0M66.2 136.4l4.0 -4.0M71.3 132.5l4.0 4.0M71.3 136.5l4.0 -4.0M81.4 132.3l4.0 4.0M81.4 136.3l4.0 -4.0M85.3 132.3l4.0 4.0M85.3 136.3l4.0 -4.0M88.0 132.3l4.0 4.0M88.0 136.3l4.0 -4.0M91.5 132.3l4.0 4.0M91.5 136.3l4.0 -4.0M97.1 132.8l4.0 4.0M97.1 136.8l4.0 -4.0M101.7 133.0l4.0 4.0M101.7 137.0l4.0 -4.0M114.1 132.3l4.0 4.0M114.1 136.3l4.0 -4.0M37.6 133.2l4.0 4.0M37.6 137.2l4.0 -4.0M44.3 133.8l4.0 4.0M44.3 137.8l4.0 -4.0M58.0 133.0l4.0 4.0M58.0 137.0l4.0 -4.0M63.5 133.9l4.0 4.0M63.5 137.9l4.0 -4.0M63.1 133.4l4.0 4.0M63.1 137.4l4.0 -4.0M65.4 133.8l4.0 4.0M65.4 137.8l4.0 -4.0M67.5 133.1l4.0 4.0M67.5 137.1l4.0 -4.0M78.1 133.0l4.0 4.0M78.1 137.0l4.0 -4.0M91.5 134.0l4.0 4.0M91.5 138.0l4.0 -4.0M98.8 133.6l4.0 4.0M98.8 137.6l4.0 -4.0M107.5 133.2l4.0 4.0M107.5 137.2l4.0 -4.0M37.8 134.3l4.0 4.0M37.8 138.3l4.0 -4.0M38.0 134.3l4.0 4.0M38.0 138.3l4.0 -4.0M52.4 134.6l4.0 4.0M52.4 138.6l4.0 -4.0M56.4 134.3l4.0 4.0M56.4 138.3l4.0 -4.0M78.4 134.6l4.0 4.0M78.4 138.6l4.0 -4.0M87.0 134.4l4.0 4.0M87.0 138.4l4.0 -4.0M89.0 134.5l4.0 4.0M89.0 138.5l4.0 -4.0M90.9 134.7l4.0 4.0M90.9 138.7l4.0 -4.0M96.9 134.6l4.0 4.0M96.9 138.6l4.0 -4.0M32.4 135.4l4.0 4.0M32.4 139.4l4.0 -4.0M39.2 135.5l4.0 4.0M39.2 139.5l4.0 -4.0M39.4 135.7l4.0 4.0M39.4 139.7l4.0 -4.0M42.0 135.9l4.0 4.0M42.0 139.9l4.0 -4.0M52.2 135.9l4.0 4.0M52.2 139.9l4.0 -4.0M55.9 135.9l4.0 4.0M55.9 139.9l4.0 -4.0M80.7 135.6l4.0 4.0M80.7 139.6l4.0 -4.0M88.4 135.3l4.0 4.0M88.4 139.3l4.0 -4.0M93.2 135.1l4.0 4.0M93.2 139.1l4.0 -4.0M102.4 135.2l4.0 4.0M102.4 139.2l4.0 -4.0M105.8 135.8l4.0 4.0M105.8 139.8l4.0 -4.0M131.0 135.1l4.0 4.0M131.0 139.1l4.0 -4.0M47.3 136.1l4.0 4.0M47.3 140.1l4.0 -4.0M56.9 136.9l4.0 4.0M56.9 140.9l4.0 -4.0M65.0 136.3l4.0 4.0M65.0 140.3l4.0 -4.0M67.0 136.3l4.0 4.0M67.0 140.3l4.0 -4.0M72.2 136.9l4.0 4.0M72.2 140.9l4.0 -4.0M79.1 136.4l4.0 4.0M79.1 140.4l4.0 -4.0M87.5 136.0l4.0 4.0M87.5 140.0l4.0 -4.0M96.8 136.5l4.0 4.0M96.8 140.5l4.0 -4.0M121.7 136.6l4.0 4.0M121.7 140.6l4.0 -4.0M36.1 137.3l4.0 4.0M36.1 141.3l4.0 -4.0M41.6 137.6l4.0 4.0M41.6 141.6l4.0 -4.0M46.9 137.5l4.0 4.0M46.9 141.5l4.0 -4.0M50.0 137.5l4.0 4.0M50.0 141.5l4.0 -4.0M70.1 137.0l4.0 4.0M70.1 141.0l4.0 -4.0M73.3 137.5l4.0 4.0M73.3 141.5l4.0 -4.0M76.0 137.2l4.0 4.0M76.0 141.2l4.0 -4.0M76.7 137.4l4.0 4.0M76.7 141.4l4.0 -4.0M81.8 137.5l4.0 4.0M81.8 141.5l4.0 -4.0M81.3 137.2l4.0 4.0M81.3 141.2l4.0 -4.0M86.3 137.1l4.0 4.0M86.3 141.1l4.0 -4.0M102.6 137.1l4.0 4.0M102.6 141.1l4.0 -4.0M34.8 138.7l4.0 4.0M34.8 142.7l4.0 -4.0M35.1 138.7l4.0 4.0M35.1 142.7l4.0 -4.0M35.3 138.8l4.0 4.0M35.3 142.8l4.0 -4.0M41.9 138.8l4.0 4.0M41.9 142.8l4.0 -4.0M42.9 139.0l4.0 4.0M42.9 143.0l4.0 -4.0M45.6 138.2l4.0 4.0M45.6 142.2l4.0 -4.0M54.6 138.1l4.0 4.0M54.6 142.1l4.0 -4.0M59.4 138.1l4.0 4.0M59.4 142.1l4.0 -4.0M69.1 138.5l4.0 4.0M69.1 142.5l4.0 -4.0M82.1 139.0l4.0 4.0M82.1 143.0l4.0 -4.0M84.1 138.7l4.0 4.0M84.1 142.7l4.0 -4.0M99.5 138.4l4.0 4.0M99.5 142.4l4.0 -4.0M34.8 139.8l4.0 4.0M34.8 143.8l4.0 -4.0M35.9 139.2l4.0 4.0M35.9 143.2l4.0 -4.0M38.4 139.7l4.0 4.0M38.4 143.7l4.0 -4.0M72.6 139.6l4.0 4.0M72.6 143.6l4.0 -4.0M77.3 139.1l4.0 4.0M77.3 143.1l4.0 -4.0M88.2 139.3l4.0 4.0M88.2 143.3l4.0 -4.0M96.4 139.6l4.0 4.0M96.4 143.6l4.0 -4.0M97.2 139.0l4.0 4.0M97.2 143.0l4.0 -4.0M111.6 139.6l4.0 4.0M111.6 143.6l4.0 -4.0M47.4 140.3l4.0 4.0M47.4 144.3l4.0 -4.0M52.3 140.2l4.0 4.0M52.3 144.2l4.0 -4.0M53.3 140.4l4.0 4.0M53.3 144.4l4.0 -4.0M54.4 140.4l4.0 4.0M54.4 144.4l4.0 -4.0M62.0 140.5l4.0 4.0M62.0 144.5l4.0 -4.0M68.5 140.2l4.0 4.0M68.5 144.2l4.0 -4.0M77.2 140.9l4.0 4.0M77.2 144.9l4.0 -4.0M102.8 140.0l4.0 4.0M102.8 144.0l4.0 -4.0M114.4 140.9l4.0 4.0M114.4 144.9l4.0 -4.0M33.6 141.5l4.0 4.0M33.6 145.5l4.0 -4.0M45.4 141.7l4.0 4.0M45.4 145.7l4.0 -4.0M50.0 141.6l4.0 4.0M50.0 145.6l4.0 -4.0M60.8 141.8l4.0 4.0M60.8 145.8l4.0 -4.0M68.9 142.0l4.0 4.0M68.9 146.0l4.0 -4.0M75.5 141.1l4.0 4.0M75.5 145.1l4.0 -4.0M79.9 141.0l4.0 4.0M79.9 145.0l4.0 -4.0M79.8 141.8l4.0 4.0M79.8 145.8l4.0 -4.0M82.7 141.5l4.0 4.0M82.7 145.5l4.0 -4.0M88.8 141.8l4.0 4.0M88.8 145.8l4.0 -4.0M93.3 141.2l4.0 4.0M93.3 145.2l4.0 -4.0M100.7 141.4l4.0 4.0M100.7 145.4l4.0 -4.0M105.7 141.3l4.0 4.0M105.7 145.3l4.0 -4.0M114.2 141.6l4.0 4.0M114.2 145.6l4.0 -4.0M117.7 141.2l4.0 4.0M117.7 145.2l4.0 -4.0M124.3 141.7l4.0 4.0M124.3 145.7l4.0 -4.0M43.2 142.6l4.0 4.0M43.2 146.6l4.0 -4.0M45.3 142.9l4.0 4.0M45.3 146.9l4.0 -4.0M47.0 142.9l4.0 4.0M47.0 146.9l4.0 -4.0M48.0 142.3l4.0 4.0M48.0 146.3l4.0 -4.0M50.8 142.5l4.0 4.0M50.8 146.5l4.0 -4.0M58.8 142.0l4.0 4.0M58.8 146.0l4.0 -4.0M76.0 142.3l4.0 4.0M76.0 146.3l4.0 -4.0M84.8 142.4l4.0 4.0M84.8 146.4l4.0 -4.0M87.5 142.2l4.0 4.0M87.5 146.2l4.0 -4.0M34.7 143.3l4.0 4.0M34.7 147.3l4.0 -4.0M41.0 143.5l4.0 4.0M41.0 147.5l4.0 -4.0M43.7 143.4l4.0 4.0M43.7 147.4l4.0 -4.0M57.4 143.3l4.0 4.0M57.4 147.3l4.0 -4.0M69.1 143.5l4.0 4.0M69.1 147.5l4.0 -4.0M75.3 143.2l4.0 4.0M75.3 147.2l4.0 -4.0M95.1 143.5l4.0 4.0M95.1 147.5l4.0 -4.0M97.0 143.4l4.0 4.0M97.0 147.4l4.0 -4.0M102.8 143.4l4.0 4.0M102.8 147.4l4.0 -4.0M109.1 143.4l4.0 4.0M109.1 147.4l4.0 -4.0M42.4 144.8l4.0 4.0M42.4 148.8l4.0 -4.0M54.6 144.6l4.0 4.0M54.6 148.6l4.0 -4.0M65.6 144.1l4.0 4.0M65.6 148.1l4.0 -4.0M76.1 144.7l4.0 4.0M76.1 148.7l4.0 -4.0M94.1 144.1l4.0 4.0M94.1 148.1l4.0 -4.0M31.5 145.6l4.0 4.0M31.5 149.6l4.0 -4.0M59.2 145.2l4.0 4.0M59.2 149.2l4.0 -4.0M59.7 145.2l4.0 4.0M59.7 149.2l4.0 -4.0M60.2 145.6l4.0 4.0M60.2 149.6l4.0 -4.0M80.4 145.9l4.0 4.0M80.4 149.9l4.0 -4.0M84.8 145.8l4.0 4.0M84.8 149.8l4.0 -4.0M93.0 145.4l4.0 4.0M93.0 149.4l4.0 -4.0M120.1 145.9l4.0 4.0M120.1 149.9l4.0 -4.0M31.2 146.8l4.0 4.0M31.2 150.8l4.0 -4.0M35.0 146.7l4.0 4.0M35.0 150.7l4.0 -4.0M38.2 146.3l4.0 4.0M38.2 150.3l4.0 -4.0M40.8 146.2l4.0 4.0M40.8 150.2l4.0 -4.0M40.8 146.9l4.0 4.0M40.8 150.9l4.0 -4.0M82.1 146.3l4.0 4.0M82.1 150.3l4.0 -4.0M92.5 146.2l4.0 4.0M92.5 150.2l4.0 -4.0M102.8 146.6l4.0 4.0M102.8 150.6l4.0 -4.0M108.1 146.8l4.0 4.0M108.1 150.8l4.0 -4.0M35.2 147.2l4.0 4.0M35.2 151.2l4.0 -4.0M38.0 147.1l4.0 4.0M38.0 151.1l4.0 -4.0M46.5 147.9l4.0 4.0M46.5 151.9l4.0 -4.0M47.5 147.1l4.0 4.0M47.5 151.1l4.0 -4.0M85.1 147.4l4.0 4.0M85.1 151.4l4.0 -4.0M92.5 147.1l4.0 4.0M92.5 151.1l4.0 -4.0M100.8 147.6l4.0 4.0M100.8 151.6l4.0 -4.0M100.3 147.2l4.0 4.0M100.3 151.2l4.0 -4.0M122.6 147.2l4.0 4.0M122.6 151.2l4.0 -4.0M47.5 148.7l4.0 4.0M47.5 152.7l4.0 -4.0M64.9 148.4l4.0 4.0M64.9 152.4l4.0 -4.0M69.9 148.2l4.0 4.0M69.9 152.2l4.0 -4.0M77.0 148.1l4.0 4.0M77.0 152.1l4.0 -4.0M87.4 148.5l4.0 4.0M87.4 152.5l4.0 -4.0M87.4 149.0l4.0 4.0M87.4 153.0l4.0 -4.0M89.6 148.2l4.0 4.0M89.6 152.2l4.0 -4.0M120.7 149.0l4.0 4.0M120.7 153.0l4.0 -4.0M121.6 148.1l4.0 4.0M121.6 152.1l4.0 -4.0M58.8 149.3l4.0 4.0M58.8 153.3l4.0 -4.0M68.1 149.2l4.0 4.0M68.1 153.2l4.0 -4.0M76.4 149.5l4.0 4.0M76.4 153.5l4.0 -4.0M92.1 150.0l4.0 4.0M92.1 154.0l4.0 -4.0M103.4 149.4l4.0 4.0M103.4 153.4l4.0 -4.0M114.8 149.6l4.0 4.0M114.8 153.6l4.0 -4.0M120.9 149.7l4.0 4.0M120.9 153.7l4.0 -4.0M122.6 150.0l4.0 4.0M122.6 154.0l4.0 -4.0M39.0 150.9l4.0 4.0M39.0 154.9l4.0 -4.0M39.0 150.5l4.0 4.0M39.0 154.5l4.0 -4.0M50.1 150.5l4.0 4.0M50.1 154.5l4.0 -4.0M58.7 150.3l4.0 4.0M58.7 154.3l4.0 -4.0M88.2 150.8l4.0 4.0M88.2 154.8l4.0 -4.0M45.9 151.1l4.0 4.0M45.9 155.1l4.0 -4.0M76.8 151.7l4.0 4.0M76.8 155.7l4.0 -4.0M83.4 152.0l4.0 4.0M83.4 156.0l4.0 -4.0M94.2 151.8l4.0 4.0M94.2 155.8l4.0 -4.0M96.7 151.7l4.0 4.0M96.7 155.7l4.0 -4.0M121.3 151.6l4.0 4.0M121.3 155.6l4.0 -4.0M49.8 152.9l4.0 4.0M49.8 156.9l4.0 -4.0M55.8 152.8l4.0 4.0M55.8 156.8l4.0 -4.0M67.7 153.0l4.0 4.0M67.7 157.0l4.0 -4.0M67.2 152.8l4.0 4.0M67.2 156.8l4.0 -4.0M69.9 152.4l4.0 4.0M69.9 156.4l4.0 -4.0M74.7 152.9l4.0 4.0M74.7 156.9l4.0 -4.0M76.4 152.5l4.0 4.0M76.4 156.5l4.0 -4.0M81.9 152.2l4.0 4.0M81.9 156.2l4.0 -4.0M31.3 153.2l4.0 4.0M31.3 157.2l4.0 -4.0M33.6 153.0l4.0 4.0M33.6 157.0l4.0 -4.0M46.1 153.1l4.0 4.0M46.1 157.1l4.0 -4.0M48.8 153.3l4.0 4.0M48.8 157.3l4.0 -4.0M48.1 153.2l4.0 4.0M48.1 157.2l4.0 -4.0M59.4 153.1l4.0 4.0M59.4 157.1l4.0 -4.0M63.0 153.7l4.0 4.0M63.0 157.7l4.0 -4.0M78.4 153.1l4.0 4.0M78.4 157.1l4.0 -4.0M83.2 153.7l4.0 4.0M83.2 157.7l4.0 -4.0M36.8 154.1l4.0 4.0M36.8 158.1l4.0 -4.0M39.9 154.0l4.0 4.0M39.9 158.0l4.0 -4.0M41.8 154.3l4.0 4.0M41.8 158.3l4.0 -4.0M44.7 154.6l4.0 4.0M44.7 158.6l4.0 -4.0M54.7 154.1l4.0 4.0M54.7 158.1l4.0 -4.0M67.6 154.3l4.0 4.0M67.6 158.3l4.0 -4.0M96.7 154.5l4.0 4.0M96.7 158.5l4.0 -4.0M107.2 154.1l4.0 4.0M107.2 158.1l4.0 -4.0M39.1 155.5l4.0 4.0M39.1 159.5l4.0 -4.0M42.3 155.4l4.0 4.0M42.3 159.4l4.0 -4.0M50.1 155.1l4.0 4.0M50.1 159.1l4.0 -4.0M67.4 155.4l4.0 4.0M67.4 159.4l4.0 -4.0M68.0 155.8l4.0 4.0M68.0 159.8l4.0 -4.0M72.3 155.2l4.0 4.0M72.3 159.2l4.0 -4.0M77.4 155.5l4.0 4.0M77.4 159.5l4.0 -4.0M105.9 155.2l4.0 4.0M105.9 159.2l4.0 -4.0M119.0 155.8l4.0 4.0M119.0 159.8l4.0 -4.0M39.4 156.6l4.0 4.0M39.4 160.6l4.0 -4.0M54.5 157.0l4.0 4.0M54.5 161.0l4.0 -4.0M61.3 156.6l4.0 4.0M61.3 160.6l4.0 -4.0M63.6 156.1l4.0 4.0M63.6 160.1l4.0 -4.0M63.2 156.1l4.0 4.0M63.2 160.1l4.0 -4.0M65.7 156.6l4.0 4.0M65.7 160.6l4.0 -4.0M71.5 156.9l4.0 4.0M71.5 160.9l4.0 -4.0M74.2 156.0l4.0 4.0M74.2 160.0l4.0 -4.0M74.2 156.2l4.0 4.0M74.2 160.2l4.0 -4.0M79.5 156.0l4.0 4.0M79.5 160.0l4.0 -4.0M84.0 156.4l4.0 4.0M84.0 160.4l4.0 -4.0M115.3 156.8l4.0 4.0M115.3 160.8l4.0 -4.0M93.6 157.3l4.0 4.0M93.6 161.3l4.0 -4.0M38.1 158.3l4.0 4.0M38.1 162.3l4.0 -4.0M59.5 158.3l4.0 4.0M59.5 162.3l4.0 -4.0M84.3 158.4l4.0 4.0M84.3 162.4l4.0 -4.0M57.8 159.7l4.0 4.0M57.8 163.7l4.0 -4.0M73.6 159.4l4.0 4.0M73.6 163.4l4.0 -4.0M78.9 159.1l4.0 4.0M78.9 163.1l4.0 -4.0M85.2 159.1l4.0 4.0M85.2 163.1l4.0 -4.0M47.4 160.7l4.0 4.0M47.4 164.7l4.0 -4.0M36.9 161.4l4.0 4.0M36.9 165.4l4.0 -4.0M61.9 161.7l4.0 4.0M61.9 165.7l4.0 -4.0M61.1 161.8l4.0 4.0M61.1 165.8l4.0 -4.0M79.7 161.3l4.0 4.0M79.7 165.3l4.0 -4.0M47.5 162.9l4.0 4.0M47.5 166.9l4.0 -4.0M57.6 162.1l4.0 4.0M57.6 166.1l4.0 -4.0M80.0 162.6l4.0 4.0M80.0 166.6l4.0 -4.0M80.6 162.9l4.0 4.0M80.6 166.9l4.0 -4.0M82.3 162.9l4.0 4.0M82.3 166.9l4.0 -4.0M85.3 162.8l4.0 4.0M85.3 166.8l4.0 -4.0M90.0 162.9l4.0 4.0M90.0 166.9l4.0 -4.0M35.6 163.7l4.0 4.0M35.6 167.7l4.0 -4.0M35.7 163.3l4.0 4.0M35.7 167.3l4.0 -4.0M40.3 164.0l4.0 4.0M40.3 168.0l4.0 -4.0M49.8 163.1l4.0 4.0M49.8 167.1l4.0 -4.0M54.0 164.0l4.0 4.0M54.0 168.0l4.0 -4.0M56.0 163.5l4.0 4.0M56.0 167.5l4.0 -4.0M63.7 163.4l4.0 4.0M63.7 167.4l4.0 -4.0M68.5 163.2l4.0 4.0M68.5 167.2l4.0 -4.0M72.9 164.0l4.0 4.0M72.9 168.0l4.0 -4.0M76.3 163.8l4.0 4.0M76.3 167.8l4.0 -4.0M86.3 163.1l4.0 4.0M86.3 167.1l4.0 -4.0M38.7 164.2l4.0 4.0M38.7 168.2l4.0 -4.0M53.3 164.4l4.0 4.0M53.3 168.4l4.0 -4.0M74.2 164.5l4.0 4.0M74.2 168.5l4.0 -4.0M77.7 164.1l4.0 4.0M77.7 168.1l4.0 -4.0M33.2 165.5l4.0 4.0M33.2 169.5l4.0 -4.0M40.4 165.6l4.0 4.0M40.4 169.6l4.0 -4.0M44.7 165.6l4.0 4.0M44.7 169.6l4.0 -4.0M60.7 165.4l4.0 4.0M60.7 169.4l4.0 -4.0M41.9 166.7l4.0 4.0M41.9 170.7l4.0 -4.0M49.6 166.4l4.0 4.0M49.6 170.4l4.0 -4.0M67.0 166.6l4.0 4.0M67.0 170.6l4.0 -4.0M72.4 166.8l4.0 4.0M72.4 170.8l4.0 -4.0M72.8 166.1l4.0 4.0M72.8 170.1l4.0 -4.0M78.0 166.5l4.0 4.0M78.0 170.5l4.0 -4.0M77.2 166.0l4.0 4.0M77.2 170.0l4.0 -4.0M36.6 167.3l4.0 4.0M36.6 171.3l4.0 -4.0M50.4 167.1l4.0 4.0M50.4 171.1l4.0 -4.0M56.8 167.6l4.0 4.0M56.8 171.6l4.0 -4.0M58.9 167.1l4.0 4.0M58.9 171.1l4.0 -4.0M35.6 168.2l4.0 4.0M35.6 172.2l4.0 -4.0M40.4 168.2l4.0 4.0M40.4 172.2l4.0 -4.0M55.8 168.4l4.0 4.0M55.8 172.4l4.0 -4.0M85.0 168.4l4.0 4.0M85.0 172.4l4.0 -4.0M72.8 169.1l4.0 4.0M72.8 173.1l4.0 -4.0M76.0 169.5l4.0 4.0M76.0 173.5l4.0 -4.0M84.1 169.9l4.0 4.0M84.1 173.9l4.0 -4.0M48.3 170.0l4.0 4.0M48.3 174.0l4.0 -4.0M61.6 170.0l4.0 4.0M61.6 174.0l4.0 -4.0M70.7 170.7l4.0 4.0M70.7 174.7l4.0 -4.0M56.7 171.8l4.0 4.0M56.7 175.8l4.0 -4.0M74.1 171.9l4.0 4.0M74.1 175.9l4.0 -4.0M67.3 172.7l4.0 4.0M67.3 176.7l4.0 -4.0M34.4 173.5l4.0 4.0M34.4 177.5l4.0 -4.0M38.4 173.9l4.0 4.0M38.4 177.9l4.0 -4.0M56.6 173.9l4.0 4.0M56.6 177.9l4.0 -4.0M69.0 173.5l4.0 4.0M69.0 177.5l4.0 -4.0M63.3 174.7l4.0 4.0M63.3 178.7l4.0 -4.0M64.3 174.8l4.0 4.0M64.3 178.8l4.0 -4.0M84.3 174.4l4.0 4.0M84.3 178.4l4.0 -4.0M59.2 175.9l4.0 4.0M59.2 179.9l4.0 -4.0M68.8 175.5l4.0 4.0M68.8 179.5l4.0 -4.0M71.6 175.6l4.0 4.0M71.6 179.6l4.0 -4.0M38.4 176.4l4.0 4.0M38.4 180.4l4.0 -4.0M52.1 176.8l4.0 4.0M52.1 180.8l4.0 -4.0M73.4 176.3l4.0 4.0M73.4 180.3l4.0 -4.0M36.5 177.2l4.0 4.0M36.5 181.2l4.0 -4.0M35.0 178.3l4.0 4.0M35.0 182.3l4.0 -4.0M39.6 178.5l4.0 4.0M39.6 182.5l4.0 -4.0M35.5 179.2l4.0 4.0M35.5 183.2l4.0 -4.0M83.5 179.1l4.0 4.0M83.5 183.1l4.0 -4.0M55.0 180.8l4.0 4.0M55.0 184.8l4.0 -4.0M58.6 180.1l4.0 4.0M58.6 184.1l4.0 -4.0M63.4 180.5l4.0 4.0M63.4 184.5l4.0 -4.0M69.8 180.2l4.0 4.0M69.8 184.2l4.0 -4.0M70.4 180.5l4.0 4.0M70.4 184.5l4.0 -4.0M83.7 180.0l4.0 4.0M83.7 184.0l4.0 -4.0M68.4 181.8l4.0 4.0M68.4 185.8l4.0 -4.0M47.7 182.4l4.0 4.0M47.7 186.4l4.0 -4.0M57.5 182.6l4.0 4.0M57.5 186.6l4.0 -4.0M58.9 182.3l4.0 4.0M58.9 186.3l4.0 -4.0M60.9 182.1l4.0 4.0M60.9 186.1l4.0 -4.0M78.6 182.3l4.0 4.0M78.6 186.3l4.0 -4.0M41.5 183.8l4.0 4.0M41.5 187.8l4.0 -4.0M43.1 183.8l4.0 4.0M43.1 187.8l4.0 -4.0M55.8 184.0l4.0 4.0M55.8 188.0l4.0 -4.0M78.6 184.0l4.0 4.0M78.6 188.0l4.0 -4.0M81.0 183.7l4.0 4.0M81.0 187.7l4.0 -4.0M87.1 183.4l4.0 4.0M87.1 187.4l4.0 -4.0M34.4 184.9l4.0 4.0M34.4 188.9l4.0 -4.0M43.8 184.7l4.0 4.0M43.8 188.7l4.0 -4.0M33.4 185.2l4.0 4.0M33.4 189.2l4.0 -4.0M41.6 185.1l4.0 4.0M41.6 189.1l4.0 -4.0M81.1 185.3l4.0 4.0M81.1 189.3l4.0 -4.0M33.4 186.4l4.0 4.0M33.4 190.4l4.0 -4.0M51.1 186.1l4.0 4.0M51.1 190.1l4.0 -4.0M85.0 186.1l4.0 4.0M85.0 190.1l4.0 -4.0M35.0 187.6l4.0 4.0M35.0 191.6l4.0 -4.0M50.8 187.1l4.0 4.0M50.8 191.1l4.0 -4.0M85.2 187.4l4.0 4.0M85.2 191.4l4.0 -4.0M61.7 188.5l4.0 4.0M61.7 192.5l4.0 -4.0M84.3 189.7l4.0 4.0M84.3 193.7l4.0 -4.0M38.2 190.7l4.0 4.0M38.2 194.7l4.0 -4.0M44.9 190.9l4.0 4.0M44.9 194.9l4.0 -4.0M69.1 190.1l4.0 4.0M69.1 194.1l4.0 -4.0M41.0 191.4l4.0 4.0M41.0 195.4l4.0 -4.0M65.8 191.7l4.0 4.0M65.8 195.7l4.0 -4.0M44.9 192.4l4.0 4.0M44.9 196.4l4.0 -4.0M66.8 194.4l4.0 4.0M66.8 198.4l4.0 -4.0M38.1 196.2l4.0 4.0M38.1 200.2l4.0 -4.0M63.8 196.7l4.0 4.0M63.8 200.7l4.0 -4.0M78.6 196.2l4.0 4.0M78.6 200.2l4.0 -4.0M79.2 196.8l4.0 4.0M79.2 200.8l4.0 -4.0M33.0 197.7l4.0 4.0M33.0 201.7l4.0 -4.0M35.2 197.2l4.0 4.0M35.2 201.2l4.0 -4.0M40.1 197.3l4.0 4.0M40.1 201.3l4.0 -4.0M54.4 197.6l4.0 4.0M54.4 201.6l4.0 -4.0M63.9 197.3l4.0 4.0M63.9 201.3l4.0 -4.0M72.7 197.6l4.0 4.0M72.7 201.6l4.0 -4.0M72.6 197.5l4.0 4.0M72.6 201.5l4.0 -4.0M34.1 198.0l4.0 4.0M34.1 202.0l4.0 -4.0M35.7 198.4l4.0 4.0M35.7 202.4l4.0 -4.0M40.6 198.4l4.0 4.0M40.6 202.4l4.0 -4.0M46.3 198.9l4.0 4.0M46.3 202.9l4.0 -4.0M68.3 198.7l4.0 4.0M68.3 202.7l4.0 -4.0M48.7 199.3l4.0 4.0M48.7 203.3l4.0 -4.0M56.2 200.0l4.0 4.0M56.2 204.0l4.0 -4.0M80.6 199.1l4.0 4.0M80.6 203.1l4.0 -4.0M45.6 200.4l4.0 4.0M45.6 204.4l4.0 -4.0M73.0 201.5l4.0 4.0M73.0 205.5l4.0 -4.0M31.1 203.0l4.0 4.0M31.1 207.0l4.0 -4.0M34.1 202.8l4.0 4.0M34.1 206.8l4.0 -4.0M47.9 202.1l4.0 4.0M47.9 206.1l4.0 -4.0M51.3 202.8l4.0 4.0M51.3 206.8l4.0 -4.0M64.4 202.6l4.0 4.0M64.4 206.6l4.0 -4.0M68.8 202.4l4.0 4.0M68.8 206.4l4.0 -4.0" stroke="#a0a0a0" stroke-width="0.9" fill="none"/>
<g fill="#0000ff"><circle cx="158.0" cy="38.2" r="2"/><circle cx="169.1" cy="42.0" r="2"/><circle cx="176.2" cy="37.9" r="2"/><circle cx="182.1" cy="30.9" r="2"/><circle cx="181.6" cy="42.9" r="2"/><circle cx="186.0" cy="43.4" r="2"/><circle cx="195.1" cy="32.1" r="2"/><circle cx="194.1" cy="37.1" r="2"/><circle cx="195.9" cy="39.6" r="2"/><circle cx="198.5" cy="38.4" r="2"/><circle cx="200.9" cy="34.8" r="2"/><circle cx="199.8" cy="37.5" r="2"/><circle cx="203.9" cy="42.0" r="2"/><circle cx="206.6" cy="42.9" r="2"/><circle cx="210.1" cy="28.6" r="2"/><circle cx="210.1" cy="36.6" r="2"/><circle cx="211.9" cy="34.8" r="2"/><circle cx="262.6" cy="3.9" r="2"/><circle cx="224.1" cy="20.2" r="2"/><circle cx="246.0" cy="19.3" r="2"/><circle cx="250.1" cy="16.4" r="2"/><circle cx="251.0" cy="19.1" r="2"/><circle cx="246.9" cy="22.7" r="2"/><circle cx="240.3" cy="23.8" r="2"/><circle cx="235.3" cy="27.7" r="2"/><circle cx="239.8" cy="28.2" r="2"/><circle cx="242.1" cy="27.7" r="2"/><circle cx="244.8" cy="29.1" r="2"/><circle cx="254.4" cy="25.4" r="2"/><circle cx="257.6" cy="22.3" r="2"/><circle cx="259.8" cy="23.8" r="2"/><circle cx="260.9" cy="25.4" r="2"/><circle cx="264.4" cy="24.5" r="2"/><circle cx="262.3" cy="21.4" r="2"/><circle cx="272.8" cy="18.8" r="2"/><circle cx="216.9" cy="31.8" r="2"/><circle cx="224.6" cy="31.3" r="2"/><circle cx="226.9" cy="33.9" r="2"/><circle cx="230.9" cy="33.0" r="2"/><circle cx="232.3" cy="34.8" r="2"/><circle cx="213.9" cy="36.6" r="2"/><circle cx="215.1" cy="38.4" r="2"/><circle cx="217.5" cy="37.5" r="2"/><circle cx="219.8" cy="36.6" r="2"/><circle cx="218.4" cy="39.6" r="2"/><circle cx="225.5" cy="37.5" r="2"/><circle cx="226.4" cy="38.9" r="2"/><circle cx="231.8" cy="38.0" r="2"/><circle cx="247.8" cy="35.2" r="2"/><circle cx="251.9" cy="38.0" r="2"/><circle cx="215.7" cy="41.1" r="2"/><circle cx="220.1" cy="42.9" r="2"/><circle cx="233.0" cy="43.8" r="2"/><circle cx="288.7" cy="7.5" r="2"/><circle cx="282.8" cy="13.4" r="2"/><circle cx="284.1" cy="12.5" r="2"/><circle cx="294.4" cy="15.2" r="2"/><circle cx="296.2" cy="20.0" r="2"/><circle cx="41.9" cy="84.6" r="2"/><circle cx="45.5" cy="83.4" r="2"/><circle cx="47.6" cy="82.5" r="2"/><circle cx="53.5" cy="82.9" r="2"/><circle cx="59.4" cy="83.4" r="2"/><circle cx="66.0" cy="75.4" r="2"/><circle cx="67.3" cy="74.5" r="2"/><circle cx="65.1" cy="80.7" r="2"/><circle cx="67.8" cy="80.4" r="2"/><circle cx="68.4" cy="82.1" r="2"/><circle cx="64.2" cy="84.6" r="2"/><circle cx="72.6" cy="88.4" r="2"/><circle cx="78.5" cy="76.6" r="2"/><circle cx="82.6" cy="69.1" r="2"/><circle cx="84.8" cy="70.0" r="2"/><circle cx="85.7" cy="73.6" r="2"/><circle cx="89.2" cy="67.3" r="2"/><circle cx="91.9" cy="70.9" r="2"/><circle cx="58.9" cy="88.8" r="2"/><circle cx="99.2" cy="50.7" r="2"/><circle cx="109.6" cy="55.7" r="2"/><circle cx="100.1" cy="64.3" r="2"/><circle cx="106.9" cy="61.4" r="2"/><circle cx="107.3" cy="62.9" r="2"/><circle cx="113.0" cy="62.0" r="2"/><circle cx="113.5" cy="64.6" r="2"/><circle cx="112.3" cy="68.2" r="2"/><circle cx="110.9" cy="70.0" r="2"/><circle cx="106.4" cy="67.9" r="2"/><circle cx="104.6" cy="70.9" r="2"/><circle cx="105.1" cy="72.7" r="2"/><circle cx="101.0" cy="73.6" r="2"/><circle cx="96.9" cy="73.9" r="2"/><circle cx="96.6" cy="78.9" r="2"/><circle cx="95.7" cy="80.7" r="2"/><circle cx="95.1" cy="82.5" r="2"/><circle cx="109.1" cy="77.5" r="2"/><circle cx="115.3" cy="73.6" r="2"/><circle cx="118.0" cy="73.6" r="2"/><circle cx="116.2" cy="68.2" r="2"/><circle cx="121.6" cy="58.9" r="2"/><circle cx="122.5" cy="62.9" r="2"/><circle cx="123.4" cy="67.9" r="2"/><circle cx="121.6" cy="70.0" r="2"/><circle cx="126.0" cy="64.6" r="2"/><circle cx="126.9" cy="68.2" r="2"/><circle cx="127.8" cy="70.9" r="2"/><circle cx="125.1" cy="73.6" r="2"/><circle cx="128.7" cy="61.1" r="2"/><circle cx="131.4" cy="57.9" r="2"/><circle cx="133.2" cy="55.7" r="2"/><circle cx="134.1" cy="62.0" r="2"/><circle cx="131.9" cy="64.6" r="2"/><circle cx="130.5" cy="67.3" r="2"/><circle cx="133.2" cy="70.0" r="2"/><circle cx="135.9" cy="68.2" r="2"/><circle cx="138.5" cy="68.2" r="2"/><circle cx="140.3" cy="62.9" r="2"/><circle cx="141.2" cy="72.7" r="2"/><circle cx="138.5" cy="73.6" r="2"/><circle cx="131.4" cy="73.2" r="2"/><circle cx="132.3" cy="77.5" r="2"/><circle cx="131.9" cy="81.6" r="2"/><circle cx="123.4" cy="78.6" r="2"/><circle cx="117.1" cy="82.9" r="2"/><circle cx="100.1" cy="87.0" r="2"/><circle cx="142.1" cy="51.2" r="2"/><circle cx="144.8" cy="53.0" r="2"/><circle cx="146.6" cy="54.8" r="2"/><circle cx="143.9" cy="56.6" r="2"/><circle cx="147.5" cy="57.5" r="2"/><circle cx="150.1" cy="53.0" r="2"/><circle cx="151.0" cy="58.4" r="2"/><circle cx="143.0" cy="66.4" r="2"/><circle cx="148.4" cy="61.1" r="2"/><circle cx="152.8" cy="64.6" r="2"/><circle cx="156.6" cy="47.7" r="2"/><circle cx="153.9" cy="52.1" r="2"/><circle cx="155.7" cy="53.9" r="2"/><circle cx="157.5" cy="53.0" r="2"/><circle cx="160.1" cy="52.1" r="2"/><circle cx="159.2" cy="54.8" r="2"/><circle cx="161.9" cy="54.8" r="2"/><circle cx="161.0" cy="49.5" r="2"/><circle cx="164.6" cy="48.6" r="2"/><circle cx="166.4" cy="46.8" r="2"/><circle cx="165.5" cy="51.2" r="2"/><circle cx="168.2" cy="51.2" r="2"/><circle cx="170.0" cy="52.1" r="2"/><circle cx="167.3" cy="55.7" r="2"/><circle cx="164.6" cy="57.5" r="2"/><circle cx="154.8" cy="57.5" r="2"/><circle cx="156.6" cy="59.3" r="2"/><circle cx="160.1" cy="58.4" r="2"/><circle cx="155.7" cy="62.9" r="2"/><circle cx="158.4" cy="62.0" r="2"/><circle cx="165.5" cy="62.0" r="2"/><circle cx="169.1" cy="62.9" r="2"/><circle cx="164.6" cy="66.4" r="2"/><circle cx="170.5" cy="66.8" r="2"/><circle cx="174.4" cy="53.0" r="2"/><circle cx="176.2" cy="47.7" r="2"/><circle cx="178.9" cy="48.6" r="2"/><circle cx="180.7" cy="45.9" r="2"/><circle cx="181.6" cy="49.5" r="2"/><circle cx="179.8" cy="53.0" r="2"/><circle cx="184.2" cy="52.1" r="2"/><circle cx="186.0" cy="46.8" r="2"/><circle cx="187.8" cy="50.4" r="2"/><circle cx="189.6" cy="52.1" r="2"/><circle cx="191.4" cy="50.4" r="2"/><circle cx="193.2" cy="56.6" r="2"/><circle cx="195.0" cy="45.9" r="2"/><circle cx="198.5" cy="48.6" r="2"/><circle cx="210.1" cy="48.6" r="2"/><circle cx="211.9" cy="53.0" r="2"/><circle cx="186.0" cy="53.9" r="2"/><circle cx="183.4" cy="54.8" r="2"/><circle cx="61.0" cy="101.2" r="2"/><circle cx="86.0" cy="102.9" r="2"/><circle cx="38.7" cy="112.3" r="2"/><circle cx="46.9" cy="122.1" r="2"/><circle cx="96.6" cy="97.1" r="2"/><circle cx="145.0" cy="57.0" r="2"/><circle cx="150.0" cy="60.0" r="2"/><circle cx="155.0" cy="55.0" r="2"/><circle cx="160.0" cy="58.0" r="2"/><circle cx="165.0" cy="56.0" r="2"/><circle cx="148.0" cy="53.0" r="2"/><circle cx="158.0" cy="62.0" r="2"/><circle cx="168.0" cy="60.0" r="2"/><circle cx="143.0" cy="61.0" r="2"/><circle cx="152.0" cy="57.5" r="2"/><circle cx="162.0" cy="53.0" r="2"/></g>
</g><g clip-path="url(#cb)">

<g fill="#ff0000"><circle cx="156.9" cy="268.0" r="2"/><circle cx="162.8" cy="256.4" r="2"/><circle cx="173.0" cy="250.7" r="2"/><circle cx="174.1" cy="261.8" r="2"/><circle cx="205.1" cy="246.1" r="2"/><circle cx="206.9" cy="243.6" r="2"/><circle cx="118.9" cy="264.5" r="2"/><circle cx="119.8" cy="266.2" r="2"/><circle cx="121.2" cy="268.9" r="2"/><circle cx="124.2" cy="269.8" r="2"/><circle cx="126.9" cy="269.3" r="2"/><circle cx="130.5" cy="269.8" r="2"/><circle cx="134.1" cy="267.1" r="2"/><circle cx="129.6" cy="272.5" r="2"/><circle cx="146.2" cy="267.1" r="2"/><circle cx="111.8" cy="268.6" r="2"/><circle cx="110.9" cy="272.5" r="2"/><circle cx="101.0" cy="271.6" r="2"/><circle cx="99.8" cy="272.9" r="2"/><circle cx="95.7" cy="277.5" r="2"/><circle cx="98.4" cy="277.0" r="2"/><circle cx="101.0" cy="277.9" r="2"/><circle cx="109.1" cy="275.2" r="2"/><circle cx="112.6" cy="276.1" r="2"/><circle cx="115.3" cy="274.6" r="2"/><circle cx="122.5" cy="274.3" r="2"/><circle cx="125.1" cy="277.9" r="2"/><circle cx="128.7" cy="277.0" r="2"/><circle cx="135.9" cy="273.4" r="2"/><circle cx="137.6" cy="276.1" r="2"/><circle cx="141.2" cy="277.0" r="2"/><circle cx="119.8" cy="278.8" r="2"/><circle cx="103.7" cy="279.6" r="2"/><circle cx="83.5" cy="274.6" r="2"/><circle cx="71.4" cy="277.9" r="2"/><circle cx="74.1" cy="278.8" r="2"/><circle cx="77.6" cy="278.8" r="2"/><circle cx="80.3" cy="279.3" r="2"/><circle cx="86.6" cy="278.8" r="2"/><circle cx="66.0" cy="279.6" r="2"/><circle cx="34.8" cy="371.8" r="2"/><circle cx="36.6" cy="372.7" r="2"/><circle cx="35.7" cy="374.5" r="2"/><circle cx="33.9" cy="378.0" r="2"/><circle cx="36.6" cy="377.5" r="2"/><circle cx="39.2" cy="376.8" r="2"/><circle cx="34.8" cy="382.5" r="2"/><circle cx="37.5" cy="383.4" r="2"/><circle cx="40.1" cy="382.9" r="2"/><circle cx="38.4" cy="386.1" r="2"/><circle cx="41.0" cy="387.9" r="2"/><circle cx="42.8" cy="389.6" r="2"/><circle cx="44.6" cy="370.9" r="2"/><circle cx="47.3" cy="372.7" r="2"/><circle cx="50.0" cy="373.6" r="2"/><circle cx="50.9" cy="370.9" r="2"/><circle cx="49.1" cy="375.4" r="2"/><circle cx="45.5" cy="376.2" r="2"/><circle cx="46.4" cy="378.0" r="2"/><circle cx="44.6" cy="380.7" r="2"/><circle cx="48.2" cy="378.9" r="2"/><circle cx="50.9" cy="375.4" r="2"/><circle cx="41.0" cy="393.2" r="2"/><circle cx="49.1" cy="392.3" r="2"/><circle cx="50.5" cy="395.0" r="2"/><circle cx="52.6" cy="395.9" r="2"/><circle cx="58.0" cy="381.1" r="2"/><circle cx="70.1" cy="378.0" r="2"/><circle cx="72.6" cy="371.4" r="2"/><circle cx="80.3" cy="379.5" r="2"/><circle cx="75.3" cy="386.1" r="2"/><circle cx="84.4" cy="390.2" r="2"/><circle cx="65.1" cy="394.1" r="2"/><circle cx="69.6" cy="399.8" r="2"/><circle cx="79.8" cy="396.4" r="2"/><circle cx="38.4" cy="404.8" r="2"/><circle cx="37.5" cy="405.7" r="2"/><circle cx="36.6" cy="410.2" r="2"/><circle cx="46.4" cy="407.5" r="2"/><circle cx="49.4" cy="405.4" r="2"/><circle cx="59.8" cy="408.4" r="2"/><circle cx="33.5" cy="375.4" r="2"/><circle cx="33.5" cy="380.7" r="2"/><circle cx="99.8" cy="330.7" r="2"/><circle cx="102.8" cy="334.3" r="2"/><circle cx="101.9" cy="336.1" r="2"/><circle cx="102.8" cy="345.0" r="2"/><circle cx="104.6" cy="345.5" r="2"/><circle cx="119.4" cy="349.6" r="2"/><circle cx="93.4" cy="363.4" r="2"/><circle cx="93.9" cy="369.3" r="2"/><circle cx="93.9" cy="280.9" r="2"/><circle cx="96.6" cy="281.8" r="2"/><circle cx="99.2" cy="280.9" r="2"/><circle cx="101.9" cy="281.8" r="2"/><circle cx="103.7" cy="280.0" r="2"/><circle cx="105.5" cy="282.7" r="2"/><circle cx="109.1" cy="280.9" r="2"/><circle cx="111.8" cy="281.8" r="2"/><circle cx="114.4" cy="280.9" r="2"/><circle cx="118.0" cy="280.0" r="2"/><circle cx="121.6" cy="280.9" r="2"/><circle cx="124.8" cy="281.8" r="2"/><circle cx="94.8" cy="284.5" r="2"/><circle cx="97.5" cy="285.4" r="2"/><circle cx="100.1" cy="286.2" r="2"/><circle cx="102.8" cy="285.4" r="2"/><circle cx="104.6" cy="288.0" r="2"/><circle cx="93.9" cy="288.0" r="2"/><circle cx="95.7" cy="289.8" r="2"/><circle cx="100.1" cy="288.9" r="2"/><circle cx="118.0" cy="288.0" r="2"/><circle cx="119.8" cy="288.9" r="2"/><circle cx="118.9" cy="290.4" r="2"/><circle cx="104.6" cy="293.4" r="2"/><circle cx="94.8" cy="293.4" r="2"/><circle cx="97.5" cy="295.2" r="2"/><circle cx="100.1" cy="297.0" r="2"/><circle cx="102.8" cy="297.9" r="2"/><circle cx="105.5" cy="298.4" r="2"/><circle cx="93.9" cy="297.9" r="2"/><circle cx="95.7" cy="300.5" r="2"/><circle cx="98.4" cy="301.4" r="2"/><circle cx="101.0" cy="300.5" r="2"/><circle cx="93.9" cy="302.3" r="2"/><circle cx="114.1" cy="297.9" r="2"/><circle cx="135.9" cy="280.0" r="2"/><circle cx="140.3" cy="281.4" r="2"/><circle cx="147.5" cy="281.4" r="2"/><circle cx="141.2" cy="291.1" r="2"/><circle cx="104.6" cy="305.4" r="2"/><circle cx="98.0" cy="308.9" r="2"/><circle cx="103.7" cy="311.2" r="2"/><circle cx="109.1" cy="310.7" r="2"/><circle cx="112.3" cy="313.6" r="2"/><circle cx="96.6" cy="315.2" r="2"/><circle cx="110.9" cy="317.5" r="2"/><circle cx="138.0" cy="309.5" r="2"/><circle cx="45.5" cy="325.9" r="2"/><circle cx="49.1" cy="326.8" r="2"/><circle cx="52.6" cy="325.9" r="2"/><circle cx="56.2" cy="327.7" r="2"/><circle cx="59.8" cy="325.9" r="2"/><circle cx="63.4" cy="326.8" r="2"/><circle cx="66.0" cy="325.0" r="2"/><circle cx="74.1" cy="325.9" r="2"/><circle cx="77.6" cy="326.8" r="2"/><circle cx="79.4" cy="329.5" r="2"/><circle cx="90.1" cy="328.6" r="2"/><circle cx="47.3" cy="329.5" r="2"/><circle cx="50.9" cy="330.4" r="2"/><circle cx="54.4" cy="331.2" r="2"/><circle cx="58.9" cy="330.4" r="2"/><circle cx="62.5" cy="330.4" r="2"/><circle cx="46.4" cy="333.0" r="2"/><circle cx="50.0" cy="333.9" r="2"/><circle cx="53.5" cy="334.8" r="2"/><circle cx="58.0" cy="333.9" r="2"/><circle cx="61.6" cy="333.0" r="2"/><circle cx="64.2" cy="334.8" r="2"/><circle cx="68.7" cy="333.0" r="2"/><circle cx="71.4" cy="333.9" r="2"/><circle cx="75.9" cy="335.7" r="2"/><circle cx="82.1" cy="339.3" r="2"/><circle cx="84.8" cy="340.2" r="2"/><circle cx="45.5" cy="335.7" r="2"/><circle cx="48.2" cy="337.5" r="2"/><circle cx="59.8" cy="337.5" r="2"/><circle cx="61.6" cy="338.4" r="2"/><circle cx="47.3" cy="341.1" r="2"/><circle cx="50.9" cy="342.0" r="2"/><circle cx="54.4" cy="342.9" r="2"/><circle cx="58.0" cy="342.0" r="2"/><circle cx="62.5" cy="341.1" r="2"/><circle cx="67.8" cy="342.0" r="2"/><circle cx="69.6" cy="343.8" r="2"/><circle cx="72.3" cy="346.4" r="2"/><circle cx="75.0" cy="348.2" r="2"/><circle cx="46.4" cy="346.4" r="2"/><circle cx="50.9" cy="347.3" r="2"/><circle cx="56.2" cy="345.5" r="2"/><circle cx="60.7" cy="345.5" r="2"/><circle cx="48.2" cy="351.8" r="2"/><circle cx="51.8" cy="350.9" r="2"/><circle cx="55.3" cy="348.2" r="2"/><circle cx="59.8" cy="350.0" r="2"/><circle cx="64.2" cy="350.9" r="2"/><circle cx="66.0" cy="354.5" r="2"/><circle cx="75.9" cy="352.7" r="2"/><circle cx="78.5" cy="353.2" r="2"/><circle cx="52.6" cy="353.6" r="2"/><circle cx="58.0" cy="354.5" r="2"/><circle cx="43.7" cy="354.5" r="2"/><circle cx="44.6" cy="356.2" r="2"/><circle cx="41.9" cy="360.7" r="2"/><circle cx="45.5" cy="357.1" r="2"/><circle cx="48.2" cy="358.9" r="2"/><circle cx="50.9" cy="358.0" r="2"/><circle cx="54.4" cy="358.9" r="2"/><circle cx="57.1" cy="358.0" r="2"/><circle cx="59.8" cy="359.8" r="2"/><circle cx="61.6" cy="357.1" r="2"/><circle cx="64.2" cy="360.7" r="2"/><circle cx="67.8" cy="363.4" r="2"/><circle cx="74.1" cy="359.8" r="2"/><circle cx="70.5" cy="358.0" r="2"/><circle cx="75.9" cy="367.9" r="2"/><circle cx="58.0" cy="366.1" r="2"/><circle cx="52.6" cy="367.0" r="2"/><circle cx="43.7" cy="367.0" r="2"/><circle cx="40.1" cy="362.5" r="2"/><circle cx="36.6" cy="360.7" r="2"/><circle cx="49.1" cy="362.5" r="2"/><circle cx="91.9" cy="362.5" r="2"/><circle cx="59.8" cy="363.4" r="2"/><circle cx="55.3" cy="363.4" r="2"/><circle cx="62.5" cy="365.2" r="2"/><circle cx="66.0" cy="367.9" r="2"/><circle cx="77.4" cy="275.7" r="2"/><circle cx="66.3" cy="278.5" r="2"/><circle cx="72.8" cy="278.5" r="2"/><circle cx="62.7" cy="279.5" r="2"/><circle cx="82.8" cy="279.4" r="2"/><circle cx="83.3" cy="280.0" r="2"/><circle cx="46.8" cy="280.5" r="2"/><circle cx="84.0" cy="280.2" r="2"/><circle cx="42.7" cy="281.3" r="2"/><circle cx="62.4" cy="282.0" r="2"/><circle cx="71.5" cy="281.7" r="2"/><circle cx="82.0" cy="281.0" r="2"/><circle cx="83.6" cy="281.7" r="2"/><circle cx="89.9" cy="281.5" r="2"/><circle cx="49.7" cy="282.9" r="2"/><circle cx="53.4" cy="282.7" r="2"/><circle cx="82.7" cy="282.8" r="2"/><circle cx="43.9" cy="283.1" r="2"/><circle cx="56.0" cy="283.6" r="2"/><circle cx="57.9" cy="283.1" r="2"/><circle cx="58.3" cy="284.0" r="2"/><circle cx="60.4" cy="283.2" r="2"/><circle cx="69.9" cy="283.4" r="2"/><circle cx="90.4" cy="283.5" r="2"/><circle cx="52.3" cy="284.5" r="2"/><circle cx="59.4" cy="284.9" r="2"/><circle cx="60.9" cy="284.5" r="2"/><circle cx="61.6" cy="284.4" r="2"/><circle cx="63.3" cy="284.8" r="2"/><circle cx="66.0" cy="284.2" r="2"/><circle cx="67.8" cy="284.1" r="2"/><circle cx="43.3" cy="285.2" r="2"/><circle cx="45.4" cy="285.1" r="2"/><circle cx="47.1" cy="285.5" r="2"/><circle cx="47.6" cy="286.0" r="2"/><circle cx="47.1" cy="285.7" r="2"/><circle cx="48.1" cy="285.8" r="2"/><circle cx="54.2" cy="285.0" r="2"/><circle cx="57.8" cy="285.6" r="2"/><circle cx="60.0" cy="285.5" r="2"/><circle cx="61.7" cy="285.2" r="2"/><circle cx="64.6" cy="285.5" r="2"/><circle cx="68.5" cy="285.9" r="2"/><circle cx="76.1" cy="285.3" r="2"/><circle cx="76.6" cy="285.6" r="2"/><circle cx="78.1" cy="285.1" r="2"/><circle cx="87.4" cy="285.8" r="2"/><circle cx="91.4" cy="285.8" r="2"/><circle cx="44.6" cy="286.7" r="2"/><circle cx="47.0" cy="286.4" r="2"/><circle cx="73.5" cy="286.5" r="2"/><circle cx="76.7" cy="286.1" r="2"/><circle cx="87.0" cy="286.7" r="2"/><circle cx="41.1" cy="287.3" r="2"/><circle cx="44.1" cy="288.0" r="2"/><circle cx="48.8" cy="287.3" r="2"/><circle cx="51.1" cy="287.2" r="2"/><circle cx="51.2" cy="287.3" r="2"/><circle cx="54.9" cy="287.5" r="2"/><circle cx="56.4" cy="287.6" r="2"/><circle cx="58.5" cy="287.6" r="2"/><circle cx="58.8" cy="287.6" r="2"/><circle cx="59.4" cy="287.4" r="2"/><circle cx="60.1" cy="287.8" r="2"/><circle cx="72.5" cy="287.1" r="2"/><circle cx="76.2" cy="287.0" r="2"/><circle cx="80.5" cy="287.1" r="2"/><circle cx="82.9" cy="287.8" r="2"/><circle cx="91.5" cy="287.5" r="2"/><circle cx="39.1" cy="289.0" r="2"/><circle cx="40.4" cy="288.6" r="2"/><circle cx="45.7" cy="288.5" r="2"/><circle cx="56.5" cy="288.4" r="2"/><circle cx="59.2" cy="288.0" r="2"/><circle cx="61.3" cy="288.6" r="2"/><circle cx="61.8" cy="288.8" r="2"/><circle cx="62.6" cy="288.5" r="2"/><circle cx="66.5" cy="288.9" r="2"/><circle cx="75.0" cy="288.5" r="2"/><circle cx="52.0" cy="289.7" r="2"/><circle cx="61.1" cy="290.0" r="2"/><circle cx="79.4" cy="289.6" r="2"/><circle cx="86.4" cy="289.7" r="2"/><circle cx="87.5" cy="289.3" r="2"/><circle cx="48.2" cy="290.0" r="2"/><circle cx="51.3" cy="291.0" r="2"/><circle cx="52.2" cy="290.0" r="2"/><circle cx="54.5" cy="290.1" r="2"/><circle cx="54.9" cy="290.6" r="2"/><circle cx="58.5" cy="290.7" r="2"/><circle cx="75.1" cy="290.6" r="2"/><circle cx="77.9" cy="290.3" r="2"/><circle cx="80.1" cy="290.3" r="2"/><circle cx="87.9" cy="290.9" r="2"/><circle cx="88.3" cy="290.2" r="2"/><circle cx="92.4" cy="290.4" r="2"/><circle cx="45.5" cy="291.9" r="2"/><circle cx="45.3" cy="291.5" r="2"/><circle cx="49.5" cy="291.0" r="2"/><circle cx="51.1" cy="291.7" r="2"/><circle cx="54.3" cy="291.5" r="2"/><circle cx="60.9" cy="291.1" r="2"/><circle cx="61.2" cy="291.0" r="2"/><circle cx="86.2" cy="291.7" r="2"/><circle cx="46.0" cy="292.0" r="2"/><circle cx="46.6" cy="292.7" r="2"/><circle cx="46.9" cy="293.0" r="2"/><circle cx="55.4" cy="292.3" r="2"/><circle cx="57.8" cy="292.8" r="2"/><circle cx="57.6" cy="292.9" r="2"/><circle cx="60.4" cy="292.7" r="2"/><circle cx="61.6" cy="293.0" r="2"/><circle cx="64.1" cy="292.9" r="2"/><circle cx="65.6" cy="292.7" r="2"/><circle cx="65.9" cy="292.7" r="2"/><circle cx="67.7" cy="292.5" r="2"/><circle cx="83.2" cy="292.2" r="2"/><circle cx="45.9" cy="293.1" r="2"/><circle cx="49.9" cy="293.9" r="2"/><circle cx="52.8" cy="293.8" r="2"/><circle cx="54.3" cy="293.5" r="2"/><circle cx="56.7" cy="293.9" r="2"/><circle cx="61.1" cy="293.6" r="2"/><circle cx="63.8" cy="293.6" r="2"/><circle cx="56.0" cy="294.5" r="2"/><circle cx="59.3" cy="294.7" r="2"/><circle cx="60.9" cy="294.5" r="2"/><circle cx="61.0" cy="294.8" r="2"/><circle cx="69.7" cy="294.4" r="2"/><circle cx="70.9" cy="294.8" r="2"/><circle cx="72.5" cy="294.0" r="2"/><circle cx="76.9" cy="294.9" r="2"/><circle cx="90.4" cy="294.1" r="2"/><circle cx="43.5" cy="295.5" r="2"/><circle cx="45.6" cy="296.0" r="2"/><circle cx="46.8" cy="296.0" r="2"/><circle cx="46.3" cy="295.6" r="2"/><circle cx="53.3" cy="295.8" r="2"/><circle cx="55.6" cy="295.4" r="2"/><circle cx="56.8" cy="296.0" r="2"/><circle cx="61.6" cy="295.3" r="2"/><circle cx="66.5" cy="295.7" r="2"/><circle cx="74.6" cy="295.1" r="2"/><circle cx="77.0" cy="295.4" r="2"/><circle cx="80.0" cy="295.4" r="2"/><circle cx="37.0" cy="296.9" r="2"/><circle cx="46.0" cy="296.4" r="2"/><circle cx="48.3" cy="296.1" r="2"/><circle cx="50.3" cy="296.9" r="2"/><circle cx="55.5" cy="296.5" r="2"/><circle cx="59.3" cy="297.0" r="2"/><circle cx="60.6" cy="296.2" r="2"/><circle cx="65.5" cy="296.7" r="2"/><circle cx="76.6" cy="296.3" r="2"/><circle cx="83.6" cy="296.6" r="2"/><circle cx="48.9" cy="297.9" r="2"/><circle cx="49.1" cy="297.0" r="2"/><circle cx="59.4" cy="297.2" r="2"/><circle cx="72.1" cy="297.5" r="2"/><circle cx="75.0" cy="297.8" r="2"/><circle cx="42.8" cy="298.5" r="2"/><circle cx="44.1" cy="298.0" r="2"/><circle cx="47.2" cy="298.1" r="2"/><circle cx="56.3" cy="298.7" r="2"/><circle cx="57.2" cy="298.3" r="2"/><circle cx="72.4" cy="298.4" r="2"/><circle cx="74.8" cy="298.8" r="2"/><circle cx="74.1" cy="298.9" r="2"/><circle cx="74.5" cy="298.1" r="2"/><circle cx="77.0" cy="298.7" r="2"/><circle cx="81.8" cy="298.1" r="2"/><circle cx="35.8" cy="299.7" r="2"/><circle cx="37.3" cy="299.2" r="2"/><circle cx="37.7" cy="299.2" r="2"/><circle cx="38.7" cy="299.8" r="2"/><circle cx="44.0" cy="299.2" r="2"/><circle cx="46.3" cy="299.0" r="2"/><circle cx="51.8" cy="299.9" r="2"/><circle cx="57.9" cy="299.4" r="2"/><circle cx="60.4" cy="299.9" r="2"/><circle cx="65.7" cy="299.5" r="2"/><circle cx="67.0" cy="299.5" r="2"/><circle cx="66.5" cy="299.0" r="2"/><circle cx="81.8" cy="299.7" r="2"/><circle cx="84.0" cy="299.5" r="2"/><circle cx="45.5" cy="300.9" r="2"/><circle cx="46.9" cy="300.2" r="2"/><circle cx="48.3" cy="300.4" r="2"/><circle cx="52.3" cy="300.2" r="2"/><circle cx="52.6" cy="300.0" r="2"/><circle cx="52.0" cy="300.8" r="2"/><circle cx="56.9" cy="300.9" r="2"/><circle cx="69.7" cy="300.8" r="2"/><circle cx="74.0" cy="300.5" r="2"/><circle cx="77.4" cy="300.6" r="2"/><circle cx="85.7" cy="300.0" r="2"/><circle cx="90.9" cy="300.2" r="2"/><circle cx="40.5" cy="301.5" r="2"/><circle cx="44.0" cy="301.3" r="2"/><circle cx="48.3" cy="301.9" r="2"/><circle cx="54.4" cy="301.1" r="2"/><circle cx="60.4" cy="301.0" r="2"/><circle cx="63.0" cy="301.4" r="2"/><circle cx="74.2" cy="301.5" r="2"/><circle cx="77.1" cy="301.8" r="2"/><circle cx="36.0" cy="302.5" r="2"/><circle cx="42.4" cy="302.1" r="2"/><circle cx="44.6" cy="302.3" r="2"/><circle cx="57.7" cy="302.7" r="2"/><circle cx="60.7" cy="302.8" r="2"/><circle cx="63.5" cy="302.7" r="2"/><circle cx="73.3" cy="302.8" r="2"/><circle cx="41.7" cy="303.4" r="2"/><circle cx="41.7" cy="303.8" r="2"/><circle cx="45.8" cy="303.4" r="2"/><circle cx="45.2" cy="303.8" r="2"/><circle cx="48.0" cy="303.2" r="2"/><circle cx="49.5" cy="303.8" r="2"/><circle cx="53.0" cy="303.4" r="2"/><circle cx="53.7" cy="303.9" r="2"/><circle cx="55.9" cy="303.2" r="2"/><circle cx="59.3" cy="303.8" r="2"/><circle cx="62.1" cy="303.1" r="2"/><circle cx="63.7" cy="303.4" r="2"/><circle cx="64.8" cy="303.9" r="2"/><circle cx="78.1" cy="303.2" r="2"/><circle cx="81.5" cy="303.5" r="2"/><circle cx="34.0" cy="304.7" r="2"/><circle cx="35.5" cy="304.6" r="2"/><circle cx="39.9" cy="304.2" r="2"/><circle cx="40.2" cy="304.9" r="2"/><circle cx="42.0" cy="304.7" r="2"/><circle cx="42.6" cy="304.3" r="2"/><circle cx="46.4" cy="304.6" r="2"/><circle cx="47.4" cy="304.2" r="2"/><circle cx="48.4" cy="304.6" r="2"/><circle cx="48.3" cy="304.3" r="2"/><circle cx="49.8" cy="304.9" r="2"/><circle cx="51.9" cy="305.0" r="2"/><circle cx="51.7" cy="305.0" r="2"/><circle cx="55.6" cy="304.0" r="2"/><circle cx="55.1" cy="304.5" r="2"/><circle cx="56.5" cy="305.0" r="2"/><circle cx="56.7" cy="304.9" r="2"/><circle cx="58.7" cy="304.6" r="2"/><circle cx="61.7" cy="304.6" r="2"/><circle cx="35.7" cy="305.7" r="2"/><circle cx="35.6" cy="305.2" r="2"/><circle cx="40.7" cy="305.4" r="2"/><circle cx="43.9" cy="305.4" r="2"/><circle cx="45.8" cy="305.1" r="2"/><circle cx="52.3" cy="305.6" r="2"/><circle cx="52.0" cy="305.0" r="2"/><circle cx="56.5" cy="305.2" r="2"/><circle cx="65.7" cy="305.7" r="2"/><circle cx="39.6" cy="306.6" r="2"/><circle cx="43.6" cy="307.0" r="2"/><circle cx="46.9" cy="306.3" r="2"/><circle cx="47.7" cy="306.5" r="2"/><circle cx="56.1" cy="306.5" r="2"/><circle cx="80.3" cy="306.0" r="2"/><circle cx="89.4" cy="307.0" r="2"/><circle cx="38.1" cy="307.3" r="2"/><circle cx="44.3" cy="307.2" r="2"/><circle cx="44.8" cy="308.0" r="2"/><circle cx="44.3" cy="307.1" r="2"/><circle cx="45.7" cy="307.8" r="2"/><circle cx="46.9" cy="307.7" r="2"/><circle cx="47.9" cy="307.6" r="2"/><circle cx="51.0" cy="307.5" r="2"/><circle cx="51.6" cy="307.6" r="2"/><circle cx="52.5" cy="308.0" r="2"/><circle cx="52.1" cy="308.0" r="2"/><circle cx="55.0" cy="307.4" r="2"/><circle cx="56.3" cy="307.8" r="2"/><circle cx="58.6" cy="307.5" r="2"/><circle cx="61.5" cy="307.1" r="2"/><circle cx="71.2" cy="307.6" r="2"/><circle cx="74.7" cy="307.7" r="2"/><circle cx="37.4" cy="308.2" r="2"/><circle cx="40.4" cy="308.3" r="2"/><circle cx="41.6" cy="308.1" r="2"/><circle cx="50.0" cy="308.6" r="2"/><circle cx="50.6" cy="308.2" r="2"/><circle cx="54.4" cy="308.5" r="2"/><circle cx="55.5" cy="308.7" r="2"/><circle cx="55.0" cy="308.7" r="2"/><circle cx="58.9" cy="308.4" r="2"/><circle cx="59.5" cy="308.8" r="2"/><circle cx="61.0" cy="308.9" r="2"/><circle cx="65.9" cy="308.4" r="2"/><circle cx="80.7" cy="308.6" r="2"/><circle cx="86.9" cy="308.3" r="2"/><circle cx="38.1" cy="309.1" r="2"/><circle cx="38.2" cy="309.2" r="2"/><circle cx="42.2" cy="309.8" r="2"/><circle cx="43.0" cy="309.4" r="2"/><circle cx="44.6" cy="309.2" r="2"/><circle cx="45.0" cy="309.5" r="2"/><circle cx="50.6" cy="309.4" r="2"/><circle cx="58.4" cy="309.1" r="2"/><circle cx="61.2" cy="309.3" r="2"/><circle cx="66.5" cy="309.3" r="2"/><circle cx="37.7" cy="310.2" r="2"/><circle cx="43.4" cy="310.1" r="2"/><circle cx="46.9" cy="310.6" r="2"/><circle cx="47.4" cy="310.9" r="2"/><circle cx="64.0" cy="310.8" r="2"/><circle cx="73.7" cy="310.4" r="2"/><circle cx="34.6" cy="311.0" r="2"/><circle cx="38.2" cy="311.7" r="2"/><circle cx="39.2" cy="311.5" r="2"/><circle cx="53.7" cy="311.8" r="2"/><circle cx="55.2" cy="311.8" r="2"/><circle cx="67.5" cy="311.0" r="2"/><circle cx="77.2" cy="311.2" r="2"/><circle cx="39.8" cy="312.5" r="2"/><circle cx="40.7" cy="312.5" r="2"/><circle cx="46.4" cy="312.5" r="2"/><circle cx="50.8" cy="312.8" r="2"/><circle cx="51.4" cy="312.5" r="2"/><circle cx="53.4" cy="312.6" r="2"/><circle cx="55.8" cy="312.8" r="2"/><circle cx="70.9" cy="312.5" r="2"/><circle cx="71.7" cy="312.6" r="2"/><circle cx="75.6" cy="312.5" r="2"/><circle cx="78.6" cy="312.0" r="2"/><circle cx="84.5" cy="312.2" r="2"/><circle cx="35.5" cy="313.2" r="2"/><circle cx="39.1" cy="313.6" r="2"/><circle cx="40.8" cy="313.1" r="2"/><circle cx="42.5" cy="313.6" r="2"/><circle cx="44.5" cy="313.1" r="2"/><circle cx="47.3" cy="313.2" r="2"/><circle cx="48.5" cy="313.4" r="2"/><circle cx="50.6" cy="313.9" r="2"/><circle cx="51.0" cy="313.8" r="2"/><circle cx="57.3" cy="313.5" r="2"/><circle cx="58.4" cy="313.1" r="2"/><circle cx="83.9" cy="313.9" r="2"/><circle cx="41.5" cy="314.8" r="2"/><circle cx="42.4" cy="314.8" r="2"/><circle cx="56.9" cy="314.6" r="2"/><circle cx="57.5" cy="314.3" r="2"/><circle cx="64.1" cy="314.7" r="2"/><circle cx="67.0" cy="314.9" r="2"/><circle cx="79.2" cy="314.5" r="2"/><circle cx="85.7" cy="314.7" r="2"/><circle cx="92.1" cy="314.4" r="2"/><circle cx="38.8" cy="315.0" r="2"/><circle cx="39.9" cy="315.3" r="2"/><circle cx="41.4" cy="315.9" r="2"/><circle cx="42.5" cy="315.6" r="2"/><circle cx="43.0" cy="315.9" r="2"/><circle cx="47.4" cy="315.0" r="2"/><circle cx="59.2" cy="315.6" r="2"/><circle cx="73.8" cy="316.0" r="2"/><circle cx="79.3" cy="316.0" r="2"/><circle cx="89.3" cy="315.9" r="2"/><circle cx="36.1" cy="316.4" r="2"/><circle cx="55.7" cy="317.0" r="2"/><circle cx="57.9" cy="316.9" r="2"/><circle cx="57.7" cy="316.3" r="2"/><circle cx="59.3" cy="316.1" r="2"/><circle cx="38.1" cy="317.8" r="2"/><circle cx="41.0" cy="317.9" r="2"/><circle cx="43.3" cy="317.4" r="2"/><circle cx="43.7" cy="317.7" r="2"/><circle cx="45.4" cy="317.1" r="2"/><circle cx="46.8" cy="317.7" r="2"/><circle cx="47.3" cy="317.9" r="2"/><circle cx="52.3" cy="317.3" r="2"/><circle cx="61.9" cy="317.7" r="2"/><circle cx="62.3" cy="317.3" r="2"/><circle cx="65.9" cy="317.9" r="2"/><circle cx="68.0" cy="317.2" r="2"/><circle cx="68.6" cy="317.1" r="2"/><circle cx="36.1" cy="318.5" r="2"/><circle cx="36.4" cy="318.5" r="2"/><circle cx="42.8" cy="318.3" r="2"/><circle cx="48.2" cy="318.9" r="2"/><circle cx="49.9" cy="318.2" r="2"/><circle cx="54.0" cy="318.3" r="2"/><circle cx="57.1" cy="318.6" r="2"/><circle cx="71.4" cy="318.0" r="2"/><circle cx="76.1" cy="318.5" r="2"/><circle cx="38.0" cy="319.6" r="2"/><circle cx="38.9" cy="319.7" r="2"/><circle cx="39.0" cy="319.3" r="2"/><circle cx="42.3" cy="319.2" r="2"/><circle cx="42.6" cy="319.2" r="2"/><circle cx="43.9" cy="319.3" r="2"/><circle cx="54.3" cy="319.9" r="2"/><circle cx="55.1" cy="319.5" r="2"/><circle cx="58.8" cy="319.2" r="2"/><circle cx="36.6" cy="320.6" r="2"/><circle cx="37.2" cy="320.0" r="2"/><circle cx="38.4" cy="320.6" r="2"/><circle cx="38.2" cy="320.3" r="2"/><circle cx="39.2" cy="320.0" r="2"/><circle cx="41.8" cy="320.1" r="2"/><circle cx="46.7" cy="320.7" r="2"/><circle cx="49.6" cy="320.5" r="2"/><circle cx="49.4" cy="320.6" r="2"/><circle cx="50.2" cy="320.5" r="2"/><circle cx="85.5" cy="320.9" r="2"/><circle cx="33.6" cy="321.7" r="2"/><circle cx="37.3" cy="321.7" r="2"/><circle cx="38.3" cy="321.4" r="2"/><circle cx="38.5" cy="321.8" r="2"/><circle cx="43.5" cy="321.2" r="2"/><circle cx="45.8" cy="321.0" r="2"/><circle cx="45.3" cy="321.0" r="2"/><circle cx="45.8" cy="321.6" r="2"/><circle cx="46.0" cy="321.8" r="2"/><circle cx="58.8" cy="321.8" r="2"/><circle cx="62.1" cy="321.9" r="2"/><circle cx="65.0" cy="322.0" r="2"/><circle cx="81.6" cy="321.4" r="2"/><circle cx="36.2" cy="322.2" r="2"/><circle cx="38.7" cy="322.3" r="2"/><circle cx="41.0" cy="322.0" r="2"/><circle cx="44.6" cy="322.4" r="2"/><circle cx="51.1" cy="322.8" r="2"/><circle cx="54.1" cy="322.8" r="2"/><circle cx="55.4" cy="322.6" r="2"/><circle cx="60.0" cy="322.3" r="2"/><circle cx="64.7" cy="322.4" r="2"/><circle cx="74.2" cy="322.3" r="2"/><circle cx="76.8" cy="322.9" r="2"/><circle cx="34.7" cy="324.0" r="2"/><circle cx="40.5" cy="323.5" r="2"/><circle cx="46.0" cy="323.5" r="2"/><circle cx="48.7" cy="323.6" r="2"/><circle cx="51.5" cy="323.3" r="2"/><circle cx="53.0" cy="323.1" r="2"/><circle cx="57.8" cy="323.0" r="2"/><circle cx="42.6" cy="324.5" r="2"/><circle cx="43.6" cy="324.5" r="2"/><circle cx="55.5" cy="324.5" r="2"/><circle cx="59.1" cy="324.1" r="2"/><circle cx="34.6" cy="325.4" r="2"/><circle cx="60.6" cy="325.0" r="2"/><circle cx="73.5" cy="325.6" r="2"/><circle cx="43.7" cy="326.9" r="2"/><circle cx="89.5" cy="327.6" r="2"/><circle cx="35.8" cy="328.6" r="2"/><circle cx="76.9" cy="328.6" r="2"/><circle cx="33.8" cy="329.5" r="2"/><circle cx="72.2" cy="331.0" r="2"/><circle cx="73.5" cy="331.3" r="2"/><circle cx="33.9" cy="332.9" r="2"/><circle cx="43.8" cy="333.0" r="2"/><circle cx="57.4" cy="333.1" r="2"/><circle cx="61.0" cy="335.0" r="2"/><circle cx="73.0" cy="335.9" r="2"/><circle cx="80.2" cy="335.2" r="2"/><circle cx="39.4" cy="337.2" r="2"/><circle cx="42.7" cy="338.6" r="2"/><circle cx="36.7" cy="339.9" r="2"/><circle cx="79.2" cy="341.6" r="2"/><circle cx="83.2" cy="342.3" r="2"/><circle cx="63.5" cy="343.2" r="2"/><circle cx="53.0" cy="344.9" r="2"/><circle cx="40.4" cy="345.4" r="2"/><circle cx="80.1" cy="345.6" r="2"/><circle cx="72.9" cy="346.6" r="2"/><circle cx="47.8" cy="347.9" r="2"/><circle cx="33.6" cy="325.9" r="2"/><circle cx="39.7" cy="326.0" r="2"/><circle cx="39.2" cy="326.2" r="2"/><circle cx="42.3" cy="326.6" r="2"/><circle cx="35.4" cy="329.0" r="2"/><circle cx="36.1" cy="328.2" r="2"/><circle cx="33.8" cy="329.9" r="2"/><circle cx="36.6" cy="329.7" r="2"/><circle cx="33.4" cy="330.5" r="2"/><circle cx="34.4" cy="330.4" r="2"/><circle cx="36.8" cy="330.3" r="2"/><circle cx="37.2" cy="330.6" r="2"/><circle cx="36.9" cy="331.3" r="2"/><circle cx="36.5" cy="332.7" r="2"/><circle cx="36.7" cy="332.0" r="2"/><circle cx="41.4" cy="334.1" r="2"/><circle cx="37.1" cy="335.3" r="2"/><circle cx="38.3" cy="335.2" r="2"/><circle cx="39.7" cy="335.6" r="2"/><circle cx="36.3" cy="337.7" r="2"/><circle cx="33.3" cy="338.7" r="2"/><circle cx="36.4" cy="338.6" r="2"/><circle cx="34.5" cy="339.1" r="2"/><circle cx="40.5" cy="339.3" r="2"/><circle cx="34.0" cy="340.8" r="2"/><circle cx="34.9" cy="340.2" r="2"/><circle cx="35.0" cy="340.6" r="2"/><circle cx="35.9" cy="340.8" r="2"/><circle cx="40.4" cy="340.7" r="2"/><circle cx="34.6" cy="341.9" r="2"/><circle cx="35.1" cy="341.3" r="2"/><circle cx="38.3" cy="341.5" r="2"/><circle cx="36.2" cy="342.7" r="2"/><circle cx="33.4" cy="343.8" r="2"/><circle cx="40.7" cy="343.6" r="2"/><circle cx="43.3" cy="343.1" r="2"/><circle cx="37.6" cy="344.9" r="2"/><circle cx="38.5" cy="344.5" r="2"/><circle cx="39.4" cy="344.4" r="2"/><circle cx="34.3" cy="345.8" r="2"/><circle cx="36.9" cy="345.2" r="2"/><circle cx="39.4" cy="346.2" r="2"/><circle cx="41.5" cy="347.0" r="2"/><circle cx="38.9" cy="348.8" r="2"/><circle cx="41.2" cy="348.3" r="2"/><circle cx="37.7" cy="349.1" r="2"/><circle cx="38.8" cy="349.4" r="2"/><circle cx="39.5" cy="349.9" r="2"/><circle cx="42.5" cy="350.6" r="2"/><circle cx="33.4" cy="352.0" r="2"/><circle cx="33.8" cy="352.4" r="2"/><circle cx="35.3" cy="352.4" r="2"/><circle cx="37.7" cy="353.9" r="2"/><circle cx="33.7" cy="354.8" r="2"/><circle cx="35.8" cy="354.6" r="2"/><circle cx="35.9" cy="354.5" r="2"/><circle cx="37.8" cy="354.7" r="2"/><circle cx="38.1" cy="354.2" r="2"/><circle cx="38.7" cy="354.6" r="2"/><circle cx="33.6" cy="356.5" r="2"/><circle cx="34.9" cy="356.2" r="2"/><circle cx="37.0" cy="356.9" r="2"/><circle cx="33.5" cy="358.3" r="2"/><circle cx="43.3" cy="358.7" r="2"/><circle cx="34.5" cy="360.8" r="2"/><circle cx="40.0" cy="360.3" r="2"/><circle cx="34.3" cy="361.8" r="2"/><circle cx="36.2" cy="362.7" r="2"/><circle cx="36.0" cy="362.5" r="2"/><circle cx="36.2" cy="366.9" r="2"/><circle cx="33.3" cy="368.2" r="2"/><circle cx="37.7" cy="370.2" r="2"/><circle cx="33.7" cy="372.3" r="2"/><circle cx="38.9" cy="372.6" r="2"/><circle cx="33.3" cy="374.9" r="2"/><circle cx="42.0" cy="377.7" r="2"/></g>
</g>
<line x1="321.2" y1="15.2" x2="82.4" y2="87.6" stroke="#111" stroke-width="1.3" stroke-dasharray="2.2 1.7"/>
<line x1="321.2" y1="221.2" x2="82.4" y2="293.6" stroke="#111" stroke-width="1.3" stroke-dasharray="2.2 1.7"/>
<text transform="translate(26.2 29.9) scale(0.86 1)" font-size="11.00" text-anchor="end">10</text><text x="27.1" y="23.9" font-size="7.00">3</text>
<text transform="translate(26.2 61.6) scale(0.86 1)" font-size="11.00" text-anchor="end">10</text><text x="27.1" y="55.6" font-size="7.00">2</text>
<text transform="translate(30.4 93.4) scale(0.82 1)" font-size="11.00" text-anchor="end">10</text>
<text transform="translate(30.4 125.2) scale(0.82 1)" font-size="11.00" text-anchor="end">1</text>
<text transform="translate(26.2 156.9) scale(0.86 1)" font-size="11.00" text-anchor="end">10</text><text x="27.1" y="150.9" font-size="7.00">-1</text>
<text transform="translate(26.2 188.7) scale(0.86 1)" font-size="11.00" text-anchor="end">10</text><text x="27.1" y="182.7" font-size="7.00">-2</text>
<text transform="translate(26.2 236.2) scale(0.86 1)" font-size="11.66" text-anchor="end">10</text><text x="27.1" y="229.8" font-size="7.42">3</text>
<text transform="translate(26.2 267.9) scale(0.86 1)" font-size="11.66" text-anchor="end">10</text><text x="27.1" y="261.6" font-size="7.42">2</text>
<text transform="translate(30.4 299.7) scale(0.82 1)" font-size="11.66" text-anchor="end">10</text>
<text transform="translate(30.4 331.4) scale(0.82 1)" font-size="11.66" text-anchor="end">1</text>
<text transform="translate(26.2 363.2) scale(0.86 1)" font-size="11.66" text-anchor="end">10</text><text x="27.1" y="356.8" font-size="7.42">-1</text>
<text transform="translate(26.2 394.9) scale(0.86 1)" font-size="11.66" text-anchor="end">10</text><text x="27.1" y="388.6" font-size="7.42">-2</text>
<text x="86.3" y="425.9" font-size="11.2" text-anchor="end">10</text><text x="86.8" y="419.5" font-size="7">2</text>
<text x="165.9" y="425.9" font-size="11.2" text-anchor="end">10</text><text x="166.4" y="419.5" font-size="7">3</text>
<text x="245.5" y="425.9" font-size="11.2" text-anchor="end">10</text><text x="246.0" y="419.5" font-size="7">4</text>
<text x="325.1" y="425.9" font-size="11.2" text-anchor="end">10</text><text x="325.6" y="419.5" font-size="7">5</text>
<text x="176.6" y="431.3" font-size="12.8" font-weight="bold">TS</text>
<text transform="translate(13.8 102.7) rotate(-90)" font-size="11.6" font-weight="bold" text-anchor="middle">LP_TSCurv</text>
<text transform="translate(14.2 308.3) rotate(-90)" font-size="12.5" font-weight="bold" text-anchor="middle">LP_TSCurv</text>
<circle cx="229.4" cy="134.4" r="1.8" fill="#0000ff"/><text x="234" y="137.8" font-size="12" font-weight="bold">pulsars</text>
<path d="M227.3 148.1l3 3M227.3 151.1l3 -3" stroke="#8c8c8c" stroke-width="0.9"/><text x="234" y="153" font-size="12" font-weight="bold">blazars</text>
<circle cx="229.5" cy="370.1" r="1.7" fill="#ff0000"/><text x="234.9" y="372.3" font-size="12.2" font-weight="bold">|b|&gt;10</text><circle cx="273.4" cy="366.6" r="1.5" fill="none" stroke="#000" stroke-width="0.8"/><text x="278.2" y="372.3" font-size="13" font-weight="bold">unass.</text>
</g></svg></body></html>
